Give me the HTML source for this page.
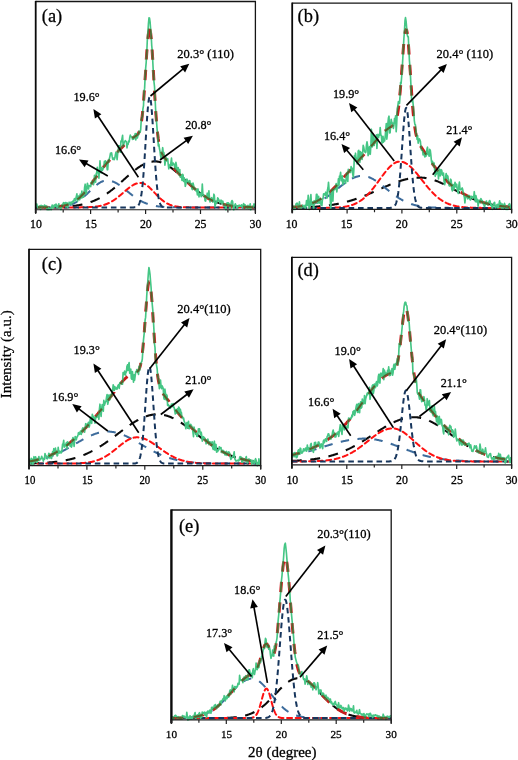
<!DOCTYPE html>
<html lang="en">
<head>
<meta charset="utf-8">
<title>XRD deconvolution</title>
<style>
html,body{margin:0;padding:0;background:#fff;}
body{width:518px;height:760px;overflow:hidden;font-family:"Liberation Serif",serif;}
svg{display:block;position:absolute;left:0;top:0;}
svg text{font-family:"Liberation Serif",serif;fill:#000;stroke:#000;stroke-width:0.28px;}
svg{will-change:transform;}
</style>
</head>
<body>
<svg width="518" height="760" viewBox="0 0 518 760">
<rect x="0" y="0" width="518" height="760" fill="#fff"/>
<g id="panel-a">
<clipPath id="clip-a"><rect x="35.7" y="1.5" width="219.70" height="209.00"/></clipPath>
<g clip-path="url(#clip-a)" fill="none" stroke-linejoin="round">
<path d="M35.7 207.4L36.2 207.4L36.7 207.4L37.2 207.4L37.7 207.4L38.2 207.4L38.7 207.4L39.2 207.4L39.7 207.4L40.2 207.4L40.7 207.3L41.2 207.3L41.7 207.3L42.2 207.3L42.7 207.3L43.2 207.3L43.7 207.3L44.2 207.3L44.7 207.3L45.2 207.3L45.7 207.3L46.2 207.3L46.7 207.3L47.2 207.3L47.7 207.3L48.2 207.3L48.7 207.3L49.2 207.3L49.7 207.3L50.2 207.2L50.7 207.2L51.2 207.2L51.7 207.2L52.2 207.2L52.7 207.2L53.2 207.2L53.7 207.2L54.2 207.2L54.7 207.2L55.2 207.1L55.7 207.1L56.2 207.1L56.7 207.1L57.2 207.1L57.7 207.1L58.2 207.0L58.7 207.0L59.2 207.0L59.7 207.0L60.2 207.0L60.7 206.9L61.2 206.9L61.7 206.9L62.2 206.9L62.7 206.9L63.2 206.8L63.7 206.8L64.2 206.8L64.7 206.7L65.2 206.7L65.7 206.7L66.2 206.6L66.7 206.6L67.2 206.6L67.7 206.5L68.2 206.5L68.7 206.4L69.2 206.4L69.7 206.4L70.2 206.3L70.7 206.3L71.2 206.2L71.7 206.2L72.2 206.1L72.7 206.0L73.2 206.0L73.7 205.9L74.2 205.9L74.7 205.8L75.2 205.7L75.7 205.7L76.2 205.6L76.7 205.5L77.2 205.4L77.7 205.3L78.2 205.3L78.7 205.2L79.2 205.1L79.7 205.0L80.2 204.9L80.7 204.8L81.2 204.7L81.7 204.6L82.2 204.5L82.7 204.4L83.2 204.3L83.7 204.1L84.2 204.0L84.7 203.9L85.2 203.8L85.7 203.6L86.2 203.5L86.7 203.3L87.2 203.2L87.7 203.0L88.2 202.9L88.7 202.7L89.2 202.6L89.7 202.4L90.2 202.2L90.7 202.0L91.2 201.9L91.7 201.7L92.2 201.5L92.7 201.3L93.2 201.1L93.7 200.9L94.2 200.7L94.7 200.5L95.2 200.2L95.7 200.0L96.2 199.8L96.7 199.6L97.2 199.3L97.7 199.1L98.2 198.8L98.7 198.6L99.2 198.3L99.7 198.0L100.2 197.8L100.7 197.5L101.2 197.2L101.7 196.9L102.2 196.6L102.7 196.3L103.2 196.0L103.7 195.7L104.2 195.4L104.7 195.1L105.2 194.7L105.7 194.4L106.2 194.1L106.7 193.7L107.2 193.4L107.7 193.0L108.2 192.7L108.7 192.3L109.2 192.0L109.7 191.6L110.2 191.2L110.7 190.8L111.2 190.4L111.7 190.1L112.2 189.7L112.7 189.3L113.2 188.9L113.7 188.5L114.2 188.1L114.7 187.6L115.2 187.2L115.7 186.8L116.2 186.4L116.7 186.0L117.2 185.5L117.7 185.1L118.2 184.7L118.7 184.2L119.2 183.8L119.7 183.3L120.2 182.9L120.7 182.5L121.2 182.0L121.7 181.6L122.2 181.1L122.7 180.7L123.2 180.2L123.7 179.8L124.2 179.3L124.7 178.9L125.2 178.4L125.7 178.0L126.2 177.5L126.7 177.1L127.2 176.6L127.7 176.2L128.2 175.7L128.7 175.3L129.2 174.9L129.7 174.4L130.2 174.0L130.7 173.6L131.2 173.1L131.7 172.7L132.2 172.3L132.7 171.9L133.2 171.5L133.7 171.1L134.2 170.7L134.7 170.3L135.2 169.9L135.7 169.5L136.2 169.1L136.7 168.8L137.2 168.4L137.7 168.0L138.2 167.7L138.7 167.3L139.2 167.0L139.7 166.7L140.2 166.4L140.7 166.0L141.2 165.7L141.7 165.4L142.2 165.2L142.7 164.9L143.2 164.6L143.7 164.4L144.2 164.1L144.7 163.9L145.2 163.6L145.7 163.4L146.2 163.2L146.7 163.0L147.2 162.8L147.7 162.7L148.2 162.5L148.7 162.3L149.2 162.2L149.7 162.1L150.2 161.9L150.7 161.8L151.2 161.7L151.7 161.7L152.2 161.6L152.7 161.5L153.2 161.5L153.7 161.4L154.2 161.4L154.7 161.4L155.2 161.4L155.7 161.4L156.2 161.4L156.7 161.5L157.2 161.5L157.7 161.6L158.2 161.7L158.7 161.8L159.2 161.9L159.7 162.0L160.2 162.1L160.7 162.3L161.2 162.4L161.7 162.6L162.2 162.7L162.7 162.9L163.2 163.1L163.7 163.4L164.2 163.6L164.7 163.8L165.2 164.1L165.7 164.3L166.2 164.6L166.7 164.9L167.2 165.2L167.7 165.5L168.2 165.8L168.7 166.1L169.2 166.4L169.7 166.8L170.2 167.1L170.7 167.5L171.2 167.8L171.7 168.2L172.2 168.6L172.7 169.0L173.2 169.4L173.7 169.8L174.2 170.2L174.7 170.6L175.2 171.0L175.7 171.4L176.2 171.9L176.7 172.3L177.2 172.7L177.7 173.2L178.2 173.6L178.7 174.1L179.2 174.5L179.7 175.0L180.2 175.5L180.7 175.9L181.2 176.4L181.7 176.9L182.2 177.3L182.7 177.8L183.2 178.3L183.7 178.7L184.2 179.2L184.7 179.7L185.2 180.2L185.7 180.6L186.2 181.1L186.7 181.6L187.2 182.0L187.7 182.5L188.2 183.0L188.7 183.4L189.2 183.9L189.7 184.4L190.2 184.8L190.7 185.3L191.2 185.7L191.7 186.2L192.2 186.6L192.7 187.1L193.2 187.5L193.7 187.9L194.2 188.4L194.7 188.8L195.2 189.2L195.7 189.6L196.2 190.1L196.7 190.5L197.2 190.9L197.7 191.3L198.2 191.7L198.7 192.0L199.2 192.4L199.7 192.8L200.2 193.2L200.7 193.5L201.2 193.9L201.7 194.3L202.2 194.6L202.7 195.0L203.2 195.3L203.7 195.6L204.2 196.0L204.7 196.3L205.2 196.6L205.7 196.9L206.2 197.2L206.7 197.5L207.2 197.8L207.7 198.1L208.2 198.4L208.7 198.6L209.2 198.9L209.7 199.2L210.2 199.4L210.7 199.7L211.2 199.9L211.7 200.1L212.2 200.4L212.7 200.6L213.2 200.8L213.7 201.0L214.2 201.3L214.7 201.5L215.2 201.7L215.7 201.9L216.2 202.1L216.7 202.2L217.2 202.4L217.7 202.6L218.2 202.8L218.7 202.9L219.2 203.1L219.7 203.2L220.2 203.4L220.7 203.5L221.2 203.7L221.7 203.8L222.2 204.0L222.7 204.1L223.2 204.2L223.7 204.3L224.2 204.5L224.7 204.6L225.2 204.7L225.7 204.8L226.2 204.9L226.7 205.0L227.2 205.1L227.7 205.2L228.2 205.3L228.7 205.4L229.2 205.5L229.7 205.5L230.2 205.6L230.7 205.7L231.2 205.8L231.7 205.8L232.2 205.9L232.7 206.0L233.2 206.0L233.7 206.1L234.2 206.1L234.7 206.2L235.2 206.3L235.7 206.3L236.2 206.4L236.7 206.4L237.2 206.5L237.7 206.5L238.2 206.5L238.7 206.6L239.2 206.6L239.7 206.7L240.2 206.7L240.7 206.7L241.2 206.8L241.7 206.8L242.2 206.8L242.7 206.8L243.2 206.9L243.7 206.9L244.2 206.9L244.7 206.9L245.2 207.0L245.7 207.0L246.2 207.0L246.7 207.0L247.2 207.1L247.7 207.1L248.2 207.1L248.7 207.1L249.2 207.1L249.7 207.1L250.2 207.1L250.7 207.2L251.2 207.2L251.7 207.2L252.2 207.2L252.7 207.2L253.2 207.2L253.7 207.2L254.2 207.2L254.7 207.2L255.2 207.3" stroke="#0a0a0a" stroke-width="2.1" stroke-dasharray="10 8.5"/>
<path d="M35.7 207.4L36.2 207.4L36.7 207.4L37.2 207.4L37.7 207.4L38.2 207.4L38.7 207.4L39.2 207.4L39.7 207.4L40.2 207.4L40.7 207.4L41.2 207.4L41.7 207.4L42.2 207.4L42.7 207.4L43.2 207.4L43.7 207.4L44.2 207.4L44.7 207.4L45.2 207.4L45.7 207.4L46.2 207.4L46.7 207.3L47.2 207.3L47.7 207.3L48.2 207.3L48.7 207.3L49.2 207.3L49.7 207.3L50.2 207.3L50.7 207.3L51.2 207.3L51.7 207.3L52.2 207.3L52.7 207.2L53.2 207.2L53.7 207.2L54.2 207.2L54.7 207.2L55.2 207.1L55.7 207.1L56.2 207.1L56.7 207.1L57.2 207.0L57.7 207.0L58.2 207.0L58.7 206.9L59.2 206.9L59.7 206.8L60.2 206.8L60.7 206.7L61.2 206.7L61.7 206.6L62.2 206.6L62.7 206.5L63.2 206.4L63.7 206.3L64.2 206.3L64.7 206.2L65.2 206.1L65.7 206.0L66.2 205.9L66.7 205.8L67.2 205.7L67.7 205.5L68.2 205.4L68.7 205.3L69.2 205.1L69.7 205.0L70.2 204.8L70.7 204.6L71.2 204.5L71.7 204.3L72.2 204.1L72.7 203.9L73.2 203.7L73.7 203.4L74.2 203.2L74.7 203.0L75.2 202.7L75.7 202.4L76.2 202.2L76.7 201.9L77.2 201.6L77.7 201.3L78.2 201.0L78.7 200.6L79.2 200.3L79.7 200.0L80.2 199.6L80.7 199.2L81.2 198.9L81.7 198.5L82.2 198.1L82.7 197.7L83.2 197.3L83.7 196.8L84.2 196.4L84.7 196.0L85.2 195.5L85.7 195.1L86.2 194.6L86.7 194.2L87.2 193.7L87.7 193.2L88.2 192.8L88.7 192.3L89.2 191.8L89.7 191.3L90.2 190.8L90.7 190.3L91.2 189.9L91.7 189.4L92.2 188.9L92.7 188.4L93.2 188.0L93.7 187.5L94.2 187.1L94.7 186.6L95.2 186.2L95.7 185.8L96.2 185.3L96.7 184.9L97.2 184.5L97.7 184.2L98.2 183.8L98.7 183.4L99.2 183.1L99.7 182.8L100.2 182.5L100.7 182.2L101.2 181.9L101.7 181.7L102.2 181.5L102.7 181.3L103.2 181.1L103.7 180.9L104.2 180.8L104.7 180.6L105.2 180.6L105.7 180.5L106.2 180.4L106.7 180.4L107.2 180.4L107.7 180.4L108.2 180.4L108.7 180.5L109.2 180.6L109.7 180.6L110.2 180.7L110.7 180.9L111.2 181.0L111.7 181.1L112.2 181.3L112.7 181.5L113.2 181.7L113.7 181.9L114.2 182.1L114.7 182.3L115.2 182.6L115.7 182.8L116.2 183.1L116.7 183.4L117.2 183.7L117.7 184.0L118.2 184.3L118.7 184.6L119.2 185.0L119.7 185.3L120.2 185.7L120.7 186.0L121.2 186.4L121.7 186.8L122.2 187.2L122.7 187.6L123.2 188.0L123.7 188.3L124.2 188.7L124.7 189.1L125.2 189.6L125.7 190.0L126.2 190.4L126.7 190.8L127.2 191.2L127.7 191.6L128.2 192.0L128.7 192.4L129.2 192.8L129.7 193.2L130.2 193.6L130.7 194.0L131.2 194.4L131.7 194.8L132.2 195.2L132.7 195.6L133.2 196.0L133.7 196.3L134.2 196.7L134.7 197.1L135.2 197.4L135.7 197.8L136.2 198.1L136.7 198.4L137.2 198.8L137.7 199.1L138.2 199.4L138.7 199.7L139.2 200.0L139.7 200.3L140.2 200.6L140.7 200.9L141.2 201.1L141.7 201.4L142.2 201.7L142.7 201.9L143.2 202.2L143.7 202.4L144.2 202.6L144.7 202.8L145.2 203.0L145.7 203.2L146.2 203.4L146.7 203.6L147.2 203.8L147.7 204.0L148.2 204.2L148.7 204.3L149.2 204.5L149.7 204.6L150.2 204.8L150.7 204.9L151.2 205.1L151.7 205.2L152.2 205.3L152.7 205.4L153.2 205.5L153.7 205.6L154.2 205.7L154.7 205.8L155.2 205.9L155.7 206.0L156.2 206.1L156.7 206.2L157.2 206.2L157.7 206.3L158.2 206.4L158.7 206.4L159.2 206.5L159.7 206.6L160.2 206.6L160.7 206.7L161.2 206.7L161.7 206.8L162.2 206.8L162.7 206.8L163.2 206.9L163.7 206.9L164.2 206.9L164.7 207.0L165.2 207.0L165.7 207.0L166.2 207.1L166.7 207.1L167.2 207.1L167.7 207.1L168.2 207.1L168.7 207.2L169.2 207.2L169.7 207.2L170.2 207.2L170.7 207.2L171.2 207.2L171.7 207.3L172.2 207.3L172.7 207.3L173.2 207.3L173.7 207.3L174.2 207.3L174.7 207.3L175.2 207.3L175.7 207.3L176.2 207.3L176.7 207.3L177.2 207.3L177.7 207.3L178.2 207.4L178.7 207.4L179.2 207.4L179.7 207.4L180.2 207.4L180.7 207.4L181.2 207.4L181.7 207.4L182.2 207.4L182.7 207.4L183.2 207.4L183.7 207.4L184.2 207.4L184.7 207.4L185.2 207.4L185.7 207.4L186.2 207.4L186.7 207.4L187.2 207.4L187.7 207.4L188.2 207.4L188.7 207.4L189.2 207.4L189.7 207.4L190.2 207.4L190.7 207.4L191.2 207.4L191.7 207.4L192.2 207.4L192.7 207.4L193.2 207.4L193.7 207.4L194.2 207.4L194.7 207.4L195.2 207.4L195.7 207.4L196.2 207.4L196.7 207.4L197.2 207.4L197.7 207.4L198.2 207.4L198.7 207.4L199.2 207.4L199.7 207.4L200.2 207.4L200.7 207.4L201.2 207.4L201.7 207.4L202.2 207.4L202.7 207.4L203.2 207.4L203.7 207.4L204.2 207.4L204.7 207.4L205.2 207.4L205.7 207.4L206.2 207.4L206.7 207.4L207.2 207.4L207.7 207.4L208.2 207.4L208.7 207.4L209.2 207.4L209.7 207.4L210.2 207.4L210.7 207.4L211.2 207.4L211.7 207.4L212.2 207.4L212.7 207.4L213.2 207.4L213.7 207.4L214.2 207.4L214.7 207.4L215.2 207.4L215.7 207.4L216.2 207.4L216.7 207.4L217.2 207.4L217.7 207.4L218.2 207.4L218.7 207.4L219.2 207.4L219.7 207.4L220.2 207.4L220.7 207.4L221.2 207.4L221.7 207.4L222.2 207.4L222.7 207.4L223.2 207.4L223.7 207.4L224.2 207.4L224.7 207.4L225.2 207.4L225.7 207.4L226.2 207.4L226.7 207.4L227.2 207.4L227.7 207.4L228.2 207.4L228.7 207.4L229.2 207.4L229.7 207.4L230.2 207.4L230.7 207.4L231.2 207.4L231.7 207.4L232.2 207.4L232.7 207.4L233.2 207.4L233.7 207.4L234.2 207.4L234.7 207.4L235.2 207.4L235.7 207.4L236.2 207.4L236.7 207.4L237.2 207.4L237.7 207.4L238.2 207.4L238.7 207.4L239.2 207.4L239.7 207.4L240.2 207.4L240.7 207.4L241.2 207.4L241.7 207.4L242.2 207.4L242.7 207.4L243.2 207.4L243.7 207.4L244.2 207.4L244.7 207.4L245.2 207.4L245.7 207.4L246.2 207.4L246.7 207.4L247.2 207.4L247.7 207.4L248.2 207.4L248.7 207.4L249.2 207.4L249.7 207.4L250.2 207.4L250.7 207.4L251.2 207.4L251.7 207.4L252.2 207.4L252.7 207.4L253.2 207.4L253.7 207.4L254.2 207.4L254.7 207.4L255.2 207.4" stroke="#3d6c9c" stroke-width="2.0" stroke-dasharray="8.5 8.5"/>
<path d="M35.7 207.4L36.2 207.4L36.7 207.4L37.2 207.4L37.7 207.4L38.2 207.4L38.7 207.4L39.2 207.4L39.7 207.4L40.2 207.4L40.7 207.4L41.2 207.4L41.7 207.4L42.2 207.4L42.7 207.4L43.2 207.4L43.7 207.4L44.2 207.4L44.7 207.4L45.2 207.4L45.7 207.4L46.2 207.4L46.7 207.4L47.2 207.4L47.7 207.4L48.2 207.4L48.7 207.4L49.2 207.4L49.7 207.4L50.2 207.4L50.7 207.4L51.2 207.4L51.7 207.4L52.2 207.4L52.7 207.4L53.2 207.4L53.7 207.4L54.2 207.4L54.7 207.4L55.2 207.4L55.7 207.4L56.2 207.4L56.7 207.4L57.2 207.4L57.7 207.4L58.2 207.4L58.7 207.4L59.2 207.4L59.7 207.4L60.2 207.4L60.7 207.4L61.2 207.4L61.7 207.4L62.2 207.4L62.7 207.4L63.2 207.4L63.7 207.4L64.2 207.4L64.7 207.4L65.2 207.4L65.7 207.4L66.2 207.4L66.7 207.4L67.2 207.4L67.7 207.4L68.2 207.4L68.7 207.4L69.2 207.4L69.7 207.4L70.2 207.4L70.7 207.4L71.2 207.4L71.7 207.4L72.2 207.4L72.7 207.4L73.2 207.4L73.7 207.4L74.2 207.4L74.7 207.4L75.2 207.4L75.7 207.4L76.2 207.4L76.7 207.4L77.2 207.4L77.7 207.4L78.2 207.4L78.7 207.4L79.2 207.4L79.7 207.4L80.2 207.4L80.7 207.3L81.2 207.3L81.7 207.3L82.2 207.3L82.7 207.3L83.2 207.3L83.7 207.3L84.2 207.3L84.7 207.3L85.2 207.3L85.7 207.3L86.2 207.2L86.7 207.2L87.2 207.2L87.7 207.2L88.2 207.2L88.7 207.2L89.2 207.1L89.7 207.1L90.2 207.1L90.7 207.1L91.2 207.0L91.7 207.0L92.2 207.0L92.7 206.9L93.2 206.9L93.7 206.8L94.2 206.8L94.7 206.7L95.2 206.7L95.7 206.6L96.2 206.6L96.7 206.5L97.2 206.4L97.7 206.4L98.2 206.3L98.7 206.2L99.2 206.1L99.7 206.0L100.2 205.9L100.7 205.8L101.2 205.7L101.7 205.6L102.2 205.4L102.7 205.3L103.2 205.2L103.7 205.0L104.2 204.9L104.7 204.7L105.2 204.5L105.7 204.3L106.2 204.2L106.7 204.0L107.2 203.8L107.7 203.5L108.2 203.3L108.7 203.1L109.2 202.9L109.7 202.6L110.2 202.3L110.7 202.1L111.2 201.8L111.7 201.5L112.2 201.2L112.7 200.9L113.2 200.6L113.7 200.3L114.2 199.9L114.7 199.6L115.2 199.2L115.7 198.9L116.2 198.5L116.7 198.1L117.2 197.7L117.7 197.4L118.2 197.0L118.7 196.6L119.2 196.1L119.7 195.7L120.2 195.3L120.7 194.9L121.2 194.5L121.7 194.0L122.2 193.6L122.7 193.2L123.2 192.7L123.7 192.3L124.2 191.8L124.7 191.4L125.2 191.0L125.7 190.5L126.2 190.1L126.7 189.7L127.2 189.3L127.7 188.9L128.2 188.5L128.7 188.1L129.2 187.7L129.7 187.3L130.2 186.9L130.7 186.6L131.2 186.2L131.7 185.9L132.2 185.6L132.7 185.3L133.2 185.0L133.7 184.7L134.2 184.5L134.7 184.2L135.2 184.0L135.7 183.8L136.2 183.6L136.7 183.5L137.2 183.3L137.7 183.2L138.2 183.1L138.7 183.0L139.2 183.0L139.7 182.9L140.2 182.9L140.7 182.9L141.2 182.9L141.7 183.0L142.2 183.1L142.7 183.2L143.2 183.4L143.7 183.6L144.2 183.8L144.7 184.0L145.2 184.3L145.7 184.6L146.2 184.9L146.7 185.3L147.2 185.6L147.7 186.0L148.2 186.4L148.7 186.8L149.2 187.3L149.7 187.8L150.2 188.2L150.7 188.7L151.2 189.2L151.7 189.7L152.2 190.2L152.7 190.7L153.2 191.3L153.7 191.8L154.2 192.3L154.7 192.9L155.2 193.4L155.7 193.9L156.2 194.4L156.7 195.0L157.2 195.5L157.7 196.0L158.2 196.5L158.7 197.0L159.2 197.5L159.7 197.9L160.2 198.4L160.7 198.8L161.2 199.3L161.7 199.7L162.2 200.1L162.7 200.5L163.2 200.9L163.7 201.3L164.2 201.6L164.7 202.0L165.2 202.3L165.7 202.6L166.2 202.9L166.7 203.2L167.2 203.5L167.7 203.7L168.2 204.0L168.7 204.2L169.2 204.4L169.7 204.7L170.2 204.9L170.7 205.0L171.2 205.2L171.7 205.4L172.2 205.5L172.7 205.7L173.2 205.8L173.7 206.0L174.2 206.1L174.7 206.2L175.2 206.3L175.7 206.4L176.2 206.5L176.7 206.6L177.2 206.6L177.7 206.7L178.2 206.8L178.7 206.8L179.2 206.9L179.7 206.9L180.2 207.0L180.7 207.0L181.2 207.0L181.7 207.1L182.2 207.1L182.7 207.1L183.2 207.2L183.7 207.2L184.2 207.2L184.7 207.2L185.2 207.3L185.7 207.3L186.2 207.3L186.7 207.3L187.2 207.3L187.7 207.3L188.2 207.3L188.7 207.3L189.2 207.3L189.7 207.4L190.2 207.4L190.7 207.4L191.2 207.4L191.7 207.4L192.2 207.4L192.7 207.4L193.2 207.4L193.7 207.4L194.2 207.4L194.7 207.4L195.2 207.4L195.7 207.4L196.2 207.4L196.7 207.4L197.2 207.4L197.7 207.4L198.2 207.4L198.7 207.4L199.2 207.4L199.7 207.4L200.2 207.4L200.7 207.4L201.2 207.4L201.7 207.4L202.2 207.4L202.7 207.4L203.2 207.4L203.7 207.4L204.2 207.4L204.7 207.4L205.2 207.4L205.7 207.4L206.2 207.4L206.7 207.4L207.2 207.4L207.7 207.4L208.2 207.4L208.7 207.4L209.2 207.4L209.7 207.4L210.2 207.4L210.7 207.4L211.2 207.4L211.7 207.4L212.2 207.4L212.7 207.4L213.2 207.4L213.7 207.4L214.2 207.4L214.7 207.4L215.2 207.4L215.7 207.4L216.2 207.4L216.7 207.4L217.2 207.4L217.7 207.4L218.2 207.4L218.7 207.4L219.2 207.4L219.7 207.4L220.2 207.4L220.7 207.4L221.2 207.4L221.7 207.4L222.2 207.4L222.7 207.4L223.2 207.4L223.7 207.4L224.2 207.4L224.7 207.4L225.2 207.4L225.7 207.4L226.2 207.4L226.7 207.4L227.2 207.4L227.7 207.4L228.2 207.4L228.7 207.4L229.2 207.4L229.7 207.4L230.2 207.4L230.7 207.4L231.2 207.4L231.7 207.4L232.2 207.4L232.7 207.4L233.2 207.4L233.7 207.4L234.2 207.4L234.7 207.4L235.2 207.4L235.7 207.4L236.2 207.4L236.7 207.4L237.2 207.4L237.7 207.4L238.2 207.4L238.7 207.4L239.2 207.4L239.7 207.4L240.2 207.4L240.7 207.4L241.2 207.4L241.7 207.4L242.2 207.4L242.7 207.4L243.2 207.4L243.7 207.4L244.2 207.4L244.7 207.4L245.2 207.4L245.7 207.4L246.2 207.4L246.7 207.4L247.2 207.4L247.7 207.4L248.2 207.4L248.7 207.4L249.2 207.4L249.7 207.4L250.2 207.4L250.7 207.4L251.2 207.4L251.7 207.4L252.2 207.4L252.7 207.4L253.2 207.4L253.7 207.4L254.2 207.4L254.7 207.4L255.2 207.4" stroke="#ff1010" stroke-width="2.0" stroke-dasharray="5 3.6" stroke-linecap="round"/>
<path d="M35.7 207.4L36.2 207.4L36.7 207.4L37.2 207.4L37.7 207.4L38.2 207.4L38.7 207.4L39.2 207.4L39.7 207.4L40.2 207.4L40.7 207.4L41.2 207.4L41.7 207.4L42.2 207.4L42.7 207.4L43.2 207.4L43.7 207.4L44.2 207.4L44.7 207.4L45.2 207.4L45.7 207.4L46.2 207.4L46.7 207.4L47.2 207.4L47.7 207.4L48.2 207.4L48.7 207.4L49.2 207.4L49.7 207.4L50.2 207.4L50.7 207.4L51.2 207.4L51.7 207.4L52.2 207.4L52.7 207.4L53.2 207.4L53.7 207.4L54.2 207.4L54.7 207.4L55.2 207.4L55.7 207.4L56.2 207.4L56.7 207.4L57.2 207.4L57.7 207.4L58.2 207.4L58.7 207.4L59.2 207.4L59.7 207.4L60.2 207.4L60.7 207.4L61.2 207.4L61.7 207.4L62.2 207.4L62.7 207.4L63.2 207.4L63.7 207.4L64.2 207.4L64.7 207.4L65.2 207.4L65.7 207.4L66.2 207.4L66.7 207.4L67.2 207.4L67.7 207.4L68.2 207.4L68.7 207.4L69.2 207.4L69.7 207.4L70.2 207.4L70.7 207.4L71.2 207.4L71.7 207.4L72.2 207.4L72.7 207.4L73.2 207.4L73.7 207.4L74.2 207.4L74.7 207.4L75.2 207.4L75.7 207.4L76.2 207.4L76.7 207.4L77.2 207.4L77.7 207.4L78.2 207.4L78.7 207.4L79.2 207.4L79.7 207.4L80.2 207.4L80.7 207.4L81.2 207.4L81.7 207.4L82.2 207.4L82.7 207.4L83.2 207.4L83.7 207.4L84.2 207.4L84.7 207.4L85.2 207.4L85.7 207.4L86.2 207.4L86.7 207.4L87.2 207.4L87.7 207.4L88.2 207.4L88.7 207.4L89.2 207.4L89.7 207.4L90.2 207.4L90.7 207.4L91.2 207.4L91.7 207.4L92.2 207.4L92.7 207.4L93.2 207.4L93.7 207.4L94.2 207.4L94.7 207.4L95.2 207.4L95.7 207.4L96.2 207.4L96.7 207.4L97.2 207.4L97.7 207.4L98.2 207.4L98.7 207.4L99.2 207.4L99.7 207.4L100.2 207.4L100.7 207.4L101.2 207.4L101.7 207.4L102.2 207.4L102.7 207.4L103.2 207.4L103.7 207.4L104.2 207.4L104.7 207.4L105.2 207.4L105.7 207.4L106.2 207.4L106.7 207.4L107.2 207.4L107.7 207.4L108.2 207.4L108.7 207.4L109.2 207.4L109.7 207.4L110.2 207.4L110.7 207.4L111.2 207.4L111.7 207.4L112.2 207.4L112.7 207.4L113.2 207.4L113.7 207.4L114.2 207.4L114.7 207.4L115.2 207.4L115.7 207.4L116.2 207.4L116.7 207.4L117.2 207.4L117.7 207.4L118.2 207.4L118.7 207.4L119.2 207.4L119.7 207.4L120.2 207.4L120.7 207.4L121.2 207.4L121.7 207.4L122.2 207.4L122.7 207.4L123.2 207.4L123.7 207.4L124.2 207.4L124.7 207.4L125.2 207.4L125.7 207.4L126.2 207.4L126.7 207.4L127.2 207.4L127.7 207.4L128.2 207.4L128.7 207.4L129.2 207.4L129.7 207.4L130.2 207.4L130.7 207.4L131.2 207.4L131.7 207.4L132.2 207.4L132.7 207.4L133.2 207.4L133.7 207.4L134.2 207.3L134.7 207.3L135.2 207.2L135.7 207.2L136.2 207.0L136.7 206.8L137.2 206.6L137.7 206.2L138.2 205.6L138.7 204.9L139.2 203.9L139.7 202.5L140.2 200.8L140.7 198.6L141.2 195.8L141.7 192.4L142.2 188.3L142.7 183.5L143.2 177.9L143.7 171.5L144.2 164.4L144.7 156.8L145.2 148.7L145.7 140.3L146.2 132.0L146.7 123.9L147.2 116.4L147.7 109.8L148.2 104.3L148.7 100.2L149.2 97.7L149.7 96.8L150.2 97.7L150.7 100.2L151.2 104.3L151.7 109.8L152.2 116.4L152.7 123.9L153.2 132.0L153.7 140.3L154.2 148.7L154.7 156.8L155.2 164.4L155.7 171.5L156.2 177.9L156.7 183.5L157.2 188.3L157.7 192.4L158.2 195.8L158.7 198.6L159.2 200.8L159.7 202.5L160.2 203.9L160.7 204.9L161.2 205.6L161.7 206.2L162.2 206.6L162.7 206.8L163.2 207.0L163.7 207.2L164.2 207.2L164.7 207.3L165.2 207.3L165.7 207.4L166.2 207.4L166.7 207.4L167.2 207.4L167.7 207.4L168.2 207.4L168.7 207.4L169.2 207.4L169.7 207.4L170.2 207.4L170.7 207.4L171.2 207.4L171.7 207.4L172.2 207.4L172.7 207.4L173.2 207.4L173.7 207.4L174.2 207.4L174.7 207.4L175.2 207.4L175.7 207.4L176.2 207.4L176.7 207.4L177.2 207.4L177.7 207.4L178.2 207.4L178.7 207.4L179.2 207.4L179.7 207.4L180.2 207.4L180.7 207.4L181.2 207.4L181.7 207.4L182.2 207.4L182.7 207.4L183.2 207.4L183.7 207.4L184.2 207.4L184.7 207.4L185.2 207.4L185.7 207.4L186.2 207.4L186.7 207.4L187.2 207.4L187.7 207.4L188.2 207.4L188.7 207.4L189.2 207.4L189.7 207.4L190.2 207.4L190.7 207.4L191.2 207.4L191.7 207.4L192.2 207.4L192.7 207.4L193.2 207.4L193.7 207.4L194.2 207.4L194.7 207.4L195.2 207.4L195.7 207.4L196.2 207.4L196.7 207.4L197.2 207.4L197.7 207.4L198.2 207.4L198.7 207.4L199.2 207.4L199.7 207.4L200.2 207.4L200.7 207.4L201.2 207.4L201.7 207.4L202.2 207.4L202.7 207.4L203.2 207.4L203.7 207.4L204.2 207.4L204.7 207.4L205.2 207.4L205.7 207.4L206.2 207.4L206.7 207.4L207.2 207.4L207.7 207.4L208.2 207.4L208.7 207.4L209.2 207.4L209.7 207.4L210.2 207.4L210.7 207.4L211.2 207.4L211.7 207.4L212.2 207.4L212.7 207.4L213.2 207.4L213.7 207.4L214.2 207.4L214.7 207.4L215.2 207.4L215.7 207.4L216.2 207.4L216.7 207.4L217.2 207.4L217.7 207.4L218.2 207.4L218.7 207.4L219.2 207.4L219.7 207.4L220.2 207.4L220.7 207.4L221.2 207.4L221.7 207.4L222.2 207.4L222.7 207.4L223.2 207.4L223.7 207.4L224.2 207.4L224.7 207.4L225.2 207.4L225.7 207.4L226.2 207.4L226.7 207.4L227.2 207.4L227.7 207.4L228.2 207.4L228.7 207.4L229.2 207.4L229.7 207.4L230.2 207.4L230.7 207.4L231.2 207.4L231.7 207.4L232.2 207.4L232.7 207.4L233.2 207.4L233.7 207.4L234.2 207.4L234.7 207.4L235.2 207.4L235.7 207.4L236.2 207.4L236.7 207.4L237.2 207.4L237.7 207.4L238.2 207.4L238.7 207.4L239.2 207.4L239.7 207.4L240.2 207.4L240.7 207.4L241.2 207.4L241.7 207.4L242.2 207.4L242.7 207.4L243.2 207.4L243.7 207.4L244.2 207.4L244.7 207.4L245.2 207.4L245.7 207.4L246.2 207.4L246.7 207.4L247.2 207.4L247.7 207.4L248.2 207.4L248.7 207.4L249.2 207.4L249.7 207.4L250.2 207.4L250.7 207.4L251.2 207.4L251.7 207.4L252.2 207.4L252.7 207.4L253.2 207.4L253.7 207.4L254.2 207.4L254.7 207.4L255.2 207.4" stroke="#17365d" stroke-width="2.0" stroke-dasharray="5.6 3.8"/>
<path d="M149.7 29.1L149.2 29.4L148.7 31.5L148.2 35.2L147.8 39.0M147.0 49.3L146.7 53.6L146.3 59.5M145.7 69.8L145.2 77.4L145.0 80.1M144.4 90.4L144.2 92.7L143.7 99.6L143.6 100.7M142.7 110.9L142.7 111.3L142.2 116.1L141.7 120.1L141.5 121.1M139.4 131.2L139.2 131.6L138.7 132.8L138.2 133.6L137.7 134.3L137.2 134.8L136.7 135.3L136.2 135.7L135.7 136.0L135.2 136.4L134.7 136.7L134.2 137.0L133.7 137.3L133.2 137.6L132.7 137.9L132.2 138.2M124.4 144.9L124.2 145.1L123.7 145.6L123.2 146.1L122.7 146.6L122.2 147.1L121.7 147.6L121.2 148.1L120.7 148.6L120.2 149.1L119.7 149.6L119.2 150.1L118.7 150.6L118.2 151.1L117.7 151.7L117.2 152.2L117.2 152.2M110.0 159.7L109.7 160.0L109.2 160.6L108.7 161.1L108.2 161.7L107.7 162.2L107.2 162.8L106.7 163.3L106.2 163.9L105.7 164.4L105.2 165.0L104.7 165.6L104.2 166.2L103.7 166.8L103.2 167.4M97.1 175.6L96.7 176.2L96.2 176.9L95.7 177.6L95.2 178.3L94.7 179.0L94.2 179.7L93.7 180.4L93.2 181.2L92.7 181.9L92.2 182.6L91.7 183.3L91.2 184.0L91.1 184.1M84.8 192.2L84.7 192.3L84.2 192.9L83.7 193.5L83.2 194.0L82.7 194.6L82.2 195.1L81.7 195.6L81.2 196.1L80.7 196.6L80.2 197.1L79.7 197.5L79.2 198.0L78.7 198.4L78.2 198.8L77.7 199.2L77.5 199.4M68.5 204.4L68.2 204.5L67.7 204.7L67.2 204.8L66.7 205.0L66.2 205.1L65.7 205.3L65.2 205.4L64.7 205.5L64.2 205.6L63.7 205.7L63.2 205.8L62.7 205.9L62.2 206.0L61.7 206.1L61.2 206.2L60.7 206.3L60.2 206.4L59.7 206.4L59.2 206.5L58.7 206.6L58.5 206.6M48.2 207.2L47.7 207.2L47.2 207.2L46.7 207.2L46.2 207.3L45.7 207.3L45.2 207.3L44.7 207.3L44.2 207.3L43.7 207.3L43.2 207.3L42.7 207.3L42.2 207.3L41.7 207.3L41.2 207.3L40.7 207.3L40.2 207.3L39.7 207.3L39.2 207.3L38.7 207.4L38.2 207.4L37.9 207.4M149.7 29.1L150.2 30.4L150.7 33.5L151.2 38.1L151.3 39.2M152.1 49.5L152.2 51.3L152.7 59.4L152.7 59.7M153.3 70.0L153.7 77.0L153.9 80.3M154.5 90.6L154.7 94.7L155.1 100.9M155.7 111.2L156.2 117.6L156.5 121.4M157.4 131.7L157.7 134.1L158.2 138.2L158.7 141.6L158.8 141.9M161.2 151.9L161.7 153.0L162.2 154.0L162.7 154.9L163.2 155.7L163.7 156.5L164.2 157.2L164.7 157.9L165.2 158.5L165.7 159.1L166.2 159.8L166.7 160.4L166.8 160.5M173.7 168.2L173.7 168.2L174.2 168.8L174.7 169.3L175.2 169.8L175.7 170.3L176.2 170.9L176.7 171.4L177.2 171.9L177.7 172.4L178.2 172.9L178.7 173.5L179.2 174.0L179.7 174.5L180.2 175.0L180.7 175.5L180.8 175.6M188.1 182.8L188.2 182.9L188.7 183.4L189.2 183.8L189.7 184.3L190.2 184.8L190.7 185.2L191.2 185.7L191.7 186.2L192.2 186.6L192.7 187.0L193.2 187.5L193.7 187.9L194.2 188.4L194.7 188.8L195.2 189.2L195.7 189.6L195.8 189.7M204.0 195.8L204.2 196.0L204.7 196.3L205.2 196.6L205.7 196.9L206.2 197.2L206.7 197.5L207.2 197.8L207.7 198.1L208.2 198.4L208.7 198.6L209.2 198.9L209.7 199.2L210.2 199.4L210.7 199.7L211.2 199.9L211.7 200.1L212.2 200.4L212.7 200.6L213.1 200.8M222.8 204.1L223.2 204.2L223.7 204.3L224.2 204.5L224.7 204.6L225.2 204.7L225.7 204.8L226.2 204.9L226.7 205.0L227.2 205.1L227.7 205.2L228.2 205.3L228.7 205.4L229.2 205.5L229.7 205.5L230.2 205.6L230.7 205.7L231.2 205.8L231.7 205.8L232.2 205.9L232.7 206.0L232.9 206.0M243.2 206.9L243.2 206.9L243.7 206.9L244.2 206.9L244.7 206.9L245.2 207.0L245.7 207.0L246.2 207.0L246.7 207.0L247.2 207.1L247.7 207.1L248.2 207.1L248.7 207.1L249.2 207.1L249.7 207.1L250.2 207.1L250.7 207.2L251.2 207.2L251.7 207.2L252.2 207.2L252.7 207.2L253.2 207.2L253.5 207.2" stroke="#c81c1c" stroke-width="3"/>
<defs><path id="gp-a" d="M35.7 206.7L36.2 204.6L36.8 204.0L37.3 207.1L37.9 207.8L38.4 208.0L39.0 206.3L39.5 206.7L40.1 205.7L40.6 209.7L41.2 205.3L41.7 206.2L42.3 205.8L42.8 206.8L43.4 207.7L43.9 206.3L44.5 205.1L45.0 206.8L45.6 207.3L46.1 205.7L46.7 208.0L47.2 210.1L47.8 207.0L48.3 207.8L48.9 210.3L49.4 209.4L50.0 208.1L50.5 209.2L51.1 210.2L51.6 207.5L52.2 205.0L52.7 206.5L53.3 208.1L53.8 206.3L54.4 204.9L54.9 206.6L55.5 205.6L56.0 204.1L56.6 206.1L57.1 208.0L57.7 206.1L58.2 205.5L58.8 203.8L59.3 207.9L59.9 208.2L60.4 208.0L61.0 209.9L61.5 206.7L62.1 204.5L62.6 206.7L63.2 203.1L63.7 202.7L64.3 203.3L64.8 203.8L65.4 202.6L65.9 206.9L66.5 204.3L67.0 202.7L67.6 207.7L68.1 204.6L68.7 204.2L69.2 202.2L69.8 203.9L70.3 203.6L70.9 202.2L71.4 204.5L72.0 201.8L72.5 202.0L73.1 200.8L73.6 202.4L74.2 199.1L74.7 198.6L75.3 200.5L75.8 198.8L76.4 196.2L76.9 193.9L77.5 201.4L78.0 197.6L78.6 196.1L79.1 197.4L79.7 199.8L80.2 194.2L80.8 198.3L81.3 195.2L81.9 191.0L82.4 197.6L83.0 196.1L83.5 197.2L84.1 193.2L84.6 187.5L85.2 184.2L85.7 193.9L86.3 193.4L86.8 187.9L87.4 183.3L87.9 185.1L88.5 189.0L89.0 186.4L89.6 185.5L90.1 185.7L90.7 186.7L91.2 183.1L91.8 181.4L92.3 181.9L92.9 182.0L93.4 184.7L94.0 182.6L94.5 175.4L95.1 177.4L95.6 182.2L96.2 173.7L96.7 172.5L97.3 167.3L97.8 171.6L98.4 174.9L98.9 178.1L99.5 169.0L100.0 160.8L100.6 170.3L101.1 172.9L101.7 167.6L102.2 170.5L102.8 169.5L103.3 168.4L103.9 165.9L104.4 161.4L105.0 163.5L105.5 160.9L106.1 164.0L106.6 162.3L107.2 169.8L107.7 169.7L108.3 160.0L108.8 161.7L109.4 158.5L109.9 156.6L110.5 153.2L111.0 153.5L111.6 152.8L112.1 156.2L112.7 159.2L113.2 159.5L113.8 158.1L114.3 159.6L114.9 157.7L115.4 154.6L116.0 152.2L116.5 153.4L117.1 159.7L117.6 154.1L118.2 150.0L118.7 145.7L119.3 145.9L119.8 150.8L120.4 152.2L120.9 141.0L121.5 141.7L122.0 138.6L122.6 135.4L123.1 146.2L123.7 144.7L124.2 142.3L124.8 141.3L125.3 140.7L125.9 141.5L126.4 141.6L127.0 147.9L127.5 144.3L128.1 144.4L128.6 141.1L129.2 141.9L129.7 137.8L130.3 135.1L130.8 136.5L131.4 136.7L131.9 137.2L132.5 139.4L133.0 138.6L133.6 139.2L134.1 135.7L134.7 135.7L135.2 133.6L135.8 140.0L136.3 133.5L136.9 136.5L137.4 137.9L138.0 135.1L138.5 134.9L139.1 131.1L139.6 131.6L140.2 132.2L140.7 129.3L141.3 119.3L141.8 117.2L142.4 117.0L142.9 109.2L143.5 105.6L144.0 91.5L144.6 88.4L145.1 77.9L145.7 67.6L146.2 62.3L146.8 51.5L147.3 40.5L147.9 32.0L148.4 24.2L149.0 17.9L149.5 18.0L150.1 22.0L150.6 29.0L151.2 35.3L151.7 45.3L152.3 51.5L152.8 62.0L153.4 73.9L153.9 81.1L154.5 86.5L155.0 96.3L155.6 109.3L156.1 115.1L156.7 124.1L157.2 130.3L157.8 134.4L158.3 146.0L158.9 144.3L159.4 148.5L160.0 151.1L160.5 155.4L161.1 158.1L161.6 157.6L162.2 151.8L162.7 147.7L163.3 153.6L163.8 152.4L164.4 156.7L164.9 165.1L165.5 160.3L166.0 157.4L166.6 160.9L167.1 159.9L167.7 158.7L168.2 164.2L168.8 168.8L169.3 165.6L169.9 164.7L170.4 165.8L171.0 161.8L171.5 158.1L172.1 165.5L172.6 164.7L173.2 163.1L173.7 164.3L174.3 164.0L174.8 169.2L175.4 167.5L175.9 162.3L176.5 165.7L177.0 172.6L177.6 170.6L178.1 167.5L178.7 170.4L179.2 175.1L179.8 169.6L180.3 177.2L180.9 175.0L181.4 175.4L182.0 180.4L182.5 174.3L183.1 175.1L183.6 181.5L184.2 177.9L184.7 179.9L185.3 186.3L185.8 184.5L186.4 180.7L186.9 179.0L187.5 180.6L188.0 182.0L188.6 181.4L189.1 183.6L189.7 180.5L190.2 182.8L190.8 183.9L191.3 183.5L191.9 188.6L192.4 189.6L193.0 183.0L193.5 184.9L194.1 188.4L194.6 187.6L195.2 189.9L195.7 188.9L196.3 191.4L196.8 190.0L197.4 194.9L197.9 188.8L198.5 191.7L199.0 196.9L199.6 194.4L200.1 194.0L200.7 193.1L201.2 196.6L201.8 193.9L202.3 184.1L202.9 194.9L203.4 195.3L204.0 196.0L204.5 195.5L205.1 200.8L205.6 201.1L206.2 196.6L206.7 196.8L207.3 193.2L207.8 198.2L208.4 198.2L208.9 190.8L209.5 198.1L210.0 201.9L210.6 200.1L211.1 199.6L211.7 197.7L212.2 199.0L212.8 202.0L213.3 200.6L213.9 194.2L214.4 195.8L215.0 206.8L215.5 203.9L216.1 203.8L216.6 201.0L217.2 201.9L217.7 197.9L218.3 198.8L218.8 199.8L219.4 201.6L219.9 202.9L220.5 202.4L221.0 200.1L221.6 201.2L222.1 203.9L222.7 201.1L223.2 202.5L223.8 204.0L224.3 205.9L224.9 206.0L225.4 206.1L226.0 210.3L226.5 204.4L227.1 202.8L227.6 204.8L228.2 202.8L228.7 203.3L229.3 204.0L229.8 210.0L230.4 207.4L230.9 204.4L231.5 201.7L232.0 200.6L232.6 201.4L233.1 207.0L233.7 210.3L234.2 206.1L234.8 205.4L235.3 203.9L235.9 205.5L236.4 205.6L237.0 208.8L237.5 206.2L238.1 206.7L238.6 205.8L239.2 205.1L239.7 206.2L240.3 205.8L240.8 206.2L241.4 204.9L241.9 205.0L242.5 207.2L243.0 207.9L243.6 203.6L244.1 205.6L244.7 204.7L245.2 205.2L245.8 207.4L246.3 208.4L246.9 206.9L247.4 206.1L248.0 205.4L248.5 208.7L249.1 208.6L249.6 207.3L250.2 203.9L250.7 210.1L251.3 207.4L251.8 207.5L252.4 206.3L252.9 207.4L253.5 206.5L254.0 203.8L254.6 205.3L255.1 205.9"/></defs>
<use href="#gp-a" fill="none" stroke="#45c685" stroke-width="1.65"/>
<mask id="gm-a" maskUnits="userSpaceOnUse" x="35.7" y="1.5" width="219.7" height="209.2"><use href="#gp-a" fill="none" stroke="#fff" stroke-width="1.65" stroke-linejoin="round"/></mask>
<path d="M149.7 29.1L149.2 29.4L148.7 31.5L148.2 35.2L147.8 39.0M147.0 49.3L146.7 53.6L146.3 59.5M145.7 69.8L145.2 77.4L145.0 80.1M144.4 90.4L144.2 92.7L143.7 99.6L143.6 100.7M142.7 110.9L142.7 111.3L142.2 116.1L141.7 120.1L141.5 121.1M139.4 131.2L139.2 131.6L138.7 132.8L138.2 133.6L137.7 134.3L137.2 134.8L136.7 135.3L136.2 135.7L135.7 136.0L135.2 136.4L134.7 136.7L134.2 137.0L133.7 137.3L133.2 137.6L132.7 137.9L132.2 138.2M124.4 144.9L124.2 145.1L123.7 145.6L123.2 146.1L122.7 146.6L122.2 147.1L121.7 147.6L121.2 148.1L120.7 148.6L120.2 149.1L119.7 149.6L119.2 150.1L118.7 150.6L118.2 151.1L117.7 151.7L117.2 152.2L117.2 152.2M110.0 159.7L109.7 160.0L109.2 160.6L108.7 161.1L108.2 161.7L107.7 162.2L107.2 162.8L106.7 163.3L106.2 163.9L105.7 164.4L105.2 165.0L104.7 165.6L104.2 166.2L103.7 166.8L103.2 167.4M97.1 175.6L96.7 176.2L96.2 176.9L95.7 177.6L95.2 178.3L94.7 179.0L94.2 179.7L93.7 180.4L93.2 181.2L92.7 181.9L92.2 182.6L91.7 183.3L91.2 184.0L91.1 184.1M84.8 192.2L84.7 192.3L84.2 192.9L83.7 193.5L83.2 194.0L82.7 194.6L82.2 195.1L81.7 195.6L81.2 196.1L80.7 196.6L80.2 197.1L79.7 197.5L79.2 198.0L78.7 198.4L78.2 198.8L77.7 199.2L77.5 199.4M68.5 204.4L68.2 204.5L67.7 204.7L67.2 204.8L66.7 205.0L66.2 205.1L65.7 205.3L65.2 205.4L64.7 205.5L64.2 205.6L63.7 205.7L63.2 205.8L62.7 205.9L62.2 206.0L61.7 206.1L61.2 206.2L60.7 206.3L60.2 206.4L59.7 206.4L59.2 206.5L58.7 206.6L58.5 206.6M48.2 207.2L47.7 207.2L47.2 207.2L46.7 207.2L46.2 207.3L45.7 207.3L45.2 207.3L44.7 207.3L44.2 207.3L43.7 207.3L43.2 207.3L42.7 207.3L42.2 207.3L41.7 207.3L41.2 207.3L40.7 207.3L40.2 207.3L39.7 207.3L39.2 207.3L38.7 207.4L38.2 207.4L37.9 207.4M149.7 29.1L150.2 30.4L150.7 33.5L151.2 38.1L151.3 39.2M152.1 49.5L152.2 51.3L152.7 59.4L152.7 59.7M153.3 70.0L153.7 77.0L153.9 80.3M154.5 90.6L154.7 94.7L155.1 100.9M155.7 111.2L156.2 117.6L156.5 121.4M157.4 131.7L157.7 134.1L158.2 138.2L158.7 141.6L158.8 141.9M161.2 151.9L161.7 153.0L162.2 154.0L162.7 154.9L163.2 155.7L163.7 156.5L164.2 157.2L164.7 157.9L165.2 158.5L165.7 159.1L166.2 159.8L166.7 160.4L166.8 160.5M173.7 168.2L173.7 168.2L174.2 168.8L174.7 169.3L175.2 169.8L175.7 170.3L176.2 170.9L176.7 171.4L177.2 171.9L177.7 172.4L178.2 172.9L178.7 173.5L179.2 174.0L179.7 174.5L180.2 175.0L180.7 175.5L180.8 175.6M188.1 182.8L188.2 182.9L188.7 183.4L189.2 183.8L189.7 184.3L190.2 184.8L190.7 185.2L191.2 185.7L191.7 186.2L192.2 186.6L192.7 187.0L193.2 187.5L193.7 187.9L194.2 188.4L194.7 188.8L195.2 189.2L195.7 189.6L195.8 189.7M204.0 195.8L204.2 196.0L204.7 196.3L205.2 196.6L205.7 196.9L206.2 197.2L206.7 197.5L207.2 197.8L207.7 198.1L208.2 198.4L208.7 198.6L209.2 198.9L209.7 199.2L210.2 199.4L210.7 199.7L211.2 199.9L211.7 200.1L212.2 200.4L212.7 200.6L213.1 200.8M222.8 204.1L223.2 204.2L223.7 204.3L224.2 204.5L224.7 204.6L225.2 204.7L225.7 204.8L226.2 204.9L226.7 205.0L227.2 205.1L227.7 205.2L228.2 205.3L228.7 205.4L229.2 205.5L229.7 205.5L230.2 205.6L230.7 205.7L231.2 205.8L231.7 205.8L232.2 205.9L232.7 206.0L232.9 206.0M243.2 206.9L243.2 206.9L243.7 206.9L244.2 206.9L244.7 206.9L245.2 207.0L245.7 207.0L246.2 207.0L246.7 207.0L247.2 207.1L247.7 207.1L248.2 207.1L248.7 207.1L249.2 207.1L249.7 207.1L250.2 207.1L250.7 207.2L251.2 207.2L251.7 207.2L252.2 207.2L252.7 207.2L253.2 207.2L253.5 207.2" stroke="#55612b" stroke-width="2.1" mask="url(#gm-a)"/>
</g>
<path d="M35.7 1.5L255.4 1.5L255.4 213.1" fill="none" stroke="#151515" stroke-width="1.3"/>
<path d="M35.7 0.85L35.7 213.1" fill="none" stroke="#0a0a0a" stroke-width="1.8"/>
<path d="M34.900000000000006 209.7L256.0 209.7" fill="none" stroke="#1c1c1c" stroke-width="1.15"/>
<path d="M35.7 209.7L35.7 213.9M63.2 209.7L63.2 212.5M90.6 209.7L90.6 213.9M118.1 209.7L118.1 212.5M145.6 209.7L145.6 213.9M173.0 209.7L173.0 212.5M200.5 209.7L200.5 213.9M227.9 209.7L227.9 212.5M255.4 209.7L255.4 213.9" fill="none" stroke="#222" stroke-width="1.2"/>
<text transform="translate(36.0 228.1) scale(1 1.09)" font-size="11.85" text-anchor="middle" stroke-width="0.06">10</text>
<text transform="translate(90.9 228.1) scale(1 1.09)" font-size="11.85" text-anchor="middle" stroke-width="0.06">15</text>
<text transform="translate(145.8 228.1) scale(1 1.09)" font-size="11.85" text-anchor="middle" stroke-width="0.06">20</text>
<text transform="translate(200.6 228.1) scale(1 1.09)" font-size="11.85" text-anchor="middle" stroke-width="0.06">25</text>
<text transform="translate(255.5 228.1) scale(1 1.09)" font-size="11.85" text-anchor="middle" stroke-width="0.06">30</text>
<text x="41.8" y="22.1" font-size="18.4">(a)</text>
<path d="M150.5 96.0L183.4 68.7" stroke="#000" stroke-width="1.65" fill="none"/><path d="M189.3 63.8L185.1 72.4L180.2 66.3Z" fill="#000"/>
<path d="M138.4 177.3L97.6 115.5" stroke="#000" stroke-width="1.65" fill="none"/><path d="M93.4 109.1L101.4 114.2L94.9 118.5Z" fill="#000"/>
<path d="M107.8 176.0L85.7 163.3" stroke="#000" stroke-width="1.65" fill="none"/><path d="M79.0 159.5L88.5 160.4L84.6 167.2Z" fill="#000"/>
<path d="M160.0 160.0L186.7 140.3" stroke="#000" stroke-width="1.65" fill="none"/><path d="M192.9 135.7L188.2 144.0L183.6 137.8Z" fill="#000"/>
<text transform="translate(177.3 57.7) scale(1 1.06)" font-size="12.5" stroke-width="0.2">20.3° (110)</text>
<text transform="translate(73.5 101) scale(1 1.06)" font-size="12.2" stroke-width="0.2">19.6°</text>
<text transform="translate(55 153.5) scale(1 1.06)" font-size="12.2" stroke-width="0.2">16.6°</text>
<text transform="translate(185.2 129.4) scale(1 1.06)" font-size="12.2" stroke-width="0.2">20.8°</text>
</g>
<g id="panel-b">
<clipPath id="clip-b"><rect x="292.2" y="3.2" width="219.40" height="207.00"/></clipPath>
<g clip-path="url(#clip-b)" fill="none" stroke-linejoin="round">
<path d="M292.2 207.7L292.7 207.7L293.2 207.6L293.7 207.6L294.2 207.6L294.7 207.6L295.2 207.6L295.7 207.6L296.2 207.6L296.7 207.6L297.2 207.6L297.7 207.5L298.2 207.5L298.7 207.5L299.2 207.5L299.7 207.5L300.2 207.5L300.7 207.5L301.2 207.4L301.7 207.4L302.2 207.4L302.7 207.4L303.2 207.4L303.7 207.4L304.2 207.3L304.7 207.3L305.2 207.3L305.7 207.3L306.2 207.3L306.7 207.2L307.2 207.2L307.7 207.2L308.2 207.2L308.7 207.1L309.2 207.1L309.7 207.1L310.2 207.1L310.7 207.0L311.2 207.0L311.7 207.0L312.2 206.9L312.7 206.9L313.2 206.9L313.7 206.8L314.2 206.8L314.7 206.8L315.2 206.7L315.7 206.7L316.2 206.7L316.7 206.6L317.2 206.6L317.7 206.6L318.2 206.5L318.7 206.5L319.2 206.4L319.7 206.4L320.2 206.3L320.7 206.3L321.2 206.2L321.7 206.2L322.2 206.1L322.7 206.1L323.2 206.0L323.7 206.0L324.2 205.9L324.7 205.9L325.2 205.8L325.7 205.7L326.2 205.7L326.7 205.6L327.2 205.6L327.7 205.5L328.2 205.4L328.7 205.4L329.2 205.3L329.7 205.2L330.2 205.1L330.7 205.1L331.2 205.0L331.7 204.9L332.2 204.8L332.7 204.8L333.2 204.7L333.7 204.6L334.2 204.5L334.7 204.4L335.2 204.3L335.7 204.2L336.2 204.1L336.7 204.1L337.2 204.0L337.7 203.9L338.2 203.8L338.7 203.7L339.2 203.6L339.7 203.4L340.2 203.3L340.7 203.2L341.2 203.1L341.7 203.0L342.2 202.9L342.7 202.8L343.2 202.7L343.7 202.5L344.2 202.4L344.7 202.3L345.2 202.2L345.7 202.0L346.2 201.9L346.7 201.8L347.2 201.6L347.7 201.5L348.2 201.4L348.7 201.2L349.2 201.1L349.7 200.9L350.2 200.8L350.7 200.6L351.2 200.5L351.7 200.3L352.2 200.2L352.7 200.0L353.2 199.9L353.7 199.7L354.2 199.5L354.7 199.4L355.2 199.2L355.7 199.0L356.2 198.9L356.7 198.7L357.2 198.5L357.7 198.3L358.2 198.2L358.7 198.0L359.2 197.8L359.7 197.6L360.2 197.4L360.7 197.3L361.2 197.1L361.7 196.9L362.2 196.7L362.7 196.5L363.2 196.3L363.7 196.1L364.2 195.9L364.7 195.7L365.2 195.5L365.7 195.3L366.2 195.1L366.7 194.9L367.2 194.7L367.7 194.5L368.2 194.3L368.7 194.0L369.2 193.8L369.7 193.6L370.2 193.4L370.7 193.2L371.2 193.0L371.7 192.8L372.2 192.5L372.7 192.3L373.2 192.1L373.7 191.9L374.2 191.7L374.7 191.4L375.2 191.2L375.7 191.0L376.2 190.8L376.7 190.6L377.2 190.3L377.7 190.1L378.2 189.9L378.7 189.7L379.2 189.4L379.7 189.2L380.2 189.0L380.7 188.8L381.2 188.5L381.7 188.3L382.2 188.1L382.7 187.9L383.2 187.6L383.7 187.4L384.2 187.2L384.7 187.0L385.2 186.8L385.7 186.5L386.2 186.3L386.7 186.1L387.2 185.9L387.7 185.7L388.2 185.5L388.7 185.3L389.2 185.0L389.7 184.8L390.2 184.6L390.7 184.4L391.2 184.2L391.7 184.0L392.2 183.8L392.7 183.6L393.2 183.4L393.7 183.2L394.2 183.0L394.7 182.9L395.2 182.7L395.7 182.5L396.2 182.3L396.7 182.1L397.2 181.9L397.7 181.8L398.2 181.6L398.7 181.4L399.2 181.3L399.7 181.1L400.2 180.9L400.7 180.8L401.2 180.6L401.7 180.5L402.2 180.3L402.7 180.2L403.2 180.0L403.7 179.9L404.2 179.8L404.7 179.6L405.2 179.5L405.7 179.4L406.2 179.3L406.7 179.2L407.2 179.0L407.7 178.9L408.2 178.8L408.7 178.7L409.2 178.6L409.7 178.5L410.2 178.5L410.7 178.4L411.2 178.3L411.7 178.2L412.2 178.1L412.7 178.1L413.2 178.0L413.7 178.0L414.2 177.9L414.7 177.9L415.2 177.8L415.7 177.8L416.2 177.7L416.7 177.7L417.2 177.7L417.7 177.6L418.2 177.6L418.7 177.6L419.2 177.6L419.7 177.6L420.2 177.6L420.7 177.6L421.2 177.6L421.7 177.6L422.2 177.7L422.7 177.7L423.2 177.7L423.7 177.8L424.2 177.8L424.7 177.9L425.2 178.0L425.7 178.0L426.2 178.1L426.7 178.2L427.2 178.3L427.7 178.4L428.2 178.5L428.7 178.6L429.2 178.7L429.7 178.8L430.2 178.9L430.7 179.1L431.2 179.2L431.7 179.3L432.2 179.5L432.7 179.6L433.2 179.8L433.7 180.0L434.2 180.1L434.7 180.3L435.2 180.5L435.7 180.7L436.2 180.9L436.7 181.0L437.2 181.2L437.7 181.4L438.2 181.6L438.7 181.9L439.2 182.1L439.7 182.3L440.2 182.5L440.7 182.7L441.2 183.0L441.7 183.2L442.2 183.4L442.7 183.7L443.2 183.9L443.7 184.1L444.2 184.4L444.7 184.6L445.2 184.9L445.7 185.1L446.2 185.4L446.7 185.6L447.2 185.9L447.7 186.2L448.2 186.4L448.7 186.7L449.2 186.9L449.7 187.2L450.2 187.5L450.7 187.7L451.2 188.0L451.7 188.3L452.2 188.6L452.7 188.8L453.2 189.1L453.7 189.4L454.2 189.6L454.7 189.9L455.2 190.2L455.7 190.4L456.2 190.7L456.7 191.0L457.2 191.2L457.7 191.5L458.2 191.8L458.7 192.0L459.2 192.3L459.7 192.6L460.2 192.8L460.7 193.1L461.2 193.4L461.7 193.6L462.2 193.9L462.7 194.1L463.2 194.4L463.7 194.6L464.2 194.9L464.7 195.1L465.2 195.4L465.7 195.6L466.2 195.9L466.7 196.1L467.2 196.3L467.7 196.6L468.2 196.8L468.7 197.0L469.2 197.3L469.7 197.5L470.2 197.7L470.7 197.9L471.2 198.1L471.7 198.4L472.2 198.6L472.7 198.8L473.2 199.0L473.7 199.2L474.2 199.4L474.7 199.6L475.2 199.8L475.7 200.0L476.2 200.2L476.7 200.4L477.2 200.5L477.7 200.7L478.2 200.9L478.7 201.1L479.2 201.2L479.7 201.4L480.2 201.6L480.7 201.7L481.2 201.9L481.7 202.1L482.2 202.2L482.7 202.4L483.2 202.5L483.7 202.7L484.2 202.8L484.7 202.9L485.2 203.1L485.7 203.2L486.2 203.3L486.7 203.5L487.2 203.6L487.7 203.7L488.2 203.8L488.7 204.0L489.2 204.1L489.7 204.2L490.2 204.3L490.7 204.4L491.2 204.5L491.7 204.6L492.2 204.7L492.7 204.8L493.2 204.9L493.7 205.0L494.2 205.1L494.7 205.2L495.2 205.3L495.7 205.4L496.2 205.4L496.7 205.5L497.2 205.6L497.7 205.7L498.2 205.7L498.7 205.8L499.2 205.9L499.7 206.0L500.2 206.0L500.7 206.1L501.2 206.2L501.7 206.2L502.2 206.3L502.7 206.3L503.2 206.4L503.7 206.4L504.2 206.5L504.7 206.5L505.2 206.6L505.7 206.6L506.2 206.7L506.7 206.7L507.2 206.8L507.7 206.8L508.2 206.9L508.7 206.9L509.2 206.9L509.7 207.0L510.2 207.0L510.7 207.0L511.2 207.1" stroke="#0a0a0a" stroke-width="2.1" stroke-dasharray="10 8.5"/>
<path d="M292.2 207.4L292.7 207.4L293.2 207.4L293.7 207.3L294.2 207.3L294.7 207.3L295.2 207.2L295.7 207.2L296.2 207.2L296.7 207.1L297.2 207.1L297.7 207.0L298.2 207.0L298.7 206.9L299.2 206.9L299.7 206.8L300.2 206.7L300.7 206.7L301.2 206.6L301.7 206.5L302.2 206.5L302.7 206.4L303.2 206.3L303.7 206.2L304.2 206.1L304.7 206.0L305.2 206.0L305.7 205.9L306.2 205.8L306.7 205.6L307.2 205.5L307.7 205.4L308.2 205.3L308.7 205.2L309.2 205.1L309.7 204.9L310.2 204.8L310.7 204.6L311.2 204.5L311.7 204.3L312.2 204.2L312.7 204.0L313.2 203.9L313.7 203.7L314.2 203.5L314.7 203.3L315.2 203.1L315.7 202.9L316.2 202.7L316.7 202.5L317.2 202.3L317.7 202.1L318.2 201.8L318.7 201.6L319.2 201.4L319.7 201.1L320.2 200.9L320.7 200.6L321.2 200.4L321.7 200.1L322.2 199.8L322.7 199.5L323.2 199.2L323.7 198.9L324.2 198.6L324.7 198.3L325.2 198.0L325.7 197.7L326.2 197.4L326.7 197.1L327.2 196.7L327.7 196.4L328.2 196.0L328.7 195.7L329.2 195.3L329.7 195.0L330.2 194.6L330.7 194.2L331.2 193.9L331.7 193.5L332.2 193.1L332.7 192.7L333.2 192.3L333.7 191.9L334.2 191.5L334.7 191.1L335.2 190.7L335.7 190.3L336.2 189.9L336.7 189.5L337.2 189.1L337.7 188.7L338.2 188.3L338.7 187.9L339.2 187.5L339.7 187.1L340.2 186.7L340.7 186.3L341.2 185.9L341.7 185.5L342.2 185.1L342.7 184.7L343.2 184.4L343.7 184.0L344.2 183.6L344.7 183.2L345.2 182.9L345.7 182.5L346.2 182.1L346.7 181.8L347.2 181.4L347.7 181.1L348.2 180.8L348.7 180.5L349.2 180.1L349.7 179.8L350.2 179.5L350.7 179.3L351.2 179.0L351.7 178.7L352.2 178.5L352.7 178.2L353.2 178.0L353.7 177.8L354.2 177.5L354.7 177.3L355.2 177.2L355.7 177.0L356.2 176.8L356.7 176.7L357.2 176.5L357.7 176.4L358.2 176.3L358.7 176.2L359.2 176.1L359.7 176.0L360.2 176.0L360.7 175.9L361.2 175.9L361.7 175.9L362.2 175.9L362.7 175.9L363.2 175.9L363.7 176.0L364.2 176.0L364.7 176.1L365.2 176.2L365.7 176.3L366.2 176.4L366.7 176.5L367.2 176.6L367.7 176.8L368.2 177.0L368.7 177.1L369.2 177.3L369.7 177.5L370.2 177.7L370.7 177.9L371.2 178.2L371.7 178.4L372.2 178.7L372.7 178.9L373.2 179.2L373.7 179.5L374.2 179.8L374.7 180.1L375.2 180.4L375.7 180.7L376.2 181.0L376.7 181.4L377.2 181.7L377.7 182.1L378.2 182.4L378.7 182.8L379.2 183.1L379.7 183.5L380.2 183.9L380.7 184.3L381.2 184.7L381.7 185.1L382.2 185.4L382.7 185.8L383.2 186.2L383.7 186.6L384.2 187.0L384.7 187.4L385.2 187.8L385.7 188.2L386.2 188.7L386.7 189.1L387.2 189.5L387.7 189.9L388.2 190.3L388.7 190.7L389.2 191.1L389.7 191.5L390.2 191.9L390.7 192.2L391.2 192.6L391.7 193.0L392.2 193.4L392.7 193.8L393.2 194.2L393.7 194.5L394.2 194.9L394.7 195.3L395.2 195.6L395.7 196.0L396.2 196.3L396.7 196.6L397.2 197.0L397.7 197.3L398.2 197.6L398.7 198.0L399.2 198.3L399.7 198.6L400.2 198.9L400.7 199.2L401.2 199.5L401.7 199.8L402.2 200.0L402.7 200.3L403.2 200.6L403.7 200.8L404.2 201.1L404.7 201.3L405.2 201.6L405.7 201.8L406.2 202.0L406.7 202.3L407.2 202.5L407.7 202.7L408.2 202.9L408.7 203.1L409.2 203.3L409.7 203.5L410.2 203.6L410.7 203.8L411.2 204.0L411.7 204.2L412.2 204.3L412.7 204.5L413.2 204.6L413.7 204.8L414.2 204.9L414.7 205.0L415.2 205.2L415.7 205.3L416.2 205.4L416.7 205.5L417.2 205.6L417.7 205.7L418.2 205.8L418.7 205.9L419.2 206.0L419.7 206.1L420.2 206.2L420.7 206.3L421.2 206.4L421.7 206.4L422.2 206.5L422.7 206.6L423.2 206.7L423.7 206.7L424.2 206.8L424.7 206.8L425.2 206.9L425.7 207.0L426.2 207.0L426.7 207.1L427.2 207.1L427.7 207.1L428.2 207.2L428.7 207.2L429.2 207.3L429.7 207.3L430.2 207.3L430.7 207.4L431.2 207.4L431.7 207.4L432.2 207.5L432.7 207.5L433.2 207.5L433.7 207.5L434.2 207.6L434.7 207.6L435.2 207.6L435.7 207.6L436.2 207.6L436.7 207.6L437.2 207.7L437.7 207.7L438.2 207.7L438.7 207.7L439.2 207.7L439.7 207.7L440.2 207.7L440.7 207.8L441.2 207.8L441.7 207.8L442.2 207.8L442.7 207.8L443.2 207.8L443.7 207.8L444.2 207.8L444.7 207.8L445.2 207.8L445.7 207.8L446.2 207.8L446.7 207.8L447.2 207.8L447.7 207.8L448.2 207.8L448.7 207.9L449.2 207.9L449.7 207.9L450.2 207.9L450.7 207.9L451.2 207.9L451.7 207.9L452.2 207.9L452.7 207.9L453.2 207.9L453.7 207.9L454.2 207.9L454.7 207.9L455.2 207.9L455.7 207.9L456.2 207.9L456.7 207.9L457.2 207.9L457.7 207.9L458.2 207.9L458.7 207.9L459.2 207.9L459.7 207.9L460.2 207.9L460.7 207.9L461.2 207.9L461.7 207.9L462.2 207.9L462.7 207.9L463.2 207.9L463.7 207.9L464.2 207.9L464.7 207.9L465.2 207.9L465.7 207.9L466.2 207.9L466.7 207.9L467.2 207.9L467.7 207.9L468.2 207.9L468.7 207.9L469.2 207.9L469.7 207.9L470.2 207.9L470.7 207.9L471.2 207.9L471.7 207.9L472.2 207.9L472.7 207.9L473.2 207.9L473.7 207.9L474.2 207.9L474.7 207.9L475.2 207.9L475.7 207.9L476.2 207.9L476.7 207.9L477.2 207.9L477.7 207.9L478.2 207.9L478.7 207.9L479.2 207.9L479.7 207.9L480.2 207.9L480.7 207.9L481.2 207.9L481.7 207.9L482.2 207.9L482.7 207.9L483.2 207.9L483.7 207.9L484.2 207.9L484.7 207.9L485.2 207.9L485.7 207.9L486.2 207.9L486.7 207.9L487.2 207.9L487.7 207.9L488.2 207.9L488.7 207.9L489.2 207.9L489.7 207.9L490.2 207.9L490.7 207.9L491.2 207.9L491.7 207.9L492.2 207.9L492.7 207.9L493.2 207.9L493.7 207.9L494.2 207.9L494.7 207.9L495.2 207.9L495.7 207.9L496.2 207.9L496.7 207.9L497.2 207.9L497.7 207.9L498.2 207.9L498.7 207.9L499.2 207.9L499.7 207.9L500.2 207.9L500.7 207.9L501.2 207.9L501.7 207.9L502.2 207.9L502.7 207.9L503.2 207.9L503.7 207.9L504.2 207.9L504.7 207.9L505.2 207.9L505.7 207.9L506.2 207.9L506.7 207.9L507.2 207.9L507.7 207.9L508.2 207.9L508.7 207.9L509.2 207.9L509.7 207.9L510.2 207.9L510.7 207.9L511.2 207.9" stroke="#3d6c9c" stroke-width="2.0" stroke-dasharray="8.5 8.5"/>
<path d="M292.2 207.9L292.7 207.9L293.2 207.9L293.7 207.9L294.2 207.9L294.7 207.9L295.2 207.9L295.7 207.9L296.2 207.9L296.7 207.9L297.2 207.9L297.7 207.9L298.2 207.9L298.7 207.9L299.2 207.9L299.7 207.9L300.2 207.9L300.7 207.9L301.2 207.9L301.7 207.9L302.2 207.9L302.7 207.9L303.2 207.9L303.7 207.9L304.2 207.9L304.7 207.9L305.2 207.9L305.7 207.9L306.2 207.9L306.7 207.9L307.2 207.9L307.7 207.9L308.2 207.9L308.7 207.9L309.2 207.9L309.7 207.9L310.2 207.9L310.7 207.9L311.2 207.9L311.7 207.9L312.2 207.9L312.7 207.9L313.2 207.9L313.7 207.9L314.2 207.9L314.7 207.9L315.2 207.9L315.7 207.9L316.2 207.9L316.7 207.9L317.2 207.9L317.7 207.9L318.2 207.9L318.7 207.9L319.2 207.9L319.7 207.9L320.2 207.9L320.7 207.9L321.2 207.9L321.7 207.9L322.2 207.9L322.7 207.9L323.2 207.9L323.7 207.9L324.2 207.9L324.7 207.9L325.2 207.8L325.7 207.8L326.2 207.8L326.7 207.8L327.2 207.8L327.7 207.8L328.2 207.8L328.7 207.8L329.2 207.8L329.7 207.8L330.2 207.8L330.7 207.8L331.2 207.7L331.7 207.7L332.2 207.7L332.7 207.7L333.2 207.7L333.7 207.7L334.2 207.6L334.7 207.6L335.2 207.6L335.7 207.6L336.2 207.6L336.7 207.5L337.2 207.5L337.7 207.5L338.2 207.4L338.7 207.4L339.2 207.4L339.7 207.3L340.2 207.3L340.7 207.2L341.2 207.2L341.7 207.1L342.2 207.1L342.7 207.0L343.2 207.0L343.7 206.9L344.2 206.8L344.7 206.7L345.2 206.7L345.7 206.6L346.2 206.5L346.7 206.4L347.2 206.3L347.7 206.2L348.2 206.1L348.7 206.0L349.2 205.8L349.7 205.7L350.2 205.6L350.7 205.4L351.2 205.3L351.7 205.1L352.2 204.9L352.7 204.8L353.2 204.6L353.7 204.4L354.2 204.2L354.7 204.0L355.2 203.8L355.7 203.5L356.2 203.3L356.7 203.0L357.2 202.8L357.7 202.5L358.2 202.2L358.7 201.9L359.2 201.6L359.7 201.3L360.2 201.0L360.7 200.7L361.2 200.3L361.7 199.9L362.2 199.6L362.7 199.2L363.2 198.8L363.7 198.4L364.2 198.0L364.7 197.5L365.2 197.1L365.7 196.6L366.2 196.1L366.7 195.6L367.2 195.1L367.7 194.6L368.2 194.1L368.7 193.6L369.2 193.0L369.7 192.5L370.2 191.9L370.7 191.3L371.2 190.7L371.7 190.1L372.2 189.5L372.7 188.9L373.2 188.3L373.7 187.6L374.2 187.0L374.7 186.3L375.2 185.7L375.7 185.0L376.2 184.3L376.7 183.7L377.2 183.0L377.7 182.3L378.2 181.6L378.7 180.9L379.2 180.2L379.7 179.5L380.2 178.8L380.7 178.2L381.2 177.5L381.7 176.8L382.2 176.1L382.7 175.4L383.2 174.8L383.7 174.1L384.2 173.4L384.7 172.8L385.2 172.2L385.7 171.5L386.2 170.9L386.7 170.3L387.2 169.7L387.7 169.1L388.2 168.6L388.7 168.0L389.2 167.5L389.7 167.0L390.2 166.5L390.7 166.0L391.2 165.6L391.7 165.1L392.2 164.7L392.7 164.3L393.2 164.0L393.7 163.6L394.2 163.3L394.7 163.0L395.2 162.8L395.7 162.5L396.2 162.3L396.7 162.1L397.2 162.0L397.7 161.8L398.2 161.7L398.7 161.7L399.2 161.6L399.7 161.6L400.2 161.6L400.7 161.6L401.2 161.7L401.7 161.8L402.2 161.9L402.7 162.0L403.2 162.1L403.7 162.3L404.2 162.5L404.7 162.7L405.2 163.0L405.7 163.2L406.2 163.5L406.7 163.8L407.2 164.1L407.7 164.5L408.2 164.9L408.7 165.2L409.2 165.6L409.7 166.1L410.2 166.5L410.7 166.9L411.2 167.4L411.7 167.9L412.2 168.4L412.7 168.9L413.2 169.4L413.7 170.0L414.2 170.5L414.7 171.1L415.2 171.7L415.7 172.2L416.2 172.8L416.7 173.4L417.2 174.0L417.7 174.6L418.2 175.3L418.7 175.9L419.2 176.5L419.7 177.1L420.2 177.8L420.7 178.4L421.2 179.1L421.7 179.7L422.2 180.3L422.7 181.0L423.2 181.6L423.7 182.2L424.2 182.9L424.7 183.5L425.2 184.1L425.7 184.7L426.2 185.4L426.7 186.0L427.2 186.6L427.7 187.2L428.2 187.8L428.7 188.4L429.2 188.9L429.7 189.5L430.2 190.1L430.7 190.6L431.2 191.2L431.7 191.7L432.2 192.2L432.7 192.8L433.2 193.3L433.7 193.8L434.2 194.3L434.7 194.7L435.2 195.2L435.7 195.7L436.2 196.1L436.7 196.6L437.2 197.0L437.7 197.4L438.2 197.8L438.7 198.2L439.2 198.6L439.7 199.0L440.2 199.3L440.7 199.7L441.2 200.0L441.7 200.4L442.2 200.7L442.7 201.0L443.2 201.3L443.7 201.6L444.2 201.9L444.7 202.1L445.2 202.4L445.7 202.6L446.2 202.9L446.7 203.1L447.2 203.4L447.7 203.6L448.2 203.8L448.7 204.0L449.2 204.2L449.7 204.4L450.2 204.5L450.7 204.7L451.2 204.9L451.7 205.0L452.2 205.2L452.7 205.3L453.2 205.5L453.7 205.6L454.2 205.7L454.7 205.8L455.2 206.0L455.7 206.1L456.2 206.2L456.7 206.3L457.2 206.4L457.7 206.4L458.2 206.5L458.7 206.6L459.2 206.7L459.7 206.8L460.2 206.8L460.7 206.9L461.2 207.0L461.7 207.0L462.2 207.1L462.7 207.1L463.2 207.2L463.7 207.2L464.2 207.3L464.7 207.3L465.2 207.3L465.7 207.4L466.2 207.4L466.7 207.4L467.2 207.5L467.7 207.5L468.2 207.5L468.7 207.6L469.2 207.6L469.7 207.6L470.2 207.6L470.7 207.6L471.2 207.7L471.7 207.7L472.2 207.7L472.7 207.7L473.2 207.7L473.7 207.7L474.2 207.7L474.7 207.8L475.2 207.8L475.7 207.8L476.2 207.8L476.7 207.8L477.2 207.8L477.7 207.8L478.2 207.8L478.7 207.8L479.2 207.8L479.7 207.8L480.2 207.8L480.7 207.8L481.2 207.9L481.7 207.9L482.2 207.9L482.7 207.9L483.2 207.9L483.7 207.9L484.2 207.9L484.7 207.9L485.2 207.9L485.7 207.9L486.2 207.9L486.7 207.9L487.2 207.9L487.7 207.9L488.2 207.9L488.7 207.9L489.2 207.9L489.7 207.9L490.2 207.9L490.7 207.9L491.2 207.9L491.7 207.9L492.2 207.9L492.7 207.9L493.2 207.9L493.7 207.9L494.2 207.9L494.7 207.9L495.2 207.9L495.7 207.9L496.2 207.9L496.7 207.9L497.2 207.9L497.7 207.9L498.2 207.9L498.7 207.9L499.2 207.9L499.7 207.9L500.2 207.9L500.7 207.9L501.2 207.9L501.7 207.9L502.2 207.9L502.7 207.9L503.2 207.9L503.7 207.9L504.2 207.9L504.7 207.9L505.2 207.9L505.7 207.9L506.2 207.9L506.7 207.9L507.2 207.9L507.7 207.9L508.2 207.9L508.7 207.9L509.2 207.9L509.7 207.9L510.2 207.9L510.7 207.9L511.2 207.9" stroke="#ff1010" stroke-width="2.0" stroke-dasharray="5 3.6" stroke-linecap="round"/>
<path d="M292.2 207.9L292.7 207.9L293.2 207.9L293.7 207.9L294.2 207.9L294.7 207.9L295.2 207.9L295.7 207.9L296.2 207.9L296.7 207.9L297.2 207.9L297.7 207.9L298.2 207.9L298.7 207.9L299.2 207.9L299.7 207.9L300.2 207.9L300.7 207.9L301.2 207.9L301.7 207.9L302.2 207.9L302.7 207.9L303.2 207.9L303.7 207.9L304.2 207.9L304.7 207.9L305.2 207.9L305.7 207.9L306.2 207.9L306.7 207.9L307.2 207.9L307.7 207.9L308.2 207.9L308.7 207.9L309.2 207.9L309.7 207.9L310.2 207.9L310.7 207.9L311.2 207.9L311.7 207.9L312.2 207.9L312.7 207.9L313.2 207.9L313.7 207.9L314.2 207.9L314.7 207.9L315.2 207.9L315.7 207.9L316.2 207.9L316.7 207.9L317.2 207.9L317.7 207.9L318.2 207.9L318.7 207.9L319.2 207.9L319.7 207.9L320.2 207.9L320.7 207.9L321.2 207.9L321.7 207.9L322.2 207.9L322.7 207.9L323.2 207.9L323.7 207.9L324.2 207.9L324.7 207.9L325.2 207.9L325.7 207.9L326.2 207.9L326.7 207.9L327.2 207.9L327.7 207.9L328.2 207.9L328.7 207.9L329.2 207.9L329.7 207.9L330.2 207.9L330.7 207.9L331.2 207.9L331.7 207.9L332.2 207.9L332.7 207.9L333.2 207.9L333.7 207.9L334.2 207.9L334.7 207.9L335.2 207.9L335.7 207.9L336.2 207.9L336.7 207.9L337.2 207.9L337.7 207.9L338.2 207.9L338.7 207.9L339.2 207.9L339.7 207.9L340.2 207.9L340.7 207.9L341.2 207.9L341.7 207.9L342.2 207.9L342.7 207.9L343.2 207.9L343.7 207.9L344.2 207.9L344.7 207.9L345.2 207.9L345.7 207.9L346.2 207.9L346.7 207.9L347.2 207.9L347.7 207.9L348.2 207.9L348.7 207.9L349.2 207.9L349.7 207.9L350.2 207.9L350.7 207.9L351.2 207.9L351.7 207.9L352.2 207.9L352.7 207.9L353.2 207.9L353.7 207.9L354.2 207.9L354.7 207.9L355.2 207.9L355.7 207.9L356.2 207.9L356.7 207.9L357.2 207.9L357.7 207.9L358.2 207.9L358.7 207.9L359.2 207.9L359.7 207.9L360.2 207.9L360.7 207.9L361.2 207.9L361.7 207.9L362.2 207.9L362.7 207.9L363.2 207.9L363.7 207.9L364.2 207.9L364.7 207.9L365.2 207.9L365.7 207.9L366.2 207.9L366.7 207.9L367.2 207.9L367.7 207.9L368.2 207.9L368.7 207.9L369.2 207.9L369.7 207.9L370.2 207.9L370.7 207.9L371.2 207.9L371.7 207.9L372.2 207.9L372.7 207.9L373.2 207.9L373.7 207.9L374.2 207.9L374.7 207.9L375.2 207.9L375.7 207.9L376.2 207.9L376.7 207.9L377.2 207.9L377.7 207.9L378.2 207.9L378.7 207.9L379.2 207.9L379.7 207.9L380.2 207.9L380.7 207.9L381.2 207.9L381.7 207.9L382.2 207.9L382.7 207.9L383.2 207.9L383.7 207.9L384.2 207.9L384.7 207.9L385.2 207.9L385.7 207.9L386.2 207.9L386.7 207.9L387.2 207.9L387.7 207.9L388.2 207.9L388.7 207.9L389.2 207.9L389.7 207.9L390.2 207.9L390.7 207.8L391.2 207.8L391.7 207.7L392.2 207.6L392.7 207.5L393.2 207.2L393.7 206.9L394.2 206.5L394.7 205.9L395.2 205.2L395.7 204.1L396.2 202.8L396.7 201.1L397.2 198.9L397.7 196.2L398.2 193.0L398.7 189.1L399.2 184.6L399.7 179.4L400.2 173.6L400.7 167.2L401.2 160.4L401.7 153.1L402.2 145.8L402.7 138.4L403.2 131.4L403.7 124.9L404.2 119.1L404.7 114.4L405.2 110.8L405.7 108.6L406.2 107.9L406.7 108.6L407.2 110.8L407.7 114.4L408.2 119.1L408.7 124.9L409.2 131.4L409.7 138.4L410.2 145.8L410.7 153.1L411.2 160.4L411.7 167.2L412.2 173.6L412.7 179.4L413.2 184.6L413.7 189.1L414.2 193.0L414.7 196.2L415.2 198.9L415.7 201.1L416.2 202.8L416.7 204.1L417.2 205.2L417.7 205.9L418.2 206.5L418.7 206.9L419.2 207.2L419.7 207.5L420.2 207.6L420.7 207.7L421.2 207.8L421.7 207.8L422.2 207.9L422.7 207.9L423.2 207.9L423.7 207.9L424.2 207.9L424.7 207.9L425.2 207.9L425.7 207.9L426.2 207.9L426.7 207.9L427.2 207.9L427.7 207.9L428.2 207.9L428.7 207.9L429.2 207.9L429.7 207.9L430.2 207.9L430.7 207.9L431.2 207.9L431.7 207.9L432.2 207.9L432.7 207.9L433.2 207.9L433.7 207.9L434.2 207.9L434.7 207.9L435.2 207.9L435.7 207.9L436.2 207.9L436.7 207.9L437.2 207.9L437.7 207.9L438.2 207.9L438.7 207.9L439.2 207.9L439.7 207.9L440.2 207.9L440.7 207.9L441.2 207.9L441.7 207.9L442.2 207.9L442.7 207.9L443.2 207.9L443.7 207.9L444.2 207.9L444.7 207.9L445.2 207.9L445.7 207.9L446.2 207.9L446.7 207.9L447.2 207.9L447.7 207.9L448.2 207.9L448.7 207.9L449.2 207.9L449.7 207.9L450.2 207.9L450.7 207.9L451.2 207.9L451.7 207.9L452.2 207.9L452.7 207.9L453.2 207.9L453.7 207.9L454.2 207.9L454.7 207.9L455.2 207.9L455.7 207.9L456.2 207.9L456.7 207.9L457.2 207.9L457.7 207.9L458.2 207.9L458.7 207.9L459.2 207.9L459.7 207.9L460.2 207.9L460.7 207.9L461.2 207.9L461.7 207.9L462.2 207.9L462.7 207.9L463.2 207.9L463.7 207.9L464.2 207.9L464.7 207.9L465.2 207.9L465.7 207.9L466.2 207.9L466.7 207.9L467.2 207.9L467.7 207.9L468.2 207.9L468.7 207.9L469.2 207.9L469.7 207.9L470.2 207.9L470.7 207.9L471.2 207.9L471.7 207.9L472.2 207.9L472.7 207.9L473.2 207.9L473.7 207.9L474.2 207.9L474.7 207.9L475.2 207.9L475.7 207.9L476.2 207.9L476.7 207.9L477.2 207.9L477.7 207.9L478.2 207.9L478.7 207.9L479.2 207.9L479.7 207.9L480.2 207.9L480.7 207.9L481.2 207.9L481.7 207.9L482.2 207.9L482.7 207.9L483.2 207.9L483.7 207.9L484.2 207.9L484.7 207.9L485.2 207.9L485.7 207.9L486.2 207.9L486.7 207.9L487.2 207.9L487.7 207.9L488.2 207.9L488.7 207.9L489.2 207.9L489.7 207.9L490.2 207.9L490.7 207.9L491.2 207.9L491.7 207.9L492.2 207.9L492.7 207.9L493.2 207.9L493.7 207.9L494.2 207.9L494.7 207.9L495.2 207.9L495.7 207.9L496.2 207.9L496.7 207.9L497.2 207.9L497.7 207.9L498.2 207.9L498.7 207.9L499.2 207.9L499.7 207.9L500.2 207.9L500.7 207.9L501.2 207.9L501.7 207.9L502.2 207.9L502.7 207.9L503.2 207.9L503.7 207.9L504.2 207.9L504.7 207.9L505.2 207.9L505.7 207.9L506.2 207.9L506.7 207.9L507.2 207.9L507.7 207.9L508.2 207.9L508.7 207.9L509.2 207.9L509.7 207.9L510.2 207.9L510.7 207.9L511.2 207.9" stroke="#17365d" stroke-width="2.0" stroke-dasharray="5.6 3.8"/>
<path d="M406.2 29.0L405.7 29.4L405.2 31.2L404.8 33.8M403.7 44.0L403.7 44.2L403.2 50.4L402.9 54.3M402.2 64.6L401.7 71.4L401.5 74.9M400.7 85.1L400.2 91.4L399.8 95.4M398.8 105.6L398.7 106.5L398.2 110.3L397.7 113.5L397.3 115.8M393.2 125.1L393.2 125.1L392.7 125.5L392.2 125.9L391.7 126.2L391.2 126.5L390.7 126.8L390.2 127.1L389.7 127.5L389.2 127.8L388.7 128.1L388.2 128.5L387.7 128.9L387.2 129.3L386.7 129.7L386.2 130.1L385.7 130.5L385.2 131.0L384.9 131.2M377.8 138.6L377.7 138.7L377.2 139.2L376.7 139.8L376.2 140.4L375.7 140.9L375.2 141.5L374.7 142.1L374.2 142.6L373.7 143.2L373.2 143.8L372.7 144.4L372.2 144.9L371.7 145.5L371.2 146.1L371.0 146.3M364.2 154.1L363.7 154.7L363.2 155.2L362.7 155.8L362.2 156.4L361.7 156.9L361.2 157.5L360.7 158.1L360.2 158.6L359.7 159.2L359.2 159.8L358.7 160.3L358.2 160.9L357.7 161.5L357.4 161.8M350.6 169.6L350.2 170.1L349.7 170.7L349.2 171.2L348.7 171.8L348.2 172.4L347.7 173.0L347.2 173.6L346.7 174.1L346.2 174.7L345.7 175.3L345.2 175.9L344.7 176.4L344.2 177.0L343.9 177.4M337.0 185.0L336.7 185.3L336.2 185.8L335.7 186.4L335.2 186.9L334.7 187.4L334.2 187.9L333.7 188.4L333.2 188.9L332.7 189.4L332.2 189.9L331.7 190.3L331.2 190.8L330.7 191.3L330.2 191.7L329.7 192.2L329.6 192.2M321.5 198.5L321.2 198.7L320.7 199.0L320.2 199.3L319.7 199.6L319.2 199.9L318.7 200.2L318.2 200.4L317.7 200.7L317.2 201.0L316.7 201.2L316.2 201.5L315.7 201.7L315.2 202.0L314.7 202.2L314.2 202.4L313.7 202.6L313.2 202.8L312.7 203.0L312.3 203.2M302.4 205.9L302.2 206.0L301.7 206.1L301.2 206.2L300.7 206.2L300.2 206.3L299.7 206.4L299.2 206.5L298.7 206.5L298.2 206.6L297.7 206.7L297.2 206.7L296.7 206.8L296.2 206.8L295.7 206.9L295.2 206.9L294.7 207.0L294.2 207.0L293.7 207.1L293.2 207.1L292.7 207.2L292.2 207.2M406.2 29.0L406.7 30.2L407.2 32.8L407.4 34.0M408.4 44.3L408.7 48.2L409.1 54.5M409.8 64.8L410.2 70.7L410.5 75.1M411.1 85.4L411.2 86.4L411.7 93.8L411.8 95.6M412.6 105.9L412.7 107.2L413.2 113.0L413.5 116.2M414.7 126.4L414.7 126.5L415.2 129.8L415.7 132.7L416.2 135.1L416.6 136.5M420.5 146.0L420.7 146.3L421.2 147.1L421.7 147.9L422.2 148.7L422.7 149.4L423.2 150.2L423.7 150.9L424.2 151.7L424.7 152.4L425.2 153.2L425.7 153.9L426.2 154.6M432.0 163.1L432.2 163.4L432.7 164.1L433.2 164.8L433.7 165.5L434.2 166.1L434.7 166.8L435.2 167.5L435.7 168.1L436.2 168.8L436.7 169.4L437.2 170.1L437.7 170.7L438.2 171.3M445.0 179.1L445.2 179.3L445.7 179.8L446.2 180.3L446.7 180.8L447.2 181.3L447.7 181.8L448.2 182.3L448.7 182.7L449.2 183.2L449.7 183.6L450.2 184.1L450.7 184.5L451.2 185.0L451.7 185.4L452.2 185.8L452.5 186.1M460.8 192.2L461.2 192.4L461.7 192.7L462.2 193.0L462.7 193.3L463.2 193.7L463.7 193.9L464.2 194.2L464.7 194.5L465.2 194.8L465.7 195.1L466.2 195.4L466.7 195.6L467.2 195.9L467.7 196.2L468.2 196.4L468.7 196.7L469.2 196.9L469.7 197.2L469.8 197.2M479.3 201.2L479.7 201.4L480.2 201.5L480.7 201.7L481.2 201.9L481.7 202.0L482.2 202.2L482.7 202.3L483.2 202.5L483.7 202.6L484.2 202.8L484.7 202.9L485.2 203.1L485.7 203.2L486.2 203.3L486.7 203.5L487.2 203.6L487.7 203.7L488.2 203.8L488.7 204.0L489.2 204.1M499.3 205.9L499.7 206.0L500.2 206.0L500.7 206.1L501.2 206.1L501.7 206.2L502.2 206.3L502.7 206.3L503.2 206.4L503.7 206.4L504.2 206.5L504.7 206.5L505.2 206.6L505.7 206.6L506.2 206.7L506.7 206.7L507.2 206.8L507.7 206.8L508.2 206.9L508.7 206.9L509.2 206.9L509.5 207.0" stroke="#c81c1c" stroke-width="3"/>
<defs><path id="gp-b" d="M292.2 204.9L292.8 205.6L293.3 206.7L293.9 210.0L294.4 207.6L295.0 210.0L295.5 205.9L296.1 203.9L296.6 203.4L297.2 203.2L297.7 204.6L298.3 207.5L298.8 207.5L299.4 201.9L299.9 206.2L300.5 207.1L301.0 208.2L301.6 208.0L302.1 207.0L302.7 205.0L303.2 206.0L303.8 206.7L304.3 207.4L304.9 205.4L305.4 209.0L306.0 206.0L306.5 200.5L307.1 205.5L307.6 205.3L308.2 195.3L308.7 204.2L309.3 210.0L309.8 206.8L310.4 198.1L310.9 194.6L311.5 204.9L312.0 202.4L312.6 202.0L313.1 204.4L313.7 209.5L314.2 200.7L314.8 203.5L315.3 201.5L315.9 200.6L316.4 194.4L317.0 194.4L317.5 203.1L318.1 202.4L318.6 196.4L319.2 203.1L319.7 202.2L320.3 198.5L320.8 204.2L321.4 204.7L321.9 205.7L322.5 198.5L323.0 198.8L323.6 193.9L324.1 194.7L324.7 193.5L325.2 195.1L325.8 192.2L326.3 194.0L326.9 198.2L327.4 190.3L328.0 187.8L328.5 182.3L329.1 189.8L329.6 194.4L330.2 198.1L330.7 208.8L331.3 201.2L331.8 189.6L332.4 192.4L332.9 201.1L333.5 189.3L334.0 189.4L334.6 189.6L335.1 189.0L335.7 187.2L336.2 183.6L336.8 191.9L337.3 187.9L337.9 186.3L338.4 178.8L339.0 185.5L339.5 176.0L340.1 176.0L340.6 172.3L341.2 180.8L341.7 176.8L342.3 175.9L342.8 184.7L343.4 181.2L343.9 179.5L344.5 181.7L345.0 180.9L345.6 183.3L346.1 179.0L346.7 172.9L347.2 176.4L347.8 181.5L348.3 169.3L348.9 171.4L349.4 171.1L350.0 171.1L350.5 172.5L351.1 166.6L351.6 169.7L352.2 168.2L352.7 174.1L353.3 177.1L353.8 170.4L354.4 155.7L354.9 160.0L355.5 153.2L356.0 157.3L356.6 159.2L357.1 164.0L357.7 162.3L358.2 151.0L358.8 150.4L359.3 160.5L359.9 162.3L360.4 151.6L361.0 157.7L361.5 152.7L362.1 159.4L362.6 153.7L363.2 145.4L363.7 146.9L364.3 150.7L364.8 151.8L365.4 152.6L365.9 152.0L366.5 144.6L367.0 141.8L367.6 145.4L368.1 155.6L368.7 153.9L369.2 147.3L369.8 146.5L370.3 154.3L370.9 144.9L371.4 129.2L372.0 146.9L372.5 146.2L373.1 134.0L373.6 142.2L374.2 145.5L374.7 141.5L375.3 137.4L375.8 141.7L376.4 134.8L376.9 148.5L377.5 138.4L378.0 134.4L378.6 137.5L379.1 134.7L379.7 135.1L380.2 127.5L380.8 135.1L381.3 135.5L381.9 142.3L382.4 142.9L383.0 136.4L383.5 142.1L384.1 139.9L384.6 140.9L385.2 136.3L385.7 130.4L386.3 123.6L386.8 139.1L387.4 133.9L387.9 123.4L388.5 117.7L389.0 116.2L389.6 133.0L390.1 132.8L390.7 124.1L391.2 119.4L391.8 122.3L392.3 123.3L392.9 123.1L393.4 128.4L394.0 124.5L394.5 118.6L395.1 122.8L395.6 115.9L396.2 131.8L396.7 123.9L397.3 108.2L397.8 106.2L398.4 101.6L398.9 101.9L399.5 103.4L400.0 96.4L400.6 82.3L401.1 83.4L401.7 76.2L402.2 69.2L402.8 58.5L403.3 49.1L403.9 38.3L404.4 32.0L405.0 20.7L405.5 17.6L406.1 21.4L406.6 27.3L407.2 34.1L407.7 36.6L408.3 36.7L408.8 47.7L409.4 60.3L409.9 66.8L410.5 76.1L411.0 86.8L411.6 99.7L412.1 101.8L412.7 99.9L413.2 104.9L413.8 111.8L414.3 120.5L414.9 124.5L415.4 124.8L416.0 132.0L416.5 134.5L417.1 139.5L417.6 135.5L418.2 143.2L418.7 140.7L419.3 138.9L419.8 139.7L420.4 141.2L420.9 147.1L421.5 150.1L422.0 150.4L422.6 150.9L423.1 154.8L423.7 153.8L424.2 154.5L424.8 156.9L425.3 152.7L425.9 156.3L426.4 154.5L427.0 148.9L427.5 147.2L428.1 154.6L428.6 153.6L429.2 156.2L429.7 149.4L430.3 150.4L430.8 154.3L431.4 160.8L431.9 163.7L432.5 161.4L433.0 163.4L433.6 165.8L434.1 163.1L434.7 170.2L435.2 176.3L435.8 174.2L436.3 174.1L436.9 170.9L437.4 173.3L438.0 172.4L438.5 179.0L439.1 169.0L439.6 169.3L440.2 175.9L440.7 173.8L441.3 169.7L441.8 170.6L442.4 175.1L442.9 174.3L443.5 173.1L444.0 180.8L444.6 184.7L445.1 182.5L445.7 176.5L446.2 173.5L446.8 178.2L447.3 175.6L447.9 176.3L448.4 181.1L449.0 185.1L449.5 186.0L450.1 183.9L450.6 179.2L451.2 180.1L451.7 188.4L452.3 190.9L452.8 184.5L453.4 184.8L453.9 189.6L454.5 186.0L455.0 182.4L455.6 184.0L456.1 187.2L456.7 184.4L457.2 189.0L457.8 191.9L458.3 193.5L458.9 185.4L459.4 182.1L460.0 189.1L460.5 189.7L461.1 189.8L461.6 188.9L462.2 187.9L462.7 189.6L463.3 192.8L463.8 195.2L464.4 197.4L464.9 203.0L465.5 197.4L466.0 197.3L466.6 195.8L467.1 195.7L467.7 198.8L468.2 198.4L468.8 195.5L469.3 195.6L469.9 199.2L470.4 200.0L471.0 196.4L471.5 196.4L472.1 196.7L472.6 198.2L473.2 196.4L473.7 197.6L474.3 191.7L474.8 198.0L475.4 201.6L475.9 195.6L476.5 198.4L477.0 202.1L477.6 199.6L478.1 206.1L478.7 201.4L479.2 200.3L479.8 200.2L480.3 203.0L480.9 198.6L481.4 199.5L482.0 201.4L482.5 200.9L483.1 203.8L483.6 203.2L484.2 206.2L484.7 206.5L485.3 202.8L485.8 202.2L486.4 201.0L486.9 204.1L487.5 204.0L488.0 205.1L488.6 203.4L489.1 201.5L489.7 200.5L490.2 201.6L490.8 205.5L491.3 204.3L491.9 206.5L492.4 209.7L493.0 205.6L493.5 204.2L494.1 202.9L494.6 202.3L495.2 207.1L495.7 208.0L496.3 205.8L496.8 205.0L497.4 204.3L497.9 208.0L498.5 207.0L499.0 204.2L499.6 200.8L500.1 207.1L500.7 203.0L501.2 205.2L501.8 209.3L502.3 204.0L502.9 207.4L503.4 209.4L504.0 205.4L504.5 203.4L505.1 205.3L505.6 207.8L506.2 210.0L506.7 207.2L507.3 210.0L507.8 210.0L508.4 205.3L508.9 204.5L509.5 203.6L510.0 205.0L510.6 208.8L511.1 206.6"/></defs>
<use href="#gp-b" fill="none" stroke="#45c685" stroke-width="1.65"/>
<mask id="gm-b" maskUnits="userSpaceOnUse" x="292.2" y="3.2" width="219.4" height="207.2"><use href="#gp-b" fill="none" stroke="#fff" stroke-width="1.65" stroke-linejoin="round"/></mask>
<path d="M406.2 29.0L405.7 29.4L405.2 31.2L404.8 33.8M403.7 44.0L403.7 44.2L403.2 50.4L402.9 54.3M402.2 64.6L401.7 71.4L401.5 74.9M400.7 85.1L400.2 91.4L399.8 95.4M398.8 105.6L398.7 106.5L398.2 110.3L397.7 113.5L397.3 115.8M393.2 125.1L393.2 125.1L392.7 125.5L392.2 125.9L391.7 126.2L391.2 126.5L390.7 126.8L390.2 127.1L389.7 127.5L389.2 127.8L388.7 128.1L388.2 128.5L387.7 128.9L387.2 129.3L386.7 129.7L386.2 130.1L385.7 130.5L385.2 131.0L384.9 131.2M377.8 138.6L377.7 138.7L377.2 139.2L376.7 139.8L376.2 140.4L375.7 140.9L375.2 141.5L374.7 142.1L374.2 142.6L373.7 143.2L373.2 143.8L372.7 144.4L372.2 144.9L371.7 145.5L371.2 146.1L371.0 146.3M364.2 154.1L363.7 154.7L363.2 155.2L362.7 155.8L362.2 156.4L361.7 156.9L361.2 157.5L360.7 158.1L360.2 158.6L359.7 159.2L359.2 159.8L358.7 160.3L358.2 160.9L357.7 161.5L357.4 161.8M350.6 169.6L350.2 170.1L349.7 170.7L349.2 171.2L348.7 171.8L348.2 172.4L347.7 173.0L347.2 173.6L346.7 174.1L346.2 174.7L345.7 175.3L345.2 175.9L344.7 176.4L344.2 177.0L343.9 177.4M337.0 185.0L336.7 185.3L336.2 185.8L335.7 186.4L335.2 186.9L334.7 187.4L334.2 187.9L333.7 188.4L333.2 188.9L332.7 189.4L332.2 189.9L331.7 190.3L331.2 190.8L330.7 191.3L330.2 191.7L329.7 192.2L329.6 192.2M321.5 198.5L321.2 198.7L320.7 199.0L320.2 199.3L319.7 199.6L319.2 199.9L318.7 200.2L318.2 200.4L317.7 200.7L317.2 201.0L316.7 201.2L316.2 201.5L315.7 201.7L315.2 202.0L314.7 202.2L314.2 202.4L313.7 202.6L313.2 202.8L312.7 203.0L312.3 203.2M302.4 205.9L302.2 206.0L301.7 206.1L301.2 206.2L300.7 206.2L300.2 206.3L299.7 206.4L299.2 206.5L298.7 206.5L298.2 206.6L297.7 206.7L297.2 206.7L296.7 206.8L296.2 206.8L295.7 206.9L295.2 206.9L294.7 207.0L294.2 207.0L293.7 207.1L293.2 207.1L292.7 207.2L292.2 207.2M406.2 29.0L406.7 30.2L407.2 32.8L407.4 34.0M408.4 44.3L408.7 48.2L409.1 54.5M409.8 64.8L410.2 70.7L410.5 75.1M411.1 85.4L411.2 86.4L411.7 93.8L411.8 95.6M412.6 105.9L412.7 107.2L413.2 113.0L413.5 116.2M414.7 126.4L414.7 126.5L415.2 129.8L415.7 132.7L416.2 135.1L416.6 136.5M420.5 146.0L420.7 146.3L421.2 147.1L421.7 147.9L422.2 148.7L422.7 149.4L423.2 150.2L423.7 150.9L424.2 151.7L424.7 152.4L425.2 153.2L425.7 153.9L426.2 154.6M432.0 163.1L432.2 163.4L432.7 164.1L433.2 164.8L433.7 165.5L434.2 166.1L434.7 166.8L435.2 167.5L435.7 168.1L436.2 168.8L436.7 169.4L437.2 170.1L437.7 170.7L438.2 171.3M445.0 179.1L445.2 179.3L445.7 179.8L446.2 180.3L446.7 180.8L447.2 181.3L447.7 181.8L448.2 182.3L448.7 182.7L449.2 183.2L449.7 183.6L450.2 184.1L450.7 184.5L451.2 185.0L451.7 185.4L452.2 185.8L452.5 186.1M460.8 192.2L461.2 192.4L461.7 192.7L462.2 193.0L462.7 193.3L463.2 193.7L463.7 193.9L464.2 194.2L464.7 194.5L465.2 194.8L465.7 195.1L466.2 195.4L466.7 195.6L467.2 195.9L467.7 196.2L468.2 196.4L468.7 196.7L469.2 196.9L469.7 197.2L469.8 197.2M479.3 201.2L479.7 201.4L480.2 201.5L480.7 201.7L481.2 201.9L481.7 202.0L482.2 202.2L482.7 202.3L483.2 202.5L483.7 202.6L484.2 202.8L484.7 202.9L485.2 203.1L485.7 203.2L486.2 203.3L486.7 203.5L487.2 203.6L487.7 203.7L488.2 203.8L488.7 204.0L489.2 204.1M499.3 205.9L499.7 206.0L500.2 206.0L500.7 206.1L501.2 206.1L501.7 206.2L502.2 206.3L502.7 206.3L503.2 206.4L503.7 206.4L504.2 206.5L504.7 206.5L505.2 206.6L505.7 206.6L506.2 206.7L506.7 206.7L507.2 206.8L507.7 206.8L508.2 206.9L508.7 206.9L509.2 206.9L509.5 207.0" stroke="#55612b" stroke-width="2.1" mask="url(#gm-b)"/>
</g>
<path d="M292.2 3.2L511.6 3.2L511.6 212.8" fill="none" stroke="#151515" stroke-width="1.3"/>
<path d="M292.2 2.5500000000000003L292.2 212.8" fill="none" stroke="#0a0a0a" stroke-width="1.8"/>
<path d="M291.4 209.4L512.2 209.4" fill="none" stroke="#1c1c1c" stroke-width="1.15"/>
<path d="M292.2 209.4L292.2 213.6M319.6 209.4L319.6 212.2M347.1 209.4L347.1 213.6M374.5 209.4L374.5 212.2M401.9 209.4L401.9 213.6M429.3 209.4L429.3 212.2M456.8 209.4L456.8 213.6M484.2 209.4L484.2 212.2M511.6 209.4L511.6 213.6" fill="none" stroke="#222" stroke-width="1.2"/>
<text transform="translate(291.6 228.1) scale(1 1.09)" font-size="11.85" text-anchor="middle" stroke-width="0.06">10</text>
<text transform="translate(346.6 228.1) scale(1 1.09)" font-size="11.85" text-anchor="middle" stroke-width="0.06">15</text>
<text transform="translate(401.7 228.1) scale(1 1.09)" font-size="11.85" text-anchor="middle" stroke-width="0.06">20</text>
<text transform="translate(456.7 228.1) scale(1 1.09)" font-size="11.85" text-anchor="middle" stroke-width="0.06">25</text>
<text transform="translate(511.8 228.1) scale(1 1.09)" font-size="11.85" text-anchor="middle" stroke-width="0.06">30</text>
<text x="297.6" y="22.2" font-size="18.4">(b)</text>
<path d="M406.5 105.4L441.5 69.4" stroke="#000" stroke-width="1.65" fill="none"/><path d="M446.9 63.9L443.6 72.9L438.0 67.4Z" fill="#000"/>
<path d="M394.2 161.0L353.8 109.0" stroke="#000" stroke-width="1.65" fill="none"/><path d="M349.0 102.9L357.4 107.4L351.3 112.2Z" fill="#000"/>
<path d="M363.3 169.8L346.4 149.8" stroke="#000" stroke-width="1.65" fill="none"/><path d="M341.5 143.9L350.1 148.0L344.1 153.0Z" fill="#000"/>
<path d="M432.7 174.8L457.2 143.3" stroke="#000" stroke-width="1.65" fill="none"/><path d="M462.0 137.2L459.7 146.5L453.6 141.7Z" fill="#000"/>
<text transform="translate(436.6 57.7) scale(1 1.06)" font-size="12.5" stroke-width="0.2">20.4° (110)</text>
<text transform="translate(333 98.3) scale(1 1.06)" font-size="12.2" stroke-width="0.2">19.9°</text>
<text transform="translate(323.9 139.9) scale(1 1.06)" font-size="12.2" stroke-width="0.2">16.4°</text>
<text transform="translate(446.2 133.9) scale(1 1.06)" font-size="12.2" stroke-width="0.2">21.4°</text>
</g>
<g id="panel-c">
<clipPath id="clip-c"><rect x="29.0" y="249.3" width="231.70" height="217.10"/></clipPath>
<g clip-path="url(#clip-c)" fill="none" stroke-linejoin="round">
<path d="M29.0 463.4L29.5 463.3L30.0 463.3L30.5 463.3L31.0 463.3L31.5 463.3L32.0 463.3L32.5 463.3L33.0 463.3L33.5 463.2L34.0 463.2L34.5 463.2L35.0 463.2L35.5 463.2L36.0 463.2L36.5 463.1L37.0 463.1L37.5 463.1L38.0 463.1L38.5 463.1L39.0 463.1L39.5 463.0L40.0 463.0L40.5 463.0L41.0 463.0L41.5 462.9L42.0 462.9L42.5 462.9L43.0 462.9L43.5 462.8L44.0 462.8L44.5 462.8L45.0 462.7L45.5 462.7L46.0 462.7L46.5 462.6L47.0 462.6L47.5 462.6L48.0 462.5L48.5 462.5L49.0 462.5L49.5 462.4L50.0 462.4L50.5 462.3L51.0 462.3L51.5 462.3L52.0 462.2L52.5 462.2L53.0 462.1L53.5 462.1L54.0 462.0L54.5 462.0L55.0 461.9L55.5 461.8L56.0 461.8L56.5 461.7L57.0 461.7L57.5 461.6L58.0 461.5L58.5 461.5L59.0 461.4L59.5 461.3L60.0 461.3L60.5 461.2L61.0 461.1L61.5 461.0L62.0 460.9L62.5 460.9L63.0 460.8L63.5 460.7L64.0 460.6L64.5 460.5L65.0 460.4L65.5 460.3L66.0 460.2L66.5 460.1L67.0 460.0L67.5 459.9L68.0 459.8L68.5 459.7L69.0 459.6L69.5 459.5L70.0 459.4L70.5 459.2L71.0 459.1L71.5 459.0L72.0 458.9L72.5 458.7L73.0 458.6L73.5 458.5L74.0 458.3L74.5 458.2L75.0 458.0L75.5 457.9L76.0 457.7L76.5 457.6L77.0 457.4L77.5 457.3L78.0 457.1L78.5 456.9L79.0 456.8L79.5 456.6L80.0 456.4L80.5 456.2L81.0 456.0L81.5 455.9L82.0 455.7L82.5 455.5L83.0 455.3L83.5 455.1L84.0 454.9L84.5 454.7L85.0 454.5L85.5 454.2L86.0 454.0L86.5 453.8L87.0 453.6L87.5 453.3L88.0 453.1L88.5 452.9L89.0 452.6L89.5 452.4L90.0 452.2L90.5 451.9L91.0 451.6L91.5 451.4L92.0 451.1L92.5 450.9L93.0 450.6L93.5 450.3L94.0 450.1L94.5 449.8L95.0 449.5L95.5 449.2L96.0 448.9L96.5 448.6L97.0 448.3L97.5 448.0L98.0 447.7L98.5 447.4L99.0 447.1L99.5 446.8L100.0 446.5L100.5 446.2L101.0 445.9L101.5 445.6L102.0 445.2L102.5 444.9L103.0 444.6L103.5 444.2L104.0 443.9L104.5 443.6L105.0 443.2L105.5 442.9L106.0 442.5L106.5 442.2L107.0 441.8L107.5 441.5L108.0 441.1L108.5 440.8L109.0 440.4L109.5 440.0L110.0 439.7L110.5 439.3L111.0 438.9L111.5 438.6L112.0 438.2L112.5 437.8L113.0 437.5L113.5 437.1L114.0 436.7L114.5 436.3L115.0 436.0L115.5 435.6L116.0 435.2L116.5 434.8L117.0 434.5L117.5 434.1L118.0 433.7L118.5 433.3L119.0 432.9L119.5 432.6L120.0 432.2L120.5 431.8L121.0 431.4L121.5 431.1L122.0 430.7L122.5 430.3L123.0 429.9L123.5 429.6L124.0 429.2L124.5 428.8L125.0 428.5L125.5 428.1L126.0 427.7L126.5 427.4L127.0 427.0L127.5 426.7L128.0 426.3L128.5 425.9L129.0 425.6L129.5 425.3L130.0 424.9L130.5 424.6L131.0 424.2L131.5 423.9L132.0 423.6L132.5 423.2L133.0 422.9L133.5 422.6L134.0 422.3L134.5 422.0L135.0 421.7L135.5 421.4L136.0 421.1L136.5 420.8L137.0 420.5L137.5 420.2L138.0 420.0L138.5 419.7L139.0 419.4L139.5 419.2L140.0 418.9L140.5 418.7L141.0 418.4L141.5 418.2L142.0 418.0L142.5 417.7L143.0 417.5L143.5 417.3L144.0 417.1L144.5 416.9L145.0 416.7L145.5 416.5L146.0 416.3L146.5 416.2L147.0 416.0L147.5 415.9L148.0 415.7L148.5 415.6L149.0 415.4L149.5 415.3L150.0 415.2L150.5 415.1L151.0 415.0L151.5 414.9L152.0 414.8L152.5 414.7L153.0 414.6L153.5 414.6L154.0 414.5L154.5 414.4L155.0 414.4L155.5 414.4L156.0 414.3L156.5 414.3L157.0 414.3L157.5 414.3L158.0 414.3L158.5 414.3L159.0 414.3L159.5 414.4L160.0 414.4L160.5 414.4L161.0 414.5L161.5 414.6L162.0 414.6L162.5 414.7L163.0 414.8L163.5 414.9L164.0 415.0L164.5 415.1L165.0 415.2L165.5 415.4L166.0 415.5L166.5 415.6L167.0 415.8L167.5 415.9L168.0 416.1L168.5 416.3L169.0 416.5L169.5 416.6L170.0 416.8L170.5 417.0L171.0 417.2L171.5 417.5L172.0 417.7L172.5 417.9L173.0 418.1L173.5 418.4L174.0 418.6L174.5 418.9L175.0 419.1L175.5 419.4L176.0 419.7L176.5 420.0L177.0 420.2L177.5 420.5L178.0 420.8L178.5 421.1L179.0 421.4L179.5 421.7L180.0 422.0L180.5 422.4L181.0 422.7L181.5 423.0L182.0 423.3L182.5 423.7L183.0 424.0L183.5 424.4L184.0 424.7L184.5 425.0L185.0 425.4L185.5 425.8L186.0 426.1L186.5 426.5L187.0 426.8L187.5 427.2L188.0 427.6L188.5 427.9L189.0 428.3L189.5 428.7L190.0 429.1L190.5 429.5L191.0 429.8L191.5 430.2L192.0 430.6L192.5 431.0L193.0 431.4L193.5 431.8L194.0 432.1L194.5 432.5L195.0 432.9L195.5 433.3L196.0 433.7L196.5 434.1L197.0 434.5L197.5 434.9L198.0 435.3L198.5 435.6L199.0 436.0L199.5 436.4L200.0 436.8L200.5 437.2L201.0 437.6L201.5 437.9L202.0 438.3L202.5 438.7L203.0 439.1L203.5 439.5L204.0 439.8L204.5 440.2L205.0 440.6L205.5 440.9L206.0 441.3L206.5 441.7L207.0 442.0L207.5 442.4L208.0 442.7L208.5 443.1L209.0 443.4L209.5 443.8L210.0 444.1L210.5 444.5L211.0 444.8L211.5 445.2L212.0 445.5L212.5 445.8L213.0 446.2L213.5 446.5L214.0 446.8L214.5 447.1L215.0 447.4L215.5 447.8L216.0 448.1L216.5 448.4L217.0 448.7L217.5 449.0L218.0 449.3L218.5 449.5L219.0 449.8L219.5 450.1L220.0 450.4L220.5 450.7L221.0 450.9L221.5 451.2L222.0 451.5L222.5 451.7L223.0 452.0L223.5 452.3L224.0 452.5L224.5 452.8L225.0 453.0L225.5 453.2L226.0 453.5L226.5 453.7L227.0 453.9L227.5 454.2L228.0 454.4L228.5 454.6L229.0 454.8L229.5 455.0L230.0 455.2L230.5 455.4L231.0 455.6L231.5 455.8L232.0 456.0L232.5 456.2L233.0 456.4L233.5 456.6L234.0 456.8L234.5 456.9L235.0 457.1L235.5 457.3L236.0 457.4L236.5 457.6L237.0 457.8L237.5 457.9L238.0 458.1L238.5 458.2L239.0 458.4L239.5 458.5L240.0 458.6L240.5 458.8L241.0 458.9L241.5 459.0L242.0 459.2L242.5 459.3L243.0 459.4L243.5 459.5L244.0 459.6L244.5 459.8L245.0 459.9L245.5 460.0L246.0 460.1L246.5 460.2L247.0 460.3L247.5 460.4L248.0 460.5L248.5 460.6L249.0 460.7L249.5 460.8L250.0 460.8L250.5 460.9L251.0 461.0L251.5 461.1L252.0 461.2L252.5 461.3L253.0 461.3L253.5 461.4L254.0 461.5L254.5 461.5L255.0 461.6L255.5 461.7L256.0 461.7L256.5 461.8L257.0 461.9L257.5 461.9L258.0 462.0L258.5 462.0L259.0 462.1L259.5 462.1L260.0 462.2L260.5 462.2" stroke="#0a0a0a" stroke-width="2.1" stroke-dasharray="10 8.5"/>
<path d="M29.0 461.8L29.5 461.7L30.0 461.6L30.5 461.5L31.0 461.5L31.5 461.4L32.0 461.3L32.5 461.2L33.0 461.1L33.5 461.1L34.0 461.0L34.5 460.9L35.0 460.8L35.5 460.7L36.0 460.6L36.5 460.5L37.0 460.4L37.5 460.3L38.0 460.2L38.5 460.1L39.0 460.0L39.5 459.8L40.0 459.7L40.5 459.6L41.0 459.5L41.5 459.3L42.0 459.2L42.5 459.1L43.0 458.9L43.5 458.8L44.0 458.7L44.5 458.5L45.0 458.4L45.5 458.2L46.0 458.1L46.5 457.9L47.0 457.7L47.5 457.6L48.0 457.4L48.5 457.2L49.0 457.1L49.5 456.9L50.0 456.7L50.5 456.5L51.0 456.3L51.5 456.1L52.0 455.9L52.5 455.7L53.0 455.5L53.5 455.3L54.0 455.1L54.5 454.9L55.0 454.7L55.5 454.5L56.0 454.3L56.5 454.0L57.0 453.8L57.5 453.6L58.0 453.4L58.5 453.1L59.0 452.9L59.5 452.6L60.0 452.4L60.5 452.1L61.0 451.9L61.5 451.6L62.0 451.4L62.5 451.1L63.0 450.9L63.5 450.6L64.0 450.3L64.5 450.1L65.0 449.8L65.5 449.5L66.0 449.3L66.5 449.0L67.0 448.7L67.5 448.4L68.0 448.1L68.5 447.9L69.0 447.6L69.5 447.3L70.0 447.0L70.5 446.7L71.0 446.4L71.5 446.1L72.0 445.8L72.5 445.5L73.0 445.2L73.5 445.0L74.0 444.7L74.5 444.4L75.0 444.1L75.5 443.8L76.0 443.5L76.5 443.2L77.0 442.9L77.5 442.6L78.0 442.3L78.5 442.0L79.0 441.7L79.5 441.4L80.0 441.2L80.5 440.9L81.0 440.6L81.5 440.3L82.0 440.0L82.5 439.7L83.0 439.5L83.5 439.2L84.0 438.9L84.5 438.7L85.0 438.4L85.5 438.1L86.0 437.9L86.5 437.6L87.0 437.4L87.5 437.1L88.0 436.9L88.5 436.6L89.0 436.4L89.5 436.2L90.0 435.9L90.5 435.7L91.0 435.5L91.5 435.3L92.0 435.1L92.5 434.9L93.0 434.7L93.5 434.5L94.0 434.3L94.5 434.1L95.0 433.9L95.5 433.7L96.0 433.6L96.5 433.4L97.0 433.3L97.5 433.1L98.0 433.0L98.5 432.8L99.0 432.7L99.5 432.6L100.0 432.5L100.5 432.4L101.0 432.3L101.5 432.2L102.0 432.1L102.5 432.0L103.0 431.9L103.5 431.9L104.0 431.8L104.5 431.8L105.0 431.7L105.5 431.7L106.0 431.6L106.5 431.6L107.0 431.6L107.5 431.6L108.0 431.6L108.5 431.6L109.0 431.6L109.5 431.6L110.0 431.7L110.5 431.7L111.0 431.8L111.5 431.8L112.0 431.9L112.5 431.9L113.0 432.0L113.5 432.1L114.0 432.2L114.5 432.3L115.0 432.4L115.5 432.5L116.0 432.6L116.5 432.7L117.0 432.8L117.5 433.0L118.0 433.1L118.5 433.2L119.0 433.4L119.5 433.5L120.0 433.7L120.5 433.9L121.0 434.1L121.5 434.2L122.0 434.4L122.5 434.6L123.0 434.8L123.5 435.0L124.0 435.2L124.5 435.4L125.0 435.7L125.5 435.9L126.0 436.1L126.5 436.3L127.0 436.6L127.5 436.8L128.0 437.1L128.5 437.3L129.0 437.6L129.5 437.8L130.0 438.1L130.5 438.3L131.0 438.6L131.5 438.9L132.0 439.1L132.5 439.4L133.0 439.7L133.5 440.0L134.0 440.3L134.5 440.5L135.0 440.8L135.5 441.1L136.0 441.4L136.5 441.7L137.0 442.0L137.5 442.3L138.0 442.5L138.5 442.8L139.0 443.1L139.5 443.4L140.0 443.7L140.5 444.0L141.0 444.3L141.5 444.6L142.0 444.9L142.5 445.2L143.0 445.5L143.5 445.8L144.0 446.1L144.5 446.4L145.0 446.6L145.5 446.9L146.0 447.2L146.5 447.5L147.0 447.8L147.5 448.1L148.0 448.4L148.5 448.6L149.0 448.9L149.5 449.2L150.0 449.5L150.5 449.7L151.0 450.0L151.5 450.3L152.0 450.6L152.5 450.8L153.0 451.1L153.5 451.3L154.0 451.6L154.5 451.8L155.0 452.1L155.5 452.3L156.0 452.6L156.5 452.8L157.0 453.1L157.5 453.3L158.0 453.5L158.5 453.8L159.0 454.0L159.5 454.2L160.0 454.4L160.5 454.7L161.0 454.9L161.5 455.1L162.0 455.3L162.5 455.5L163.0 455.7L163.5 455.9L164.0 456.1L164.5 456.3L165.0 456.5L165.5 456.7L166.0 456.8L166.5 457.0L167.0 457.2L167.5 457.4L168.0 457.5L168.5 457.7L169.0 457.9L169.5 458.0L170.0 458.2L170.5 458.3L171.0 458.5L171.5 458.6L172.0 458.8L172.5 458.9L173.0 459.1L173.5 459.2L174.0 459.3L174.5 459.5L175.0 459.6L175.5 459.7L176.0 459.8L176.5 459.9L177.0 460.0L177.5 460.2L178.0 460.3L178.5 460.4L179.0 460.5L179.5 460.6L180.0 460.7L180.5 460.8L181.0 460.9L181.5 461.0L182.0 461.0L182.5 461.1L183.0 461.2L183.5 461.3L184.0 461.4L184.5 461.5L185.0 461.5L185.5 461.6L186.0 461.7L186.5 461.7L187.0 461.8L187.5 461.9L188.0 461.9L188.5 462.0L189.0 462.0L189.5 462.1L190.0 462.2L190.5 462.2L191.0 462.3L191.5 462.3L192.0 462.4L192.5 462.4L193.0 462.5L193.5 462.5L194.0 462.5L194.5 462.6L195.0 462.6L195.5 462.7L196.0 462.7L196.5 462.7L197.0 462.8L197.5 462.8L198.0 462.8L198.5 462.9L199.0 462.9L199.5 462.9L200.0 463.0L200.5 463.0L201.0 463.0L201.5 463.0L202.0 463.1L202.5 463.1L203.0 463.1L203.5 463.1L204.0 463.1L204.5 463.2L205.0 463.2L205.5 463.2L206.0 463.2L206.5 463.2L207.0 463.3L207.5 463.3L208.0 463.3L208.5 463.3L209.0 463.3L209.5 463.3L210.0 463.3L210.5 463.3L211.0 463.4L211.5 463.4L212.0 463.4L212.5 463.4L213.0 463.4L213.5 463.4L214.0 463.4L214.5 463.4L215.0 463.4L215.5 463.4L216.0 463.5L216.5 463.5L217.0 463.5L217.5 463.5L218.0 463.5L218.5 463.5L219.0 463.5L219.5 463.5L220.0 463.5L220.5 463.5L221.0 463.5L221.5 463.5L222.0 463.5L222.5 463.5L223.0 463.5L223.5 463.5L224.0 463.5L224.5 463.5L225.0 463.5L225.5 463.5L226.0 463.5L226.5 463.6L227.0 463.6L227.5 463.6L228.0 463.6L228.5 463.6L229.0 463.6L229.5 463.6L230.0 463.6L230.5 463.6L231.0 463.6L231.5 463.6L232.0 463.6L232.5 463.6L233.0 463.6L233.5 463.6L234.0 463.6L234.5 463.6L235.0 463.6L235.5 463.6L236.0 463.6L236.5 463.6L237.0 463.6L237.5 463.6L238.0 463.6L238.5 463.6L239.0 463.6L239.5 463.6L240.0 463.6L240.5 463.6L241.0 463.6L241.5 463.6L242.0 463.6L242.5 463.6L243.0 463.6L243.5 463.6L244.0 463.6L244.5 463.6L245.0 463.6L245.5 463.6L246.0 463.6L246.5 463.6L247.0 463.6L247.5 463.6L248.0 463.6L248.5 463.6L249.0 463.6L249.5 463.6L250.0 463.6L250.5 463.6L251.0 463.6L251.5 463.6L252.0 463.6L252.5 463.6L253.0 463.6L253.5 463.6L254.0 463.6L254.5 463.6L255.0 463.6L255.5 463.6L256.0 463.6L256.5 463.6L257.0 463.6L257.5 463.6L258.0 463.6L258.5 463.6L259.0 463.6L259.5 463.6L260.0 463.6L260.5 463.6" stroke="#3d6c9c" stroke-width="2.0" stroke-dasharray="8.5 8.5"/>
<path d="M29.0 463.6L29.5 463.6L30.0 463.6L30.5 463.6L31.0 463.6L31.5 463.6L32.0 463.6L32.5 463.6L33.0 463.6L33.5 463.6L34.0 463.6L34.5 463.6L35.0 463.6L35.5 463.6L36.0 463.6L36.5 463.6L37.0 463.6L37.5 463.6L38.0 463.6L38.5 463.6L39.0 463.6L39.5 463.6L40.0 463.6L40.5 463.6L41.0 463.6L41.5 463.6L42.0 463.6L42.5 463.6L43.0 463.6L43.5 463.6L44.0 463.6L44.5 463.6L45.0 463.6L45.5 463.6L46.0 463.6L46.5 463.6L47.0 463.6L47.5 463.6L48.0 463.6L48.5 463.6L49.0 463.6L49.5 463.6L50.0 463.6L50.5 463.6L51.0 463.6L51.5 463.6L52.0 463.6L52.5 463.6L53.0 463.6L53.5 463.6L54.0 463.6L54.5 463.6L55.0 463.6L55.5 463.6L56.0 463.6L56.5 463.6L57.0 463.6L57.5 463.6L58.0 463.6L58.5 463.6L59.0 463.6L59.5 463.6L60.0 463.6L60.5 463.6L61.0 463.6L61.5 463.6L62.0 463.6L62.5 463.6L63.0 463.6L63.5 463.6L64.0 463.6L64.5 463.6L65.0 463.6L65.5 463.6L66.0 463.6L66.5 463.6L67.0 463.6L67.5 463.6L68.0 463.5L68.5 463.5L69.0 463.5L69.5 463.5L70.0 463.5L70.5 463.5L71.0 463.5L71.5 463.5L72.0 463.5L72.5 463.5L73.0 463.5L73.5 463.5L74.0 463.5L74.5 463.4L75.0 463.4L75.5 463.4L76.0 463.4L76.5 463.4L77.0 463.4L77.5 463.3L78.0 463.3L78.5 463.3L79.0 463.3L79.5 463.3L80.0 463.2L80.5 463.2L81.0 463.2L81.5 463.1L82.0 463.1L82.5 463.1L83.0 463.0L83.5 463.0L84.0 462.9L84.5 462.9L85.0 462.8L85.5 462.8L86.0 462.7L86.5 462.7L87.0 462.6L87.5 462.6L88.0 462.5L88.5 462.4L89.0 462.3L89.5 462.2L90.0 462.2L90.5 462.1L91.0 462.0L91.5 461.9L92.0 461.8L92.5 461.7L93.0 461.5L93.5 461.4L94.0 461.3L94.5 461.2L95.0 461.0L95.5 460.9L96.0 460.7L96.5 460.6L97.0 460.4L97.5 460.2L98.0 460.0L98.5 459.9L99.0 459.7L99.5 459.5L100.0 459.3L100.5 459.0L101.0 458.8L101.5 458.6L102.0 458.3L102.5 458.1L103.0 457.8L103.5 457.6L104.0 457.3L104.5 457.0L105.0 456.8L105.5 456.5L106.0 456.2L106.5 455.9L107.0 455.5L107.5 455.2L108.0 454.9L108.5 454.6L109.0 454.2L109.5 453.9L110.0 453.5L110.5 453.2L111.0 452.8L111.5 452.4L112.0 452.0L112.5 451.7L113.0 451.3L113.5 450.9L114.0 450.5L114.5 450.1L115.0 449.7L115.5 449.3L116.0 448.9L116.5 448.5L117.0 448.1L117.5 447.6L118.0 447.2L118.5 446.8L119.0 446.4L119.5 446.0L120.0 445.6L120.5 445.2L121.0 444.8L121.5 444.4L122.0 444.0L122.5 443.7L123.0 443.3L123.5 442.9L124.0 442.5L124.5 442.2L125.0 441.8L125.5 441.5L126.0 441.2L126.5 440.8L127.0 440.5L127.5 440.2L128.0 440.0L128.5 439.7L129.0 439.4L129.5 439.2L130.0 438.9L130.5 438.7L131.0 438.5L131.5 438.3L132.0 438.2L132.5 438.0L133.0 437.8L133.5 437.7L134.0 437.6L134.5 437.5L135.0 437.4L135.5 437.4L136.0 437.3L136.5 437.3L137.0 437.3L137.5 437.3L138.0 437.3L138.5 437.4L139.0 437.4L139.5 437.5L140.0 437.5L140.5 437.6L141.0 437.7L141.5 437.8L142.0 438.0L142.5 438.1L143.0 438.3L143.5 438.4L144.0 438.6L144.5 438.8L145.0 439.0L145.5 439.2L146.0 439.4L146.5 439.6L147.0 439.9L147.5 440.1L148.0 440.4L148.5 440.7L149.0 440.9L149.5 441.2L150.0 441.5L150.5 441.8L151.0 442.1L151.5 442.4L152.0 442.8L152.5 443.1L153.0 443.4L153.5 443.7L154.0 444.1L154.5 444.4L155.0 444.8L155.5 445.1L156.0 445.5L156.5 445.8L157.0 446.2L157.5 446.6L158.0 446.9L158.5 447.3L159.0 447.6L159.5 448.0L160.0 448.4L160.5 448.7L161.0 449.1L161.5 449.5L162.0 449.8L162.5 450.2L163.0 450.5L163.5 450.9L164.0 451.2L164.5 451.6L165.0 451.9L165.5 452.2L166.0 452.6L166.5 452.9L167.0 453.2L167.5 453.5L168.0 453.9L168.5 454.2L169.0 454.5L169.5 454.8L170.0 455.1L170.5 455.3L171.0 455.6L171.5 455.9L172.0 456.2L172.5 456.4L173.0 456.7L173.5 457.0L174.0 457.2L174.5 457.4L175.0 457.7L175.5 457.9L176.0 458.1L176.5 458.4L177.0 458.6L177.5 458.8L178.0 459.0L178.5 459.2L179.0 459.3L179.5 459.5L180.0 459.7L180.5 459.9L181.0 460.0L181.5 460.2L182.0 460.4L182.5 460.5L183.0 460.6L183.5 460.8L184.0 460.9L184.5 461.0L185.0 461.2L185.5 461.3L186.0 461.4L186.5 461.5L187.0 461.6L187.5 461.7L188.0 461.8L188.5 461.9L189.0 462.0L189.5 462.1L190.0 462.2L190.5 462.2L191.0 462.3L191.5 462.4L192.0 462.4L192.5 462.5L193.0 462.6L193.5 462.6L194.0 462.7L194.5 462.7L195.0 462.8L195.5 462.8L196.0 462.9L196.5 462.9L197.0 463.0L197.5 463.0L198.0 463.0L198.5 463.1L199.0 463.1L199.5 463.1L200.0 463.2L200.5 463.2L201.0 463.2L201.5 463.2L202.0 463.3L202.5 463.3L203.0 463.3L203.5 463.3L204.0 463.3L204.5 463.4L205.0 463.4L205.5 463.4L206.0 463.4L206.5 463.4L207.0 463.4L207.5 463.4L208.0 463.5L208.5 463.5L209.0 463.5L209.5 463.5L210.0 463.5L210.5 463.5L211.0 463.5L211.5 463.5L212.0 463.5L212.5 463.5L213.0 463.5L213.5 463.5L214.0 463.5L214.5 463.5L215.0 463.6L215.5 463.6L216.0 463.6L216.5 463.6L217.0 463.6L217.5 463.6L218.0 463.6L218.5 463.6L219.0 463.6L219.5 463.6L220.0 463.6L220.5 463.6L221.0 463.6L221.5 463.6L222.0 463.6L222.5 463.6L223.0 463.6L223.5 463.6L224.0 463.6L224.5 463.6L225.0 463.6L225.5 463.6L226.0 463.6L226.5 463.6L227.0 463.6L227.5 463.6L228.0 463.6L228.5 463.6L229.0 463.6L229.5 463.6L230.0 463.6L230.5 463.6L231.0 463.6L231.5 463.6L232.0 463.6L232.5 463.6L233.0 463.6L233.5 463.6L234.0 463.6L234.5 463.6L235.0 463.6L235.5 463.6L236.0 463.6L236.5 463.6L237.0 463.6L237.5 463.6L238.0 463.6L238.5 463.6L239.0 463.6L239.5 463.6L240.0 463.6L240.5 463.6L241.0 463.6L241.5 463.6L242.0 463.6L242.5 463.6L243.0 463.6L243.5 463.6L244.0 463.6L244.5 463.6L245.0 463.6L245.5 463.6L246.0 463.6L246.5 463.6L247.0 463.6L247.5 463.6L248.0 463.6L248.5 463.6L249.0 463.6L249.5 463.6L250.0 463.6L250.5 463.6L251.0 463.6L251.5 463.6L252.0 463.6L252.5 463.6L253.0 463.6L253.5 463.6L254.0 463.6L254.5 463.6L255.0 463.6L255.5 463.6L256.0 463.6L256.5 463.6L257.0 463.6L257.5 463.6L258.0 463.6L258.5 463.6L259.0 463.6L259.5 463.6L260.0 463.6L260.5 463.6" stroke="#ff1010" stroke-width="2.0" stroke-dasharray="5 3.6" stroke-linecap="round"/>
<path d="M29.0 463.6L29.5 463.6L30.0 463.6L30.5 463.6L31.0 463.6L31.5 463.6L32.0 463.6L32.5 463.6L33.0 463.6L33.5 463.6L34.0 463.6L34.5 463.6L35.0 463.6L35.5 463.6L36.0 463.6L36.5 463.6L37.0 463.6L37.5 463.6L38.0 463.6L38.5 463.6L39.0 463.6L39.5 463.6L40.0 463.6L40.5 463.6L41.0 463.6L41.5 463.6L42.0 463.6L42.5 463.6L43.0 463.6L43.5 463.6L44.0 463.6L44.5 463.6L45.0 463.6L45.5 463.6L46.0 463.6L46.5 463.6L47.0 463.6L47.5 463.6L48.0 463.6L48.5 463.6L49.0 463.6L49.5 463.6L50.0 463.6L50.5 463.6L51.0 463.6L51.5 463.6L52.0 463.6L52.5 463.6L53.0 463.6L53.5 463.6L54.0 463.6L54.5 463.6L55.0 463.6L55.5 463.6L56.0 463.6L56.5 463.6L57.0 463.6L57.5 463.6L58.0 463.6L58.5 463.6L59.0 463.6L59.5 463.6L60.0 463.6L60.5 463.6L61.0 463.6L61.5 463.6L62.0 463.6L62.5 463.6L63.0 463.6L63.5 463.6L64.0 463.6L64.5 463.6L65.0 463.6L65.5 463.6L66.0 463.6L66.5 463.6L67.0 463.6L67.5 463.6L68.0 463.6L68.5 463.6L69.0 463.6L69.5 463.6L70.0 463.6L70.5 463.6L71.0 463.6L71.5 463.6L72.0 463.6L72.5 463.6L73.0 463.6L73.5 463.6L74.0 463.6L74.5 463.6L75.0 463.6L75.5 463.6L76.0 463.6L76.5 463.6L77.0 463.6L77.5 463.6L78.0 463.6L78.5 463.6L79.0 463.6L79.5 463.6L80.0 463.6L80.5 463.6L81.0 463.6L81.5 463.6L82.0 463.6L82.5 463.6L83.0 463.6L83.5 463.6L84.0 463.6L84.5 463.6L85.0 463.6L85.5 463.6L86.0 463.6L86.5 463.6L87.0 463.6L87.5 463.6L88.0 463.6L88.5 463.6L89.0 463.6L89.5 463.6L90.0 463.6L90.5 463.6L91.0 463.6L91.5 463.6L92.0 463.6L92.5 463.6L93.0 463.6L93.5 463.6L94.0 463.6L94.5 463.6L95.0 463.6L95.5 463.6L96.0 463.6L96.5 463.6L97.0 463.6L97.5 463.6L98.0 463.6L98.5 463.6L99.0 463.6L99.5 463.6L100.0 463.6L100.5 463.6L101.0 463.6L101.5 463.6L102.0 463.6L102.5 463.6L103.0 463.6L103.5 463.6L104.0 463.6L104.5 463.6L105.0 463.6L105.5 463.6L106.0 463.6L106.5 463.6L107.0 463.6L107.5 463.6L108.0 463.6L108.5 463.6L109.0 463.6L109.5 463.6L110.0 463.6L110.5 463.6L111.0 463.6L111.5 463.6L112.0 463.6L112.5 463.6L113.0 463.6L113.5 463.6L114.0 463.6L114.5 463.6L115.0 463.6L115.5 463.6L116.0 463.6L116.5 463.6L117.0 463.6L117.5 463.6L118.0 463.6L118.5 463.6L119.0 463.6L119.5 463.6L120.0 463.6L120.5 463.6L121.0 463.6L121.5 463.6L122.0 463.6L122.5 463.6L123.0 463.6L123.5 463.6L124.0 463.6L124.5 463.6L125.0 463.6L125.5 463.6L126.0 463.6L126.5 463.6L127.0 463.6L127.5 463.6L128.0 463.6L128.5 463.6L129.0 463.6L129.5 463.6L130.0 463.6L130.5 463.6L131.0 463.6L131.5 463.6L132.0 463.6L132.5 463.6L133.0 463.6L133.5 463.6L134.0 463.5L134.5 463.5L135.0 463.5L135.5 463.4L136.0 463.2L136.5 463.1L137.0 462.8L137.5 462.4L138.0 461.9L138.5 461.2L139.0 460.3L139.5 459.1L140.0 457.5L140.5 455.4L141.0 452.9L141.5 449.8L142.0 446.1L142.5 441.7L143.0 436.6L143.5 430.9L144.0 424.6L144.5 417.8L145.0 410.6L145.5 403.3L146.0 396.0L146.5 389.0L147.0 382.6L147.5 376.9L148.0 372.4L148.5 369.0L149.0 367.1L149.5 366.6L150.0 367.7L150.5 370.2L151.0 374.1L151.5 379.1L152.0 385.1L152.5 391.8L153.0 398.9L153.5 406.2L154.0 413.5L154.5 420.6L155.0 427.2L155.5 433.3L156.0 438.7L156.5 443.5L157.0 447.6L157.5 451.1L158.0 454.0L158.5 456.3L159.0 458.2L159.5 459.6L160.0 460.7L160.5 461.5L161.0 462.2L161.5 462.6L162.0 462.9L162.5 463.1L163.0 463.3L163.5 463.4L164.0 463.5L164.5 463.5L165.0 463.6L165.5 463.6L166.0 463.6L166.5 463.6L167.0 463.6L167.5 463.6L168.0 463.6L168.5 463.6L169.0 463.6L169.5 463.6L170.0 463.6L170.5 463.6L171.0 463.6L171.5 463.6L172.0 463.6L172.5 463.6L173.0 463.6L173.5 463.6L174.0 463.6L174.5 463.6L175.0 463.6L175.5 463.6L176.0 463.6L176.5 463.6L177.0 463.6L177.5 463.6L178.0 463.6L178.5 463.6L179.0 463.6L179.5 463.6L180.0 463.6L180.5 463.6L181.0 463.6L181.5 463.6L182.0 463.6L182.5 463.6L183.0 463.6L183.5 463.6L184.0 463.6L184.5 463.6L185.0 463.6L185.5 463.6L186.0 463.6L186.5 463.6L187.0 463.6L187.5 463.6L188.0 463.6L188.5 463.6L189.0 463.6L189.5 463.6L190.0 463.6L190.5 463.6L191.0 463.6L191.5 463.6L192.0 463.6L192.5 463.6L193.0 463.6L193.5 463.6L194.0 463.6L194.5 463.6L195.0 463.6L195.5 463.6L196.0 463.6L196.5 463.6L197.0 463.6L197.5 463.6L198.0 463.6L198.5 463.6L199.0 463.6L199.5 463.6L200.0 463.6L200.5 463.6L201.0 463.6L201.5 463.6L202.0 463.6L202.5 463.6L203.0 463.6L203.5 463.6L204.0 463.6L204.5 463.6L205.0 463.6L205.5 463.6L206.0 463.6L206.5 463.6L207.0 463.6L207.5 463.6L208.0 463.6L208.5 463.6L209.0 463.6L209.5 463.6L210.0 463.6L210.5 463.6L211.0 463.6L211.5 463.6L212.0 463.6L212.5 463.6L213.0 463.6L213.5 463.6L214.0 463.6L214.5 463.6L215.0 463.6L215.5 463.6L216.0 463.6L216.5 463.6L217.0 463.6L217.5 463.6L218.0 463.6L218.5 463.6L219.0 463.6L219.5 463.6L220.0 463.6L220.5 463.6L221.0 463.6L221.5 463.6L222.0 463.6L222.5 463.6L223.0 463.6L223.5 463.6L224.0 463.6L224.5 463.6L225.0 463.6L225.5 463.6L226.0 463.6L226.5 463.6L227.0 463.6L227.5 463.6L228.0 463.6L228.5 463.6L229.0 463.6L229.5 463.6L230.0 463.6L230.5 463.6L231.0 463.6L231.5 463.6L232.0 463.6L232.5 463.6L233.0 463.6L233.5 463.6L234.0 463.6L234.5 463.6L235.0 463.6L235.5 463.6L236.0 463.6L236.5 463.6L237.0 463.6L237.5 463.6L238.0 463.6L238.5 463.6L239.0 463.6L239.5 463.6L240.0 463.6L240.5 463.6L241.0 463.6L241.5 463.6L242.0 463.6L242.5 463.6L243.0 463.6L243.5 463.6L244.0 463.6L244.5 463.6L245.0 463.6L245.5 463.6L246.0 463.6L246.5 463.6L247.0 463.6L247.5 463.6L248.0 463.6L248.5 463.6L249.0 463.6L249.5 463.6L250.0 463.6L250.5 463.6L251.0 463.6L251.5 463.6L252.0 463.6L252.5 463.6L253.0 463.6L253.5 463.6L254.0 463.6L254.5 463.6L255.0 463.6L255.5 463.6L256.0 463.6L256.5 463.6L257.0 463.6L257.5 463.6L258.0 463.6L258.5 463.6L259.0 463.6L259.5 463.6L260.0 463.6L260.5 463.6" stroke="#17365d" stroke-width="2.0" stroke-dasharray="5.6 3.8"/>
<path d="M149.5 281.5L149.0 281.6L148.5 283.1L148.0 286.0L147.5 290.2L147.4 291.2M146.5 301.5L146.5 301.5L146.0 308.2L145.7 311.7M145.0 322.0L145.0 322.2L144.5 329.0L144.3 332.3M143.4 342.6L143.0 347.1L142.5 351.9L142.4 352.8M140.9 363.0L140.5 364.9L140.0 366.8L139.5 368.3L139.0 369.5L138.5 370.3L138.0 371.0L137.5 371.4L137.0 371.8L136.6 372.0M127.5 376.5L127.0 376.9L126.5 377.4L126.0 377.8L125.5 378.3L125.0 378.8L124.5 379.3L124.0 379.8L123.5 380.3L123.0 380.8L122.5 381.4L122.0 381.9L121.5 382.5L121.0 383.1L120.5 383.7L120.3 383.9M114.0 392.1L114.0 392.2L113.5 392.8L113.0 393.5L112.5 394.2L112.0 394.9L111.5 395.6L111.0 396.3L110.5 397.0L110.0 397.7L109.5 398.4L109.0 399.0L108.5 399.7L108.0 400.4L108.0 400.4M101.8 408.7L101.5 409.1L101.0 409.8L100.5 410.4L100.0 411.0L99.5 411.7L99.0 412.3L98.5 412.9L98.0 413.6L97.5 414.2L97.0 414.8L96.5 415.4L96.0 416.0L95.5 416.6L95.4 416.7M88.7 424.5L88.5 424.7L88.0 425.3L87.5 425.8L87.0 426.4L86.5 426.9L86.0 427.4L85.5 428.0L85.0 428.5L84.5 429.0L84.0 429.5L83.5 430.1L83.0 430.6L82.5 431.1L82.0 431.6L81.6 432.0M74.1 439.1L74.0 439.2L73.5 439.7L73.0 440.1L72.5 440.6L72.0 441.0L71.5 441.4L71.0 441.8L70.5 442.3L70.0 442.7L69.5 443.1L69.0 443.5L68.5 443.9L68.0 444.3L67.5 444.7L67.0 445.1L66.5 445.5L66.2 445.7M57.7 451.5L57.5 451.6L57.0 451.9L56.5 452.2L56.0 452.4L55.5 452.7L55.0 453.0L54.5 453.3L54.0 453.5L53.5 453.8L53.0 454.0L52.5 454.3L52.0 454.5L51.5 454.8L51.0 455.0L50.5 455.3L50.0 455.5L49.5 455.7L49.0 455.9L48.5 456.1M38.8 459.5L38.5 459.5L38.0 459.7L37.5 459.8L37.0 459.9L36.5 460.0L36.0 460.2L35.5 460.3L35.0 460.4L34.5 460.5L34.0 460.6L33.5 460.7L33.0 460.8L32.5 460.9L32.0 461.0L31.5 461.1L31.0 461.2L30.5 461.3L30.0 461.3L29.5 461.4L29.0 461.5M151.1 291.7L151.5 295.9L152.0 302.0M152.7 312.2L153.0 317.2L153.3 322.5M154.0 332.8L154.0 332.9L154.5 340.5L154.7 343.1M155.4 353.3L155.5 354.3L156.0 360.3L156.3 363.6M157.4 373.8L157.5 374.5L158.0 378.0L158.5 380.9L159.0 383.3L159.2 384.0M163.0 393.5L163.0 393.5L163.5 394.3L164.0 395.0L164.5 395.7L165.0 396.4L165.5 397.0L166.0 397.7L166.5 398.3L167.0 399.0L167.5 399.6L168.0 400.3L168.5 400.9L169.0 401.6L169.1 401.8M175.5 409.8L176.0 410.4L176.5 411.0L177.0 411.6L177.5 412.3L178.0 412.9L178.5 413.5L179.0 414.0L179.5 414.6L180.0 415.2L180.5 415.8L181.0 416.4L181.5 417.0L182.0 417.5L182.2 417.7M189.1 425.3L189.5 425.7L190.0 426.2L190.5 426.7L191.0 427.2L191.5 427.7L192.0 428.2L192.5 428.7L193.0 429.2L193.5 429.7L194.0 430.2L194.5 430.7L195.0 431.1L195.5 431.6L196.0 432.1L196.5 432.5M204.2 439.3L204.5 439.5L205.0 439.9L205.5 440.3L206.0 440.7L206.5 441.1L207.0 441.5L207.5 441.9L208.0 442.3L208.5 442.7L209.0 443.0L209.5 443.4L210.0 443.8L210.5 444.1L211.0 444.5L211.5 444.8L212.0 445.2L212.4 445.5M221.2 450.9L221.5 451.1L222.0 451.4L222.5 451.7L223.0 451.9L223.5 452.2L224.0 452.4L224.5 452.7L225.0 452.9L225.5 453.2L226.0 453.4L226.5 453.6L227.0 453.9L227.5 454.1L228.0 454.3L228.5 454.6L229.0 454.8L229.5 455.0L230.0 455.2L230.5 455.4M240.2 458.7L240.5 458.8L241.0 458.9L241.5 459.0L242.0 459.2L242.5 459.3L243.0 459.4L243.5 459.5L244.0 459.6L244.5 459.8L245.0 459.9L245.5 460.0L246.0 460.1L246.5 460.2L247.0 460.3L247.5 460.4L248.0 460.5L248.5 460.6L249.0 460.7L249.5 460.8L250.0 460.8L250.3 460.9M260.5 462.2L260.5 462.2" stroke="#c81c1c" stroke-width="3"/>
<defs><path id="gp-c" d="M29.0 458.7L29.6 461.3L30.1 463.8L30.7 460.4L31.2 458.4L31.8 458.9L32.3 465.4L32.9 465.3L33.4 460.1L34.0 456.7L34.5 462.2L35.1 459.0L35.6 456.9L36.2 458.9L36.7 462.4L37.3 461.8L37.8 460.5L38.4 458.0L38.9 456.6L39.5 460.4L40.0 459.7L40.6 458.7L41.1 458.8L41.7 456.3L42.2 458.0L42.8 458.2L43.3 461.1L43.9 458.3L44.4 459.3L45.0 453.6L45.5 455.2L46.1 456.2L46.6 456.1L47.2 458.9L47.7 458.0L48.3 455.9L48.8 453.4L49.4 454.1L49.9 458.1L50.5 456.4L51.0 455.1L51.6 458.5L52.1 454.1L52.7 451.5L53.2 455.1L53.8 448.7L54.3 450.4L54.9 453.9L55.4 448.0L56.0 451.9L56.5 451.9L57.1 455.9L57.6 455.4L58.2 447.3L58.7 451.5L59.3 453.1L59.8 451.2L60.4 451.8L60.9 453.0L61.5 452.5L62.0 449.7L62.6 444.1L63.1 444.2L63.7 440.4L64.2 447.1L64.8 446.7L65.3 445.1L65.9 443.9L66.4 442.7L67.0 448.8L67.5 441.8L68.1 442.5L68.6 444.8L69.2 442.7L69.7 444.0L70.3 446.2L70.8 443.9L71.4 447.1L71.9 445.8L72.5 439.2L73.0 437.6L73.6 442.1L74.1 446.5L74.7 440.0L75.2 436.5L75.8 437.1L76.3 439.8L76.9 437.1L77.4 436.8L78.0 435.0L78.5 432.7L79.1 433.7L79.6 434.3L80.2 431.6L80.7 431.1L81.3 434.4L81.8 432.6L82.4 428.9L82.9 427.8L83.5 430.1L84.0 430.0L84.6 432.1L85.1 428.4L85.7 423.7L86.2 424.3L86.8 427.3L87.3 424.1L87.9 424.4L88.4 422.4L89.0 427.2L89.5 426.0L90.1 420.5L90.6 417.4L91.2 422.7L91.7 423.3L92.3 414.4L92.8 416.1L93.4 418.9L93.9 416.6L94.5 418.8L95.0 423.2L95.6 418.0L96.1 416.7L96.7 417.4L97.2 414.8L97.8 416.6L98.3 415.6L98.9 419.3L99.4 409.4L100.0 404.2L100.5 412.4L101.1 416.4L101.6 409.1L102.2 404.5L102.7 407.9L103.3 411.1L103.8 400.3L104.4 405.2L104.9 403.7L105.5 402.0L106.0 401.2L106.6 396.9L107.1 394.5L107.7 404.3L108.2 402.1L108.8 395.0L109.3 396.2L109.9 399.7L110.4 394.6L111.0 397.0L111.5 396.6L112.1 391.5L112.6 390.4L113.2 384.9L113.7 387.0L114.3 390.5L114.8 386.6L115.4 388.7L115.9 389.0L116.5 387.8L117.0 389.2L117.6 386.5L118.1 385.3L118.7 384.7L119.2 388.5L119.8 383.2L120.3 382.3L120.9 383.3L121.4 382.9L122.0 384.2L122.5 384.1L123.1 372.6L123.6 374.8L124.2 373.3L124.7 371.0L125.3 375.2L125.8 372.8L126.4 371.9L126.9 366.6L127.5 364.9L128.0 370.5L128.6 364.5L129.1 362.6L129.7 373.3L130.2 370.2L130.8 369.1L131.3 378.3L131.9 379.2L132.4 371.6L133.0 376.7L133.5 382.1L134.1 374.8L134.6 380.1L135.2 375.6L135.7 371.9L136.3 372.0L136.8 369.5L137.4 370.7L137.9 371.8L138.5 374.4L139.0 366.5L139.6 370.4L140.1 366.2L140.7 363.8L141.2 362.4L141.8 361.6L142.3 359.0L142.9 349.9L143.4 340.9L144.0 335.2L144.5 331.0L145.1 320.0L145.6 317.4L146.2 307.1L146.7 296.3L147.3 287.6L147.8 281.2L148.4 272.8L148.9 267.5L149.5 270.6L150.0 274.3L150.6 281.7L151.1 287.8L151.7 298.2L152.2 304.0L152.8 310.1L153.3 318.3L153.9 329.1L154.4 343.1L155.0 347.5L155.5 359.7L156.1 362.2L156.6 365.6L157.2 369.2L157.7 376.7L158.3 377.5L158.8 382.4L159.4 388.6L159.9 387.1L160.5 380.0L161.0 385.9L161.6 388.7L162.1 385.7L162.7 387.1L163.2 388.5L163.8 397.8L164.3 399.3L164.9 389.1L165.4 393.2L166.0 399.8L166.5 394.6L167.1 395.9L167.6 405.5L168.2 404.5L168.7 405.4L169.3 406.8L169.8 406.0L170.4 408.3L170.9 406.6L171.5 404.0L172.0 405.5L172.6 406.7L173.1 403.5L173.7 407.1L174.2 407.7L174.8 411.2L175.3 414.0L175.9 409.5L176.4 413.1L177.0 411.8L177.5 408.8L178.1 413.1L178.6 407.0L179.2 407.9L179.7 415.7L180.3 409.2L180.8 411.9L181.4 412.5L181.9 417.4L182.5 417.0L183.0 418.6L183.6 418.1L184.1 421.2L184.7 422.3L185.2 423.5L185.8 428.7L186.3 426.7L186.9 422.6L187.4 426.6L188.0 428.0L188.5 421.3L189.1 428.8L189.6 427.9L190.2 424.8L190.7 424.3L191.3 425.4L191.8 426.4L192.4 428.1L192.9 431.9L193.5 436.6L194.0 427.1L194.6 429.9L195.1 430.9L195.7 434.1L196.2 432.8L196.8 436.3L197.3 436.5L197.9 433.6L198.4 428.8L199.0 431.4L199.5 428.9L200.1 432.8L200.6 435.0L201.2 432.2L201.7 435.4L202.3 441.2L202.8 437.7L203.4 436.7L203.9 437.8L204.5 437.7L205.0 440.0L205.6 440.5L206.1 443.8L206.7 440.0L207.2 442.4L207.8 439.1L208.3 440.8L208.9 444.6L209.4 441.9L210.0 441.8L210.5 442.3L211.1 443.6L211.6 445.9L212.2 441.7L212.7 447.9L213.3 449.5L213.8 443.8L214.4 441.2L214.9 450.1L215.5 444.4L216.0 444.6L216.6 452.1L217.1 451.3L217.7 451.6L218.2 449.5L218.8 449.8L219.3 446.8L219.9 448.4L220.4 448.0L221.0 447.5L221.5 452.5L222.1 452.2L222.6 450.3L223.2 450.6L223.7 453.1L224.3 451.6L224.8 454.7L225.4 455.0L225.9 452.3L226.5 451.4L227.0 455.3L227.6 454.0L228.1 452.6L228.7 451.8L229.2 452.4L229.8 453.9L230.3 457.0L230.9 459.5L231.4 458.4L232.0 457.6L232.5 457.2L233.1 455.8L233.6 454.9L234.2 451.9L234.7 458.7L235.3 459.8L235.8 461.0L236.4 460.6L236.9 461.0L237.5 460.3L238.0 460.2L238.6 461.0L239.1 460.3L239.7 457.3L240.2 456.6L240.8 458.3L241.3 457.2L241.9 462.5L242.4 462.3L243.0 458.2L243.5 459.5L244.1 460.8L244.6 460.7L245.2 460.7L245.7 458.6L246.3 456.6L246.8 461.6L247.4 463.0L247.9 461.9L248.5 460.1L249.0 458.9L249.6 460.1L250.1 459.8L250.7 460.9L251.2 460.2L251.8 464.3L252.3 460.8L252.9 460.4L253.4 463.0L254.0 461.9L254.5 463.4L255.1 460.0L255.6 458.7L256.2 460.6L256.7 464.4L257.3 466.1L257.8 462.6L258.4 463.5L258.9 458.8L259.5 463.1L260.0 465.3L260.6 461.2"/></defs>
<use href="#gp-c" fill="none" stroke="#45c685" stroke-width="1.65"/>
<mask id="gm-c" maskUnits="userSpaceOnUse" x="29.0" y="249.3" width="231.7" height="217.3"><use href="#gp-c" fill="none" stroke="#fff" stroke-width="1.65" stroke-linejoin="round"/></mask>
<path d="M149.5 281.5L149.0 281.6L148.5 283.1L148.0 286.0L147.5 290.2L147.4 291.2M146.5 301.5L146.5 301.5L146.0 308.2L145.7 311.7M145.0 322.0L145.0 322.2L144.5 329.0L144.3 332.3M143.4 342.6L143.0 347.1L142.5 351.9L142.4 352.8M140.9 363.0L140.5 364.9L140.0 366.8L139.5 368.3L139.0 369.5L138.5 370.3L138.0 371.0L137.5 371.4L137.0 371.8L136.6 372.0M127.5 376.5L127.0 376.9L126.5 377.4L126.0 377.8L125.5 378.3L125.0 378.8L124.5 379.3L124.0 379.8L123.5 380.3L123.0 380.8L122.5 381.4L122.0 381.9L121.5 382.5L121.0 383.1L120.5 383.7L120.3 383.9M114.0 392.1L114.0 392.2L113.5 392.8L113.0 393.5L112.5 394.2L112.0 394.9L111.5 395.6L111.0 396.3L110.5 397.0L110.0 397.7L109.5 398.4L109.0 399.0L108.5 399.7L108.0 400.4L108.0 400.4M101.8 408.7L101.5 409.1L101.0 409.8L100.5 410.4L100.0 411.0L99.5 411.7L99.0 412.3L98.5 412.9L98.0 413.6L97.5 414.2L97.0 414.8L96.5 415.4L96.0 416.0L95.5 416.6L95.4 416.7M88.7 424.5L88.5 424.7L88.0 425.3L87.5 425.8L87.0 426.4L86.5 426.9L86.0 427.4L85.5 428.0L85.0 428.5L84.5 429.0L84.0 429.5L83.5 430.1L83.0 430.6L82.5 431.1L82.0 431.6L81.6 432.0M74.1 439.1L74.0 439.2L73.5 439.7L73.0 440.1L72.5 440.6L72.0 441.0L71.5 441.4L71.0 441.8L70.5 442.3L70.0 442.7L69.5 443.1L69.0 443.5L68.5 443.9L68.0 444.3L67.5 444.7L67.0 445.1L66.5 445.5L66.2 445.7M57.7 451.5L57.5 451.6L57.0 451.9L56.5 452.2L56.0 452.4L55.5 452.7L55.0 453.0L54.5 453.3L54.0 453.5L53.5 453.8L53.0 454.0L52.5 454.3L52.0 454.5L51.5 454.8L51.0 455.0L50.5 455.3L50.0 455.5L49.5 455.7L49.0 455.9L48.5 456.1M38.8 459.5L38.5 459.5L38.0 459.7L37.5 459.8L37.0 459.9L36.5 460.0L36.0 460.2L35.5 460.3L35.0 460.4L34.5 460.5L34.0 460.6L33.5 460.7L33.0 460.8L32.5 460.9L32.0 461.0L31.5 461.1L31.0 461.2L30.5 461.3L30.0 461.3L29.5 461.4L29.0 461.5M151.1 291.7L151.5 295.9L152.0 302.0M152.7 312.2L153.0 317.2L153.3 322.5M154.0 332.8L154.0 332.9L154.5 340.5L154.7 343.1M155.4 353.3L155.5 354.3L156.0 360.3L156.3 363.6M157.4 373.8L157.5 374.5L158.0 378.0L158.5 380.9L159.0 383.3L159.2 384.0M163.0 393.5L163.0 393.5L163.5 394.3L164.0 395.0L164.5 395.7L165.0 396.4L165.5 397.0L166.0 397.7L166.5 398.3L167.0 399.0L167.5 399.6L168.0 400.3L168.5 400.9L169.0 401.6L169.1 401.8M175.5 409.8L176.0 410.4L176.5 411.0L177.0 411.6L177.5 412.3L178.0 412.9L178.5 413.5L179.0 414.0L179.5 414.6L180.0 415.2L180.5 415.8L181.0 416.4L181.5 417.0L182.0 417.5L182.2 417.7M189.1 425.3L189.5 425.7L190.0 426.2L190.5 426.7L191.0 427.2L191.5 427.7L192.0 428.2L192.5 428.7L193.0 429.2L193.5 429.7L194.0 430.2L194.5 430.7L195.0 431.1L195.5 431.6L196.0 432.1L196.5 432.5M204.2 439.3L204.5 439.5L205.0 439.9L205.5 440.3L206.0 440.7L206.5 441.1L207.0 441.5L207.5 441.9L208.0 442.3L208.5 442.7L209.0 443.0L209.5 443.4L210.0 443.8L210.5 444.1L211.0 444.5L211.5 444.8L212.0 445.2L212.4 445.5M221.2 450.9L221.5 451.1L222.0 451.4L222.5 451.7L223.0 451.9L223.5 452.2L224.0 452.4L224.5 452.7L225.0 452.9L225.5 453.2L226.0 453.4L226.5 453.6L227.0 453.9L227.5 454.1L228.0 454.3L228.5 454.6L229.0 454.8L229.5 455.0L230.0 455.2L230.5 455.4M240.2 458.7L240.5 458.8L241.0 458.9L241.5 459.0L242.0 459.2L242.5 459.3L243.0 459.4L243.5 459.5L244.0 459.6L244.5 459.8L245.0 459.9L245.5 460.0L246.0 460.1L246.5 460.2L247.0 460.3L247.5 460.4L248.0 460.5L248.5 460.6L249.0 460.7L249.5 460.8L250.0 460.8L250.3 460.9M260.5 462.2L260.5 462.2" stroke="#55612b" stroke-width="2.1" mask="url(#gm-c)"/>
</g>
<path d="M29.0 249.3L260.7 249.3L260.7 469.0" fill="none" stroke="#151515" stroke-width="1.3"/>
<path d="M29.0 248.65L29.0 469.0" fill="none" stroke="#0a0a0a" stroke-width="1.8"/>
<path d="M28.2 465.6L261.3 465.6" fill="none" stroke="#1c1c1c" stroke-width="1.15"/>
<path d="M29.0 465.6L29.0 469.8M58.0 465.6L58.0 468.4M86.9 465.6L86.9 469.8M115.9 465.6L115.9 468.4M144.8 465.6L144.8 469.8M173.8 465.6L173.8 468.4M202.8 465.6L202.8 469.8M231.7 465.6L231.7 468.4M260.7 465.6L260.7 469.8" fill="none" stroke="#222" stroke-width="1.2"/>
<text transform="translate(29.9 484.3) scale(1 1.09)" font-size="10.8" text-anchor="middle" stroke-width="0.06">10</text>
<text transform="translate(87.3 484.3) scale(1 1.09)" font-size="10.8" text-anchor="middle" stroke-width="0.06">15</text>
<text transform="translate(144.8 484.3) scale(1 1.09)" font-size="10.8" text-anchor="middle" stroke-width="0.06">20</text>
<text transform="translate(202.7 484.3) scale(1 1.09)" font-size="10.8" text-anchor="middle" stroke-width="0.06">25</text>
<text transform="translate(260.7 484.3) scale(1 1.09)" font-size="10.8" text-anchor="middle" stroke-width="0.06">30</text>
<text x="41.8" y="270.1" font-size="18.4">(c)</text>
<path d="M149.8 368.5L184.7 324.2" stroke="#000" stroke-width="1.65" fill="none"/><path d="M189.5 318.1L187.2 327.4L181.0 322.6Z" fill="#000"/>
<path d="M138.7 432.8L97.6 370.0" stroke="#000" stroke-width="1.65" fill="none"/><path d="M93.4 363.6L101.4 368.7L94.9 373.0Z" fill="#000"/>
<path d="M107.8 431.0L78.5 408.7" stroke="#000" stroke-width="1.65" fill="none"/><path d="M72.3 404.0L81.6 406.2L76.9 412.4Z" fill="#000"/>
<path d="M160.8 414.5L187.5 394.0" stroke="#000" stroke-width="1.65" fill="none"/><path d="M193.6 389.3L189.0 397.7L184.3 391.5Z" fill="#000"/>
<text transform="translate(177.3 312.7) scale(1 1.06)" font-size="12.5" stroke-width="0.2">20.4°(110)</text>
<text transform="translate(73.6 354.4) scale(1 1.06)" font-size="12.2" stroke-width="0.2">19.3°</text>
<text transform="translate(52.1 401.4) scale(1 1.06)" font-size="12.2" stroke-width="0.2">16.9°</text>
<text transform="translate(185.2 383.9) scale(1 1.06)" font-size="12.2" stroke-width="0.2">21.0°</text>
</g>
<g id="panel-d">
<clipPath id="clip-d"><rect x="291.9" y="257.3" width="219.70" height="208.30"/></clipPath>
<g clip-path="url(#clip-d)" fill="none" stroke-linejoin="round">
<path d="M291.9 460.9L292.4 460.9L292.9 460.8L293.4 460.8L293.9 460.8L294.4 460.8L294.9 460.7L295.4 460.7L295.9 460.7L296.4 460.7L296.9 460.7L297.4 460.6L297.9 460.6L298.4 460.6L298.9 460.5L299.4 460.5L299.9 460.5L300.4 460.4L300.9 460.4L301.4 460.4L301.9 460.3L302.4 460.3L302.9 460.3L303.4 460.2L303.9 460.2L304.4 460.2L304.9 460.1L305.4 460.1L305.9 460.0L306.4 460.0L306.9 459.9L307.4 459.9L307.9 459.8L308.4 459.8L308.9 459.7L309.4 459.7L309.9 459.6L310.4 459.6L310.9 459.5L311.4 459.5L311.9 459.4L312.4 459.3L312.9 459.3L313.4 459.2L313.9 459.2L314.4 459.1L314.9 459.0L315.4 458.9L315.9 458.9L316.4 458.8L316.9 458.7L317.4 458.6L317.9 458.6L318.4 458.5L318.9 458.4L319.4 458.3L319.9 458.2L320.4 458.1L320.9 458.0L321.4 458.0L321.9 457.9L322.4 457.8L322.9 457.7L323.4 457.6L323.9 457.4L324.4 457.3L324.9 457.2L325.4 457.1L325.9 457.0L326.4 456.9L326.9 456.8L327.4 456.7L327.9 456.5L328.4 456.4L328.9 456.3L329.4 456.1L329.9 456.0L330.4 455.9L330.9 455.7L331.4 455.6L331.9 455.4L332.4 455.3L332.9 455.2L333.4 455.0L333.9 454.8L334.4 454.7L334.9 454.5L335.4 454.4L335.9 454.2L336.4 454.0L336.9 453.9L337.4 453.7L337.9 453.5L338.4 453.3L338.9 453.1L339.4 453.0L339.9 452.8L340.4 452.6L340.9 452.4L341.4 452.2L341.9 452.0L342.4 451.8L342.9 451.6L343.4 451.4L343.9 451.2L344.4 450.9L344.9 450.7L345.4 450.5L345.9 450.3L346.4 450.0L346.9 449.8L347.4 449.6L347.9 449.3L348.4 449.1L348.9 448.9L349.4 448.6L349.9 448.4L350.4 448.1L350.9 447.9L351.4 447.6L351.9 447.4L352.4 447.1L352.9 446.8L353.4 446.6L353.9 446.3L354.4 446.0L354.9 445.8L355.4 445.5L355.9 445.2L356.4 444.9L356.9 444.6L357.4 444.4L357.9 444.1L358.4 443.8L358.9 443.5L359.4 443.2L359.9 442.9L360.4 442.6L360.9 442.3L361.4 442.0L361.9 441.7L362.4 441.4L362.9 441.1L363.4 440.8L363.9 440.4L364.4 440.1L364.9 439.8L365.4 439.5L365.9 439.2L366.4 438.9L366.9 438.6L367.4 438.2L367.9 437.9L368.4 437.6L368.9 437.3L369.4 436.9L369.9 436.6L370.4 436.3L370.9 436.0L371.4 435.6L371.9 435.3L372.4 435.0L372.9 434.7L373.4 434.3L373.9 434.0L374.4 433.7L374.9 433.3L375.4 433.0L375.9 432.7L376.4 432.4L376.9 432.0L377.4 431.7L377.9 431.4L378.4 431.1L378.9 430.8L379.4 430.4L379.9 430.1L380.4 429.8L380.9 429.5L381.4 429.2L381.9 428.9L382.4 428.6L382.9 428.3L383.4 427.9L383.9 427.6L384.4 427.3L384.9 427.0L385.4 426.7L385.9 426.5L386.4 426.2L386.9 425.9L387.4 425.6L387.9 425.3L388.4 425.0L388.9 424.8L389.4 424.5L389.9 424.2L390.4 423.9L390.9 423.7L391.4 423.4L391.9 423.2L392.4 422.9L392.9 422.7L393.4 422.4L393.9 422.2L394.4 422.0L394.9 421.7L395.4 421.5L395.9 421.3L396.4 421.1L396.9 420.9L397.4 420.7L397.9 420.5L398.4 420.3L398.9 420.1L399.4 419.9L399.9 419.7L400.4 419.6L400.9 419.4L401.4 419.2L401.9 419.1L402.4 418.9L402.9 418.8L403.4 418.7L403.9 418.5L404.4 418.4L404.9 418.3L405.4 418.2L405.9 418.1L406.4 418.0L406.9 417.9L407.4 417.8L407.9 417.7L408.4 417.6L408.9 417.5L409.4 417.5L409.9 417.4L410.4 417.4L410.9 417.3L411.4 417.3L411.9 417.3L412.4 417.2L412.9 417.2L413.4 417.2L413.9 417.2L414.4 417.2L414.9 417.2L415.4 417.2L415.9 417.3L416.4 417.3L416.9 417.3L417.4 417.4L417.9 417.4L418.4 417.5L418.9 417.6L419.4 417.7L419.9 417.8L420.4 417.9L420.9 418.0L421.4 418.1L421.9 418.2L422.4 418.3L422.9 418.5L423.4 418.6L423.9 418.8L424.4 418.9L424.9 419.1L425.4 419.2L425.9 419.4L426.4 419.6L426.9 419.8L427.4 420.0L427.9 420.2L428.4 420.4L428.9 420.6L429.4 420.9L429.9 421.1L430.4 421.3L430.9 421.6L431.4 421.8L431.9 422.1L432.4 422.3L432.9 422.6L433.4 422.9L433.9 423.2L434.4 423.4L434.9 423.7L435.4 424.0L435.9 424.3L436.4 424.6L436.9 424.9L437.4 425.2L437.9 425.5L438.4 425.8L438.9 426.2L439.4 426.5L439.9 426.8L440.4 427.1L440.9 427.5L441.4 427.8L441.9 428.1L442.4 428.5L442.9 428.8L443.4 429.2L443.9 429.5L444.4 429.9L444.9 430.2L445.4 430.6L445.9 430.9L446.4 431.3L446.9 431.6L447.4 432.0L447.9 432.4L448.4 432.7L448.9 433.1L449.4 433.4L449.9 433.8L450.4 434.2L450.9 434.5L451.4 434.9L451.9 435.2L452.4 435.6L452.9 436.0L453.4 436.3L453.9 436.7L454.4 437.0L454.9 437.4L455.4 437.8L455.9 438.1L456.4 438.5L456.9 438.8L457.4 439.2L457.9 439.5L458.4 439.9L458.9 440.2L459.4 440.6L459.9 440.9L460.4 441.3L460.9 441.6L461.4 441.9L461.9 442.3L462.4 442.6L462.9 442.9L463.4 443.3L463.9 443.6L464.4 443.9L464.9 444.2L465.4 444.6L465.9 444.9L466.4 445.2L466.9 445.5L467.4 445.8L467.9 446.1L468.4 446.4L468.9 446.7L469.4 447.0L469.9 447.3L470.4 447.6L470.9 447.9L471.4 448.1L471.9 448.4L472.4 448.7L472.9 449.0L473.4 449.2L473.9 449.5L474.4 449.7L474.9 450.0L475.4 450.2L475.9 450.5L476.4 450.7L476.9 451.0L477.4 451.2L477.9 451.5L478.4 451.7L478.9 451.9L479.4 452.1L479.9 452.4L480.4 452.6L480.9 452.8L481.4 453.0L481.9 453.2L482.4 453.4L482.9 453.6L483.4 453.8L483.9 454.0L484.4 454.2L484.9 454.4L485.4 454.5L485.9 454.7L486.4 454.9L486.9 455.1L487.4 455.2L487.9 455.4L488.4 455.5L488.9 455.7L489.4 455.9L489.9 456.0L490.4 456.2L490.9 456.3L491.4 456.4L491.9 456.6L492.4 456.7L492.9 456.9L493.4 457.0L493.9 457.1L494.4 457.2L494.9 457.4L495.4 457.5L495.9 457.6L496.4 457.7L496.9 457.8L497.4 457.9L497.9 458.0L498.4 458.1L498.9 458.2L499.4 458.3L499.9 458.4L500.4 458.5L500.9 458.6L501.4 458.7L501.9 458.8L502.4 458.9L502.9 458.9L503.4 459.0L503.9 459.1L504.4 459.2L504.9 459.2L505.4 459.3L505.9 459.4L506.4 459.4L506.9 459.5L507.4 459.6L507.9 459.6L508.4 459.7L508.9 459.8L509.4 459.8L509.9 459.9L510.4 459.9L510.9 460.0L511.4 460.0" stroke="#0a0a0a" stroke-width="2.1" stroke-dasharray="10 8.5"/>
<path d="M291.9 455.7L292.4 455.6L292.9 455.4L293.4 455.3L293.9 455.2L294.4 455.1L294.9 455.0L295.4 454.9L295.9 454.8L296.4 454.6L296.9 454.5L297.4 454.4L297.9 454.3L298.4 454.1L298.9 454.0L299.4 453.9L299.9 453.8L300.4 453.6L300.9 453.5L301.4 453.4L301.9 453.2L302.4 453.1L302.9 453.0L303.4 452.8L303.9 452.7L304.4 452.6L304.9 452.4L305.4 452.3L305.9 452.1L306.4 452.0L306.9 451.9L307.4 451.7L307.9 451.6L308.4 451.4L308.9 451.3L309.4 451.1L309.9 451.0L310.4 450.8L310.9 450.7L311.4 450.5L311.9 450.4L312.4 450.2L312.9 450.1L313.4 449.9L313.9 449.8L314.4 449.6L314.9 449.5L315.4 449.3L315.9 449.2L316.4 449.0L316.9 448.9L317.4 448.7L317.9 448.5L318.4 448.4L318.9 448.2L319.4 448.1L319.9 447.9L320.4 447.8L320.9 447.6L321.4 447.4L321.9 447.3L322.4 447.1L322.9 447.0L323.4 446.8L323.9 446.7L324.4 446.5L324.9 446.3L325.4 446.2L325.9 446.0L326.4 445.9L326.9 445.7L327.4 445.6L327.9 445.4L328.4 445.3L328.9 445.1L329.4 445.0L329.9 444.8L330.4 444.7L330.9 444.5L331.4 444.4L331.9 444.2L332.4 444.1L332.9 443.9L333.4 443.8L333.9 443.6L334.4 443.5L334.9 443.4L335.4 443.2L335.9 443.1L336.4 442.9L336.9 442.8L337.4 442.7L337.9 442.5L338.4 442.4L338.9 442.3L339.4 442.2L339.9 442.0L340.4 441.9L340.9 441.8L341.4 441.7L341.9 441.5L342.4 441.4L342.9 441.3L343.4 441.2L343.9 441.1L344.4 441.0L344.9 440.9L345.4 440.8L345.9 440.7L346.4 440.5L346.9 440.4L347.4 440.4L347.9 440.3L348.4 440.2L348.9 440.1L349.4 440.0L349.9 439.9L350.4 439.8L350.9 439.7L351.4 439.7L351.9 439.6L352.4 439.5L352.9 439.4L353.4 439.4L353.9 439.3L354.4 439.3L354.9 439.2L355.4 439.1L355.9 439.1L356.4 439.0L356.9 439.0L357.4 438.9L357.9 438.9L358.4 438.9L358.9 438.8L359.4 438.8L359.9 438.8L360.4 438.7L360.9 438.7L361.4 438.7L361.9 438.7L362.4 438.6L362.9 438.6L363.4 438.6L363.9 438.6L364.4 438.6L364.9 438.6L365.4 438.6L365.9 438.6L366.4 438.6L366.9 438.6L367.4 438.7L367.9 438.7L368.4 438.7L368.9 438.7L369.4 438.8L369.9 438.8L370.4 438.9L370.9 438.9L371.4 439.0L371.9 439.0L372.4 439.1L372.9 439.1L373.4 439.2L373.9 439.3L374.4 439.4L374.9 439.4L375.4 439.5L375.9 439.6L376.4 439.7L376.9 439.8L377.4 439.9L377.9 440.0L378.4 440.1L378.9 440.2L379.4 440.4L379.9 440.5L380.4 440.6L380.9 440.7L381.4 440.8L381.9 441.0L382.4 441.1L382.9 441.3L383.4 441.4L383.9 441.5L384.4 441.7L384.9 441.8L385.4 442.0L385.9 442.1L386.4 442.3L386.9 442.5L387.4 442.6L387.9 442.8L388.4 442.9L388.9 443.1L389.4 443.3L389.9 443.5L390.4 443.6L390.9 443.8L391.4 444.0L391.9 444.2L392.4 444.3L392.9 444.5L393.4 444.7L393.9 444.9L394.4 445.1L394.9 445.3L395.4 445.4L395.9 445.6L396.4 445.8L396.9 446.0L397.4 446.2L397.9 446.4L398.4 446.6L398.9 446.8L399.4 447.0L399.9 447.1L400.4 447.3L400.9 447.5L401.4 447.7L401.9 447.9L402.4 448.1L402.9 448.3L403.4 448.5L403.9 448.7L404.4 448.9L404.9 449.1L405.4 449.3L405.9 449.4L406.4 449.6L406.9 449.8L407.4 450.0L407.9 450.2L408.4 450.4L408.9 450.6L409.4 450.7L409.9 450.9L410.4 451.1L410.9 451.3L411.4 451.5L411.9 451.6L412.4 451.8L412.9 452.0L413.4 452.2L413.9 452.3L414.4 452.5L414.9 452.7L415.4 452.8L415.9 453.0L416.4 453.2L416.9 453.3L417.4 453.5L417.9 453.7L418.4 453.8L418.9 454.0L419.4 454.1L419.9 454.3L420.4 454.4L420.9 454.6L421.4 454.7L421.9 454.9L422.4 455.0L422.9 455.1L423.4 455.3L423.9 455.4L424.4 455.6L424.9 455.7L425.4 455.8L425.9 455.9L426.4 456.1L426.9 456.2L427.4 456.3L427.9 456.4L428.4 456.6L428.9 456.7L429.4 456.8L429.9 456.9L430.4 457.0L430.9 457.1L431.4 457.2L431.9 457.3L432.4 457.4L432.9 457.6L433.4 457.6L433.9 457.7L434.4 457.8L434.9 457.9L435.4 458.0L435.9 458.1L436.4 458.2L436.9 458.3L437.4 458.4L437.9 458.5L438.4 458.5L438.9 458.6L439.4 458.7L439.9 458.8L440.4 458.9L440.9 458.9L441.4 459.0L441.9 459.1L442.4 459.1L442.9 459.2L443.4 459.3L443.9 459.3L444.4 459.4L444.9 459.5L445.4 459.5L445.9 459.6L446.4 459.6L446.9 459.7L447.4 459.7L447.9 459.8L448.4 459.8L448.9 459.9L449.4 459.9L449.9 460.0L450.4 460.0L450.9 460.1L451.4 460.1L451.9 460.2L452.4 460.2L452.9 460.2L453.4 460.3L453.9 460.3L454.4 460.4L454.9 460.4L455.4 460.4L455.9 460.5L456.4 460.5L456.9 460.5L457.4 460.6L457.9 460.6L458.4 460.6L458.9 460.6L459.4 460.7L459.9 460.7L460.4 460.7L460.9 460.7L461.4 460.8L461.9 460.8L462.4 460.8L462.9 460.8L463.4 460.9L463.9 460.9L464.4 460.9L464.9 460.9L465.4 460.9L465.9 461.0L466.4 461.0L466.9 461.0L467.4 461.0L467.9 461.0L468.4 461.0L468.9 461.0L469.4 461.1L469.9 461.1L470.4 461.1L470.9 461.1L471.4 461.1L471.9 461.1L472.4 461.1L472.9 461.1L473.4 461.2L473.9 461.2L474.4 461.2L474.9 461.2L475.4 461.2L475.9 461.2L476.4 461.2L476.9 461.2L477.4 461.2L477.9 461.2L478.4 461.2L478.9 461.2L479.4 461.3L479.9 461.3L480.4 461.3L480.9 461.3L481.4 461.3L481.9 461.3L482.4 461.3L482.9 461.3L483.4 461.3L483.9 461.3L484.4 461.3L484.9 461.3L485.4 461.3L485.9 461.3L486.4 461.3L486.9 461.3L487.4 461.3L487.9 461.3L488.4 461.3L488.9 461.3L489.4 461.3L489.9 461.3L490.4 461.3L490.9 461.3L491.4 461.4L491.9 461.4L492.4 461.4L492.9 461.4L493.4 461.4L493.9 461.4L494.4 461.4L494.9 461.4L495.4 461.4L495.9 461.4L496.4 461.4L496.9 461.4L497.4 461.4L497.9 461.4L498.4 461.4L498.9 461.4L499.4 461.4L499.9 461.4L500.4 461.4L500.9 461.4L501.4 461.4L501.9 461.4L502.4 461.4L502.9 461.4L503.4 461.4L503.9 461.4L504.4 461.4L504.9 461.4L505.4 461.4L505.9 461.4L506.4 461.4L506.9 461.4L507.4 461.4L507.9 461.4L508.4 461.4L508.9 461.4L509.4 461.4L509.9 461.4L510.4 461.4L510.9 461.4L511.4 461.4" stroke="#3d6c9c" stroke-width="2.0" stroke-dasharray="8.5 8.5"/>
<path d="M291.9 461.4L292.4 461.4L292.9 461.4L293.4 461.4L293.9 461.4L294.4 461.4L294.9 461.4L295.4 461.4L295.9 461.4L296.4 461.4L296.9 461.4L297.4 461.4L297.9 461.4L298.4 461.4L298.9 461.4L299.4 461.4L299.9 461.4L300.4 461.4L300.9 461.4L301.4 461.4L301.9 461.4L302.4 461.4L302.9 461.3L303.4 461.3L303.9 461.3L304.4 461.3L304.9 461.3L305.4 461.3L305.9 461.3L306.4 461.3L306.9 461.3L307.4 461.3L307.9 461.3L308.4 461.3L308.9 461.3L309.4 461.3L309.9 461.3L310.4 461.2L310.9 461.2L311.4 461.2L311.9 461.2L312.4 461.2L312.9 461.2L313.4 461.2L313.9 461.2L314.4 461.1L314.9 461.1L315.4 461.1L315.9 461.1L316.4 461.1L316.9 461.1L317.4 461.0L317.9 461.0L318.4 461.0L318.9 461.0L319.4 460.9L319.9 460.9L320.4 460.9L320.9 460.9L321.4 460.8L321.9 460.8L322.4 460.8L322.9 460.7L323.4 460.7L323.9 460.6L324.4 460.6L324.9 460.5L325.4 460.5L325.9 460.5L326.4 460.4L326.9 460.3L327.4 460.3L327.9 460.2L328.4 460.2L328.9 460.1L329.4 460.0L329.9 460.0L330.4 459.9L330.9 459.8L331.4 459.7L331.9 459.7L332.4 459.6L332.9 459.5L333.4 459.4L333.9 459.3L334.4 459.2L334.9 459.1L335.4 459.0L335.9 458.9L336.4 458.7L336.9 458.6L337.4 458.5L337.9 458.4L338.4 458.2L338.9 458.1L339.4 457.9L339.9 457.8L340.4 457.6L340.9 457.5L341.4 457.3L341.9 457.1L342.4 457.0L342.9 456.8L343.4 456.6L343.9 456.4L344.4 456.2L344.9 456.0L345.4 455.8L345.9 455.6L346.4 455.4L346.9 455.1L347.4 454.9L347.9 454.7L348.4 454.4L348.9 454.2L349.4 453.9L349.9 453.7L350.4 453.4L350.9 453.1L351.4 452.9L351.9 452.6L352.4 452.3L352.9 452.0L353.4 451.7L353.9 451.4L354.4 451.1L354.9 450.8L355.4 450.4L355.9 450.1L356.4 449.8L356.9 449.4L357.4 449.1L357.9 448.7L358.4 448.4L358.9 448.0L359.4 447.7L359.9 447.3L360.4 446.9L360.9 446.6L361.4 446.2L361.9 445.8L362.4 445.4L362.9 445.0L363.4 444.6L363.9 444.2L364.4 443.9L364.9 443.5L365.4 443.1L365.9 442.7L366.4 442.3L366.9 441.9L367.4 441.5L367.9 441.1L368.4 440.7L368.9 440.3L369.4 439.9L369.9 439.5L370.4 439.1L370.9 438.7L371.4 438.3L371.9 437.9L372.4 437.5L372.9 437.1L373.4 436.8L373.9 436.4L374.4 436.0L374.9 435.6L375.4 435.3L375.9 434.9L376.4 434.6L376.9 434.2L377.4 433.9L377.9 433.6L378.4 433.3L378.9 432.9L379.4 432.6L379.9 432.3L380.4 432.0L380.9 431.8L381.4 431.5L381.9 431.2L382.4 431.0L382.9 430.7L383.4 430.5L383.9 430.3L384.4 430.1L384.9 429.9L385.4 429.7L385.9 429.5L386.4 429.4L386.9 429.2L387.4 429.1L387.9 429.0L388.4 428.8L388.9 428.7L389.4 428.7L389.9 428.6L390.4 428.5L390.9 428.5L391.4 428.4L391.9 428.4L392.4 428.4L392.9 428.4L393.4 428.4L393.9 428.5L394.4 428.5L394.9 428.6L395.4 428.7L395.9 428.8L396.4 428.9L396.9 429.1L397.4 429.2L397.9 429.4L398.4 429.6L398.9 429.8L399.4 430.0L399.9 430.2L400.4 430.5L400.9 430.7L401.4 431.0L401.9 431.3L402.4 431.6L402.9 431.9L403.4 432.2L403.9 432.5L404.4 432.9L404.9 433.2L405.4 433.6L405.9 434.0L406.4 434.4L406.9 434.8L407.4 435.2L407.9 435.6L408.4 436.0L408.9 436.4L409.4 436.8L409.9 437.3L410.4 437.7L410.9 438.1L411.4 438.6L411.9 439.0L412.4 439.5L412.9 439.9L413.4 440.4L413.9 440.8L414.4 441.3L414.9 441.7L415.4 442.2L415.9 442.7L416.4 443.1L416.9 443.6L417.4 444.0L417.9 444.5L418.4 444.9L418.9 445.3L419.4 445.8L419.9 446.2L420.4 446.6L420.9 447.1L421.4 447.5L421.9 447.9L422.4 448.3L422.9 448.7L423.4 449.1L423.9 449.5L424.4 449.9L424.9 450.2L425.4 450.6L425.9 451.0L426.4 451.3L426.9 451.7L427.4 452.0L427.9 452.4L428.4 452.7L428.9 453.0L429.4 453.3L429.9 453.6L430.4 453.9L430.9 454.2L431.4 454.5L431.9 454.8L432.4 455.0L432.9 455.3L433.4 455.5L433.9 455.8L434.4 456.0L434.9 456.2L435.4 456.5L435.9 456.7L436.4 456.9L436.9 457.1L437.4 457.3L437.9 457.5L438.4 457.7L438.9 457.8L439.4 458.0L439.9 458.2L440.4 458.3L440.9 458.5L441.4 458.6L441.9 458.7L442.4 458.9L442.9 459.0L443.4 459.1L443.9 459.2L444.4 459.4L444.9 459.5L445.4 459.6L445.9 459.7L446.4 459.8L446.9 459.8L447.4 459.9L447.9 460.0L448.4 460.1L448.9 460.2L449.4 460.2L449.9 460.3L450.4 460.4L450.9 460.4L451.4 460.5L451.9 460.5L452.4 460.6L452.9 460.6L453.4 460.7L453.9 460.7L454.4 460.8L454.9 460.8L455.4 460.8L455.9 460.9L456.4 460.9L456.9 460.9L457.4 461.0L457.9 461.0L458.4 461.0L458.9 461.1L459.4 461.1L459.9 461.1L460.4 461.1L460.9 461.1L461.4 461.2L461.9 461.2L462.4 461.2L462.9 461.2L463.4 461.2L463.9 461.2L464.4 461.2L464.9 461.3L465.4 461.3L465.9 461.3L466.4 461.3L466.9 461.3L467.4 461.3L467.9 461.3L468.4 461.3L468.9 461.3L469.4 461.3L469.9 461.3L470.4 461.3L470.9 461.3L471.4 461.3L471.9 461.4L472.4 461.4L472.9 461.4L473.4 461.4L473.9 461.4L474.4 461.4L474.9 461.4L475.4 461.4L475.9 461.4L476.4 461.4L476.9 461.4L477.4 461.4L477.9 461.4L478.4 461.4L478.9 461.4L479.4 461.4L479.9 461.4L480.4 461.4L480.9 461.4L481.4 461.4L481.9 461.4L482.4 461.4L482.9 461.4L483.4 461.4L483.9 461.4L484.4 461.4L484.9 461.4L485.4 461.4L485.9 461.4L486.4 461.4L486.9 461.4L487.4 461.4L487.9 461.4L488.4 461.4L488.9 461.4L489.4 461.4L489.9 461.4L490.4 461.4L490.9 461.4L491.4 461.4L491.9 461.4L492.4 461.4L492.9 461.4L493.4 461.4L493.9 461.4L494.4 461.4L494.9 461.4L495.4 461.4L495.9 461.4L496.4 461.4L496.9 461.4L497.4 461.4L497.9 461.4L498.4 461.4L498.9 461.4L499.4 461.4L499.9 461.4L500.4 461.4L500.9 461.4L501.4 461.4L501.9 461.4L502.4 461.4L502.9 461.4L503.4 461.4L503.9 461.4L504.4 461.4L504.9 461.4L505.4 461.4L505.9 461.4L506.4 461.4L506.9 461.4L507.4 461.4L507.9 461.4L508.4 461.4L508.9 461.4L509.4 461.4L509.9 461.4L510.4 461.4L510.9 461.4L511.4 461.4" stroke="#ff1010" stroke-width="2.0" stroke-dasharray="5 3.6" stroke-linecap="round"/>
<path d="M291.9 461.4L292.4 461.4L292.9 461.4L293.4 461.4L293.9 461.4L294.4 461.4L294.9 461.4L295.4 461.4L295.9 461.4L296.4 461.4L296.9 461.4L297.4 461.4L297.9 461.4L298.4 461.4L298.9 461.4L299.4 461.4L299.9 461.4L300.4 461.4L300.9 461.4L301.4 461.4L301.9 461.4L302.4 461.4L302.9 461.4L303.4 461.4L303.9 461.4L304.4 461.4L304.9 461.4L305.4 461.4L305.9 461.4L306.4 461.4L306.9 461.4L307.4 461.4L307.9 461.4L308.4 461.4L308.9 461.4L309.4 461.4L309.9 461.4L310.4 461.4L310.9 461.4L311.4 461.4L311.9 461.4L312.4 461.4L312.9 461.4L313.4 461.4L313.9 461.4L314.4 461.4L314.9 461.4L315.4 461.4L315.9 461.4L316.4 461.4L316.9 461.4L317.4 461.4L317.9 461.4L318.4 461.4L318.9 461.4L319.4 461.4L319.9 461.4L320.4 461.4L320.9 461.4L321.4 461.4L321.9 461.4L322.4 461.4L322.9 461.4L323.4 461.4L323.9 461.4L324.4 461.4L324.9 461.4L325.4 461.4L325.9 461.4L326.4 461.4L326.9 461.4L327.4 461.4L327.9 461.4L328.4 461.4L328.9 461.4L329.4 461.4L329.9 461.4L330.4 461.4L330.9 461.4L331.4 461.4L331.9 461.4L332.4 461.4L332.9 461.4L333.4 461.4L333.9 461.4L334.4 461.4L334.9 461.4L335.4 461.4L335.9 461.4L336.4 461.4L336.9 461.4L337.4 461.4L337.9 461.4L338.4 461.4L338.9 461.4L339.4 461.4L339.9 461.4L340.4 461.4L340.9 461.4L341.4 461.4L341.9 461.4L342.4 461.4L342.9 461.4L343.4 461.4L343.9 461.4L344.4 461.4L344.9 461.4L345.4 461.4L345.9 461.4L346.4 461.4L346.9 461.4L347.4 461.4L347.9 461.4L348.4 461.4L348.9 461.4L349.4 461.4L349.9 461.4L350.4 461.4L350.9 461.4L351.4 461.4L351.9 461.4L352.4 461.4L352.9 461.4L353.4 461.4L353.9 461.4L354.4 461.4L354.9 461.4L355.4 461.4L355.9 461.4L356.4 461.4L356.9 461.4L357.4 461.4L357.9 461.4L358.4 461.4L358.9 461.4L359.4 461.4L359.9 461.4L360.4 461.4L360.9 461.4L361.4 461.4L361.9 461.4L362.4 461.4L362.9 461.4L363.4 461.4L363.9 461.4L364.4 461.4L364.9 461.4L365.4 461.4L365.9 461.4L366.4 461.4L366.9 461.4L367.4 461.4L367.9 461.4L368.4 461.4L368.9 461.4L369.4 461.4L369.9 461.4L370.4 461.4L370.9 461.4L371.4 461.4L371.9 461.4L372.4 461.4L372.9 461.4L373.4 461.4L373.9 461.4L374.4 461.4L374.9 461.4L375.4 461.4L375.9 461.4L376.4 461.4L376.9 461.4L377.4 461.4L377.9 461.4L378.4 461.4L378.9 461.4L379.4 461.4L379.9 461.4L380.4 461.4L380.9 461.4L381.4 461.4L381.9 461.4L382.4 461.4L382.9 461.4L383.4 461.4L383.9 461.4L384.4 461.4L384.9 461.4L385.4 461.4L385.9 461.4L386.4 461.4L386.9 461.4L387.4 461.4L387.9 461.4L388.4 461.4L388.9 461.4L389.4 461.4L389.9 461.3L390.4 461.3L390.9 461.2L391.4 461.2L391.9 461.0L392.4 460.9L392.9 460.7L393.4 460.4L393.9 460.0L394.4 459.4L394.9 458.7L395.4 457.8L395.9 456.6L396.4 455.2L396.9 453.5L397.4 451.3L397.9 448.8L398.4 445.9L398.9 442.5L399.4 438.7L399.9 434.6L400.4 430.1L400.9 425.3L401.4 420.3L401.9 415.3L402.4 410.4L402.9 405.7L403.4 401.4L403.9 397.7L404.4 394.6L404.9 392.3L405.4 390.9L405.9 390.4L406.4 390.8L406.9 392.1L407.4 394.2L407.9 397.1L408.4 400.6L408.9 404.5L409.4 408.9L409.9 413.6L410.4 418.3L410.9 423.1L411.4 427.8L411.9 432.2L412.4 436.4L412.9 440.2L413.4 443.7L413.9 446.8L414.4 449.5L414.9 451.8L415.4 453.8L415.9 455.4L416.4 456.7L416.9 457.8L417.4 458.7L417.9 459.4L418.4 459.9L418.9 460.3L419.4 460.6L419.9 460.8L420.4 461.0L420.9 461.1L421.4 461.2L421.9 461.3L422.4 461.3L422.9 461.3L423.4 461.4L423.9 461.4L424.4 461.4L424.9 461.4L425.4 461.4L425.9 461.4L426.4 461.4L426.9 461.4L427.4 461.4L427.9 461.4L428.4 461.4L428.9 461.4L429.4 461.4L429.9 461.4L430.4 461.4L430.9 461.4L431.4 461.4L431.9 461.4L432.4 461.4L432.9 461.4L433.4 461.4L433.9 461.4L434.4 461.4L434.9 461.4L435.4 461.4L435.9 461.4L436.4 461.4L436.9 461.4L437.4 461.4L437.9 461.4L438.4 461.4L438.9 461.4L439.4 461.4L439.9 461.4L440.4 461.4L440.9 461.4L441.4 461.4L441.9 461.4L442.4 461.4L442.9 461.4L443.4 461.4L443.9 461.4L444.4 461.4L444.9 461.4L445.4 461.4L445.9 461.4L446.4 461.4L446.9 461.4L447.4 461.4L447.9 461.4L448.4 461.4L448.9 461.4L449.4 461.4L449.9 461.4L450.4 461.4L450.9 461.4L451.4 461.4L451.9 461.4L452.4 461.4L452.9 461.4L453.4 461.4L453.9 461.4L454.4 461.4L454.9 461.4L455.4 461.4L455.9 461.4L456.4 461.4L456.9 461.4L457.4 461.4L457.9 461.4L458.4 461.4L458.9 461.4L459.4 461.4L459.9 461.4L460.4 461.4L460.9 461.4L461.4 461.4L461.9 461.4L462.4 461.4L462.9 461.4L463.4 461.4L463.9 461.4L464.4 461.4L464.9 461.4L465.4 461.4L465.9 461.4L466.4 461.4L466.9 461.4L467.4 461.4L467.9 461.4L468.4 461.4L468.9 461.4L469.4 461.4L469.9 461.4L470.4 461.4L470.9 461.4L471.4 461.4L471.9 461.4L472.4 461.4L472.9 461.4L473.4 461.4L473.9 461.4L474.4 461.4L474.9 461.4L475.4 461.4L475.9 461.4L476.4 461.4L476.9 461.4L477.4 461.4L477.9 461.4L478.4 461.4L478.9 461.4L479.4 461.4L479.9 461.4L480.4 461.4L480.9 461.4L481.4 461.4L481.9 461.4L482.4 461.4L482.9 461.4L483.4 461.4L483.9 461.4L484.4 461.4L484.9 461.4L485.4 461.4L485.9 461.4L486.4 461.4L486.9 461.4L487.4 461.4L487.9 461.4L488.4 461.4L488.9 461.4L489.4 461.4L489.9 461.4L490.4 461.4L490.9 461.4L491.4 461.4L491.9 461.4L492.4 461.4L492.9 461.4L493.4 461.4L493.9 461.4L494.4 461.4L494.9 461.4L495.4 461.4L495.9 461.4L496.4 461.4L496.9 461.4L497.4 461.4L497.9 461.4L498.4 461.4L498.9 461.4L499.4 461.4L499.9 461.4L500.4 461.4L500.9 461.4L501.4 461.4L501.9 461.4L502.4 461.4L502.9 461.4L503.4 461.4L503.9 461.4L504.4 461.4L504.9 461.4L505.4 461.4L505.9 461.4L506.4 461.4L506.9 461.4L507.4 461.4L507.9 461.4L508.4 461.4L508.9 461.4L509.4 461.4L509.9 461.4L510.4 461.4L510.9 461.4L511.4 461.4" stroke="#17365d" stroke-width="2.0" stroke-dasharray="5.6 3.8"/>
<path d="M403.7 314.5L403.4 316.6L402.9 320.5L402.4 324.7M401.3 334.9L400.9 338.7L400.4 343.2L400.2 345.2M398.8 355.4L398.4 358.1L397.9 360.9L397.4 363.2L396.9 365.2L396.8 365.5M390.7 373.1L390.4 373.2L389.9 373.4L389.4 373.6L388.9 373.8L388.4 374.0L387.9 374.2L387.4 374.5L386.9 374.7L386.4 375.0L385.9 375.3L385.4 375.6L384.9 376.0L384.4 376.3L383.9 376.7L383.4 377.1L382.9 377.4L382.4 377.9L381.9 378.3L381.9 378.3M374.8 385.8L374.4 386.2L373.9 386.9L373.4 387.5L372.9 388.1L372.4 388.8L371.9 389.4L371.4 390.1L370.9 390.7L370.4 391.4L369.9 392.1L369.4 392.8L368.9 393.5L368.6 393.9M362.6 402.3L362.4 402.6L361.9 403.3L361.4 404.0L360.9 404.7L360.4 405.4L359.9 406.1L359.4 406.8L358.9 407.5L358.4 408.2L357.9 408.9L357.4 409.6L356.9 410.3L356.6 410.7M350.2 418.8L349.9 419.2L349.4 419.7L348.9 420.3L348.4 420.9L347.9 421.5L347.4 422.1L346.9 422.6L346.4 423.2L345.9 423.7L345.4 424.3L344.9 424.8L344.4 425.3L343.9 425.8L343.4 426.4L343.3 426.4M335.8 433.4L335.4 433.7L334.9 434.2L334.4 434.6L333.9 435.0L333.4 435.4L332.9 435.8L332.4 436.1L331.9 436.5L331.4 436.9L330.9 437.3L330.4 437.6L329.9 438.0L329.4 438.3L328.9 438.7L328.4 439.0L327.9 439.4L327.5 439.6M318.7 444.9L318.4 445.1L317.9 445.3L317.4 445.6L316.9 445.8L316.4 446.1L315.9 446.3L315.4 446.6L314.9 446.8L314.4 447.1L313.9 447.3L313.4 447.5L312.9 447.8L312.4 448.0L311.9 448.2L311.4 448.4L310.9 448.7L310.4 448.9L309.9 449.1L309.4 449.3L309.4 449.3M299.7 452.9L299.4 453.0L298.9 453.1L298.4 453.3L297.9 453.4L297.4 453.6L296.9 453.7L296.4 453.9L295.9 454.0L295.4 454.2L294.9 454.3L294.4 454.5L293.9 454.6L293.4 454.7L292.9 454.9L292.4 455.0L291.9 455.1M407.0 311.0L407.4 313.0L407.9 316.3L408.4 320.3L408.5 321.2M409.6 331.4L409.9 335.0L410.4 340.3L410.5 341.7M411.5 351.9L411.9 355.9L412.4 360.7L412.6 362.2M413.8 372.4L413.9 373.0L414.4 376.3L414.9 379.2L415.4 381.8L415.6 382.5M418.6 392.4L418.9 393.0L419.4 394.0L419.9 394.9L420.4 395.7L420.9 396.5L421.4 397.3L421.9 398.0L422.4 398.7L422.9 399.4L423.4 400.1L423.9 400.8L424.1 401.1M430.3 409.3L430.4 409.5L430.9 410.1L431.4 410.8L431.9 411.4L432.4 412.0L432.9 412.6L433.4 413.3L433.9 413.9L434.4 414.5L434.9 415.1L435.4 415.7L435.9 416.3L436.4 416.9L436.7 417.3M443.6 425.0L443.9 425.3L444.4 425.8L444.9 426.3L445.4 426.9L445.9 427.4L446.4 427.9L446.9 428.4L447.4 428.9L447.9 429.4L448.4 429.8L448.9 430.3L449.4 430.8L449.9 431.3L450.4 431.8L450.9 432.2L450.9 432.2M458.7 439.0L458.9 439.1L459.4 439.5L459.9 439.9L460.4 440.3L460.9 440.7L461.4 441.1L461.9 441.4L462.4 441.8L462.9 442.2L463.4 442.5L463.9 442.9L464.4 443.3L464.9 443.6L465.4 444.0L465.9 444.3L466.4 444.6L466.9 445.0L467.0 445.0M475.9 450.3L475.9 450.3L476.4 450.5L476.9 450.8L477.4 451.0L477.9 451.3L478.4 451.5L478.9 451.7L479.4 452.0L479.9 452.2L480.4 452.4L480.9 452.6L481.4 452.9L481.9 453.1L482.4 453.3L482.9 453.5L483.4 453.7L483.9 453.9L484.4 454.1L484.9 454.3L485.3 454.4M495.2 457.4L495.4 457.4L495.9 457.6L496.4 457.7L496.9 457.8L497.4 457.9L497.9 458.0L498.4 458.1L498.9 458.2L499.4 458.3L499.9 458.4L500.4 458.5L500.9 458.6L501.4 458.7L501.9 458.8L502.4 458.8L502.9 458.9L503.4 459.0L503.9 459.1L504.4 459.2L504.9 459.2L505.3 459.3" stroke="#c81c1c" stroke-width="3"/>
<defs><path id="gp-d" d="M291.9 457.8L292.4 454.9L293.0 454.3L293.6 453.2L294.1 456.8L294.7 452.5L295.2 452.8L295.8 456.3L296.3 457.6L296.9 457.5L297.4 455.9L298.0 450.8L298.5 449.8L299.1 453.3L299.6 454.2L300.2 448.2L300.7 448.4L301.3 453.2L301.8 452.8L302.4 452.8L302.9 451.4L303.5 448.9L304.0 451.0L304.6 450.1L305.1 448.9L305.7 448.0L306.2 451.1L306.8 451.0L307.3 445.0L307.9 448.4L308.4 449.4L309.0 447.9L309.5 450.0L310.1 450.1L310.6 444.4L311.2 443.4L311.7 449.6L312.3 448.4L312.8 450.7L313.4 452.3L313.9 448.2L314.5 442.6L315.0 445.3L315.6 442.3L316.1 447.3L316.7 446.1L317.2 444.9L317.8 444.7L318.3 442.0L318.9 442.0L319.4 445.1L320.0 448.0L320.5 446.3L321.1 443.8L321.6 444.4L322.2 447.3L322.7 448.6L323.3 441.3L323.8 440.1L324.4 442.7L324.9 440.2L325.5 438.8L326.0 440.4L326.6 441.3L327.1 436.6L327.7 435.6L328.2 433.8L328.8 434.1L329.3 436.3L329.9 438.7L330.4 438.7L331.0 438.9L331.5 436.8L332.1 435.3L332.6 431.9L333.2 430.0L333.7 433.4L334.3 433.1L334.8 437.0L335.4 436.6L335.9 436.9L336.5 433.2L337.0 433.5L337.6 434.4L338.1 431.9L338.7 436.4L339.2 432.3L339.8 428.2L340.3 424.7L340.9 430.9L341.4 430.6L342.0 434.4L342.5 424.9L343.1 425.6L343.6 425.3L344.2 429.9L344.7 427.2L345.3 426.4L345.8 428.2L346.4 428.1L346.9 426.8L347.5 425.7L348.0 428.0L348.6 418.1L349.1 418.5L349.7 418.9L350.2 418.2L350.8 418.8L351.3 418.1L351.9 415.1L352.4 416.6L353.0 411.5L353.5 414.2L354.1 410.5L354.6 415.3L355.2 412.8L355.7 409.3L356.3 405.9L356.8 404.3L357.4 411.7L357.9 412.5L358.5 403.6L359.0 407.1L359.6 412.7L360.1 403.9L360.7 401.8L361.2 408.1L361.8 407.3L362.3 399.0L362.9 402.3L363.4 404.0L364.0 402.8L364.5 395.6L365.1 403.6L365.6 399.2L366.2 396.9L366.7 395.2L367.3 393.1L367.8 394.6L368.4 392.6L368.9 391.7L369.5 387.4L370.0 399.3L370.6 395.1L371.1 390.8L371.7 395.2L372.2 385.8L372.8 384.8L373.3 393.6L373.9 390.3L374.4 384.0L375.0 384.3L375.5 387.6L376.1 382.8L376.6 381.5L377.2 386.0L377.7 384.3L378.3 376.7L378.8 374.4L379.4 382.3L379.9 383.1L380.5 373.7L381.0 373.2L381.6 375.4L382.1 376.4L382.7 373.5L383.2 368.6L383.8 379.7L384.3 370.0L384.9 372.0L385.4 375.4L386.0 373.0L386.5 373.9L387.1 374.3L387.6 370.4L388.2 371.4L388.7 366.9L389.3 375.7L389.8 370.2L390.4 375.3L390.9 372.7L391.5 372.9L392.0 368.6L392.6 375.2L393.1 372.7L393.7 365.3L394.2 364.2L394.8 369.3L395.3 366.7L395.9 363.5L396.4 363.6L397.0 360.4L397.5 358.3L398.1 364.7L398.6 356.6L399.2 343.6L399.7 346.7L400.3 344.9L400.8 339.2L401.4 335.4L401.9 329.7L402.5 323.7L403.0 315.1L403.6 311.9L404.1 306.7L404.7 303.2L405.2 302.2L405.8 302.5L406.3 305.3L406.9 305.8L407.4 311.0L408.0 318.1L408.5 321.4L409.1 322.0L409.6 329.4L410.2 337.0L410.7 342.4L411.3 349.5L411.8 357.4L412.4 357.1L412.9 372.8L413.5 373.9L414.0 376.4L414.6 378.3L415.1 382.4L415.7 379.5L416.2 378.2L416.8 384.5L417.3 392.8L417.9 394.2L418.4 393.5L419.0 396.2L419.5 399.2L420.1 389.7L420.6 389.9L421.2 398.8L421.7 401.7L422.3 398.9L422.8 401.2L423.4 398.3L423.9 396.7L424.5 400.0L425.0 405.2L425.6 404.9L426.1 409.7L426.7 407.4L427.2 398.7L427.8 405.4L428.3 404.5L428.9 401.9L429.4 400.5L430.0 411.3L430.5 411.4L431.1 412.1L431.6 406.4L432.2 405.8L432.7 414.4L433.3 415.8L433.8 412.7L434.4 406.5L434.9 413.6L435.5 411.5L436.0 417.5L436.6 421.8L437.1 415.9L437.7 419.6L438.2 424.7L438.8 416.8L439.3 416.4L439.9 424.1L440.4 419.7L441.0 419.3L441.5 420.0L442.1 425.8L442.6 426.0L443.2 431.5L443.7 433.9L444.3 425.0L444.8 426.5L445.4 426.2L445.9 427.5L446.5 429.4L447.0 430.3L447.6 427.6L448.1 429.4L448.7 434.8L449.2 428.3L449.8 425.3L450.3 427.5L450.9 426.5L451.4 430.2L452.0 432.5L452.5 429.8L453.1 431.0L453.6 437.3L454.2 436.5L454.7 435.1L455.3 429.1L455.8 433.9L456.4 438.9L456.9 441.0L457.5 439.1L458.0 440.0L458.6 439.4L459.1 441.9L459.7 444.9L460.2 442.1L460.8 439.5L461.3 440.0L461.9 445.2L462.4 443.7L463.0 440.0L463.5 440.8L464.1 444.2L464.6 444.9L465.2 445.1L465.7 443.7L466.3 445.0L466.8 443.7L467.4 444.1L467.9 444.7L468.5 443.4L469.0 443.1L469.6 446.7L470.1 447.8L470.7 444.9L471.2 447.3L471.8 451.1L472.3 450.5L472.9 451.5L473.4 449.6L474.0 448.7L474.5 445.8L475.1 447.3L475.6 447.9L476.2 445.9L476.7 447.3L477.3 452.2L477.8 451.8L478.4 452.8L478.9 452.4L479.5 449.0L480.0 444.1L480.6 447.9L481.1 451.2L481.7 454.1L482.2 452.8L482.8 449.2L483.3 453.9L483.9 453.1L484.4 451.5L485.0 451.1L485.5 447.9L486.1 452.5L486.6 453.9L487.2 456.8L487.7 456.7L488.3 457.5L488.8 455.7L489.4 454.4L489.9 453.8L490.5 453.5L491.0 456.4L491.6 458.6L492.1 459.1L492.7 457.7L493.2 457.7L493.8 459.5L494.3 456.8L494.9 459.0L495.4 458.1L496.0 458.5L496.5 457.0L497.1 456.2L497.6 459.1L498.2 457.4L498.7 453.4L499.3 455.6L499.8 459.9L500.4 454.4L500.9 458.6L501.5 457.5L502.0 460.0L502.6 457.7L503.1 458.4L503.7 457.7L504.2 457.9L504.8 461.6L505.3 463.0L505.9 461.7L506.4 457.9L507.0 457.9L507.5 456.6L508.1 456.1L508.6 455.3L509.2 460.1L509.7 462.3L510.3 462.3L510.8 457.7L511.4 459.5"/></defs>
<use href="#gp-d" fill="none" stroke="#45c685" stroke-width="1.65"/>
<mask id="gm-d" maskUnits="userSpaceOnUse" x="291.9" y="257.3" width="219.7" height="208.5"><use href="#gp-d" fill="none" stroke="#fff" stroke-width="1.65" stroke-linejoin="round"/></mask>
<path d="M403.7 314.5L403.4 316.6L402.9 320.5L402.4 324.7M401.3 334.9L400.9 338.7L400.4 343.2L400.2 345.2M398.8 355.4L398.4 358.1L397.9 360.9L397.4 363.2L396.9 365.2L396.8 365.5M390.7 373.1L390.4 373.2L389.9 373.4L389.4 373.6L388.9 373.8L388.4 374.0L387.9 374.2L387.4 374.5L386.9 374.7L386.4 375.0L385.9 375.3L385.4 375.6L384.9 376.0L384.4 376.3L383.9 376.7L383.4 377.1L382.9 377.4L382.4 377.9L381.9 378.3L381.9 378.3M374.8 385.8L374.4 386.2L373.9 386.9L373.4 387.5L372.9 388.1L372.4 388.8L371.9 389.4L371.4 390.1L370.9 390.7L370.4 391.4L369.9 392.1L369.4 392.8L368.9 393.5L368.6 393.9M362.6 402.3L362.4 402.6L361.9 403.3L361.4 404.0L360.9 404.7L360.4 405.4L359.9 406.1L359.4 406.8L358.9 407.5L358.4 408.2L357.9 408.9L357.4 409.6L356.9 410.3L356.6 410.7M350.2 418.8L349.9 419.2L349.4 419.7L348.9 420.3L348.4 420.9L347.9 421.5L347.4 422.1L346.9 422.6L346.4 423.2L345.9 423.7L345.4 424.3L344.9 424.8L344.4 425.3L343.9 425.8L343.4 426.4L343.3 426.4M335.8 433.4L335.4 433.7L334.9 434.2L334.4 434.6L333.9 435.0L333.4 435.4L332.9 435.8L332.4 436.1L331.9 436.5L331.4 436.9L330.9 437.3L330.4 437.6L329.9 438.0L329.4 438.3L328.9 438.7L328.4 439.0L327.9 439.4L327.5 439.6M318.7 444.9L318.4 445.1L317.9 445.3L317.4 445.6L316.9 445.8L316.4 446.1L315.9 446.3L315.4 446.6L314.9 446.8L314.4 447.1L313.9 447.3L313.4 447.5L312.9 447.8L312.4 448.0L311.9 448.2L311.4 448.4L310.9 448.7L310.4 448.9L309.9 449.1L309.4 449.3L309.4 449.3M299.7 452.9L299.4 453.0L298.9 453.1L298.4 453.3L297.9 453.4L297.4 453.6L296.9 453.7L296.4 453.9L295.9 454.0L295.4 454.2L294.9 454.3L294.4 454.5L293.9 454.6L293.4 454.7L292.9 454.9L292.4 455.0L291.9 455.1M407.0 311.0L407.4 313.0L407.9 316.3L408.4 320.3L408.5 321.2M409.6 331.4L409.9 335.0L410.4 340.3L410.5 341.7M411.5 351.9L411.9 355.9L412.4 360.7L412.6 362.2M413.8 372.4L413.9 373.0L414.4 376.3L414.9 379.2L415.4 381.8L415.6 382.5M418.6 392.4L418.9 393.0L419.4 394.0L419.9 394.9L420.4 395.7L420.9 396.5L421.4 397.3L421.9 398.0L422.4 398.7L422.9 399.4L423.4 400.1L423.9 400.8L424.1 401.1M430.3 409.3L430.4 409.5L430.9 410.1L431.4 410.8L431.9 411.4L432.4 412.0L432.9 412.6L433.4 413.3L433.9 413.9L434.4 414.5L434.9 415.1L435.4 415.7L435.9 416.3L436.4 416.9L436.7 417.3M443.6 425.0L443.9 425.3L444.4 425.8L444.9 426.3L445.4 426.9L445.9 427.4L446.4 427.9L446.9 428.4L447.4 428.9L447.9 429.4L448.4 429.8L448.9 430.3L449.4 430.8L449.9 431.3L450.4 431.8L450.9 432.2L450.9 432.2M458.7 439.0L458.9 439.1L459.4 439.5L459.9 439.9L460.4 440.3L460.9 440.7L461.4 441.1L461.9 441.4L462.4 441.8L462.9 442.2L463.4 442.5L463.9 442.9L464.4 443.3L464.9 443.6L465.4 444.0L465.9 444.3L466.4 444.6L466.9 445.0L467.0 445.0M475.9 450.3L475.9 450.3L476.4 450.5L476.9 450.8L477.4 451.0L477.9 451.3L478.4 451.5L478.9 451.7L479.4 452.0L479.9 452.2L480.4 452.4L480.9 452.6L481.4 452.9L481.9 453.1L482.4 453.3L482.9 453.5L483.4 453.7L483.9 453.9L484.4 454.1L484.9 454.3L485.3 454.4M495.2 457.4L495.4 457.4L495.9 457.6L496.4 457.7L496.9 457.8L497.4 457.9L497.9 458.0L498.4 458.1L498.9 458.2L499.4 458.3L499.9 458.4L500.4 458.5L500.9 458.6L501.4 458.7L501.9 458.8L502.4 458.8L502.9 458.9L503.4 459.0L503.9 459.1L504.4 459.2L504.9 459.2L505.3 459.3" stroke="#55612b" stroke-width="2.1" mask="url(#gm-d)"/>
</g>
<path d="M291.9 257.3L511.6 257.3L511.6 468.2" fill="none" stroke="#151515" stroke-width="1.3"/>
<path d="M291.9 256.65000000000003L291.9 468.2" fill="none" stroke="#0a0a0a" stroke-width="1.8"/>
<path d="M291.09999999999997 464.8L512.2 464.8" fill="none" stroke="#1c1c1c" stroke-width="1.15"/>
<path d="M291.9 464.8L291.9 469.0M319.4 464.8L319.4 467.6M346.8 464.8L346.8 469.0M374.3 464.8L374.3 467.6M401.8 464.8L401.8 469.0M429.2 464.8L429.2 467.6M456.7 464.8L456.7 469.0M484.1 464.8L484.1 467.6M511.6 464.8L511.6 469.0" fill="none" stroke="#222" stroke-width="1.2"/>
<text transform="translate(292.3 484.4) scale(1 1.09)" font-size="11.85" text-anchor="middle" stroke-width="0.06">10</text>
<text transform="translate(347.0 484.4) scale(1 1.09)" font-size="11.85" text-anchor="middle" stroke-width="0.06">15</text>
<text transform="translate(401.9 484.4) scale(1 1.09)" font-size="11.85" text-anchor="middle" stroke-width="0.06">20</text>
<text transform="translate(456.9 484.4) scale(1 1.09)" font-size="11.85" text-anchor="middle" stroke-width="0.06">25</text>
<text transform="translate(511.6 484.4) scale(1 1.09)" font-size="11.85" text-anchor="middle" stroke-width="0.06">30</text>
<text x="297.4" y="276.2" font-size="18.4">(d)</text>
<path d="M406.5 390.4L441.4 345.4" stroke="#000" stroke-width="1.65" fill="none"/><path d="M446.1 339.3L443.8 348.6L437.7 343.8Z" fill="#000"/>
<path d="M393.4 427.8L353.3 365.5" stroke="#000" stroke-width="1.65" fill="none"/><path d="M349.1 359.1L357.1 364.3L350.5 368.5Z" fill="#000"/>
<path d="M350.7 435.8L336.9 415.2" stroke="#000" stroke-width="1.65" fill="none"/><path d="M332.6 408.8L340.7 413.8L334.2 418.2Z" fill="#000"/>
<path d="M419.4 416.5L445.0 396.6" stroke="#000" stroke-width="1.65" fill="none"/><path d="M451.1 391.9L446.6 400.3L441.8 394.2Z" fill="#000"/>
<text transform="translate(433.7 334) scale(1 1.06)" font-size="12.5" stroke-width="0.2">20.4°(110)</text>
<text transform="translate(334.6 355.2) scale(1 1.06)" font-size="12.2" stroke-width="0.2">19.0°</text>
<text transform="translate(308.1 406.4) scale(1 1.06)" font-size="12.2" stroke-width="0.2">16.6°</text>
<text transform="translate(440.7 387.1) scale(1 1.06)" font-size="12.2" stroke-width="0.2">21.1°</text>
</g>
<g id="panel-e">
<clipPath id="clip-e"><rect x="171.4" y="510.0" width="219.80" height="210.70"/></clipPath>
<g clip-path="url(#clip-e)" fill="none" stroke-linejoin="round">
<path d="M171.4 718.1L171.9 718.1L172.4 718.1L172.9 718.1L173.4 718.1L173.9 718.1L174.4 718.1L174.9 718.1L175.4 718.1L175.9 718.1L176.4 718.1L176.9 718.1L177.4 718.1L177.9 718.1L178.4 718.1L178.9 718.1L179.4 718.1L179.9 718.1L180.4 718.1L180.9 718.1L181.4 718.1L181.9 718.1L182.4 718.1L182.9 718.1L183.4 718.1L183.9 718.1L184.4 718.1L184.9 718.1L185.4 718.1L185.9 718.1L186.4 718.1L186.9 718.1L187.4 718.1L187.9 718.1L188.4 718.1L188.9 718.1L189.4 718.1L189.9 718.1L190.4 718.1L190.9 718.1L191.4 718.1L191.9 718.1L192.4 718.1L192.9 718.1L193.4 718.1L193.9 718.1L194.4 718.1L194.9 718.1L195.4 718.1L195.9 718.1L196.4 718.1L196.9 718.1L197.4 718.1L197.9 718.1L198.4 718.1L198.9 718.1L199.4 718.1L199.9 718.1L200.4 718.1L200.9 718.1L201.4 718.1L201.9 718.1L202.4 718.1L202.9 718.1L203.4 718.1L203.9 718.1L204.4 718.1L204.9 718.1L205.4 718.1L205.9 718.1L206.4 718.1L206.9 718.1L207.4 718.1L207.9 718.1L208.4 718.1L208.9 718.1L209.4 718.1L209.9 718.1L210.4 718.1L210.9 718.1L211.4 718.1L211.9 718.1L212.4 718.1L212.9 718.1L213.4 718.1L213.9 718.1L214.4 718.1L214.9 718.1L215.4 718.1L215.9 718.0L216.4 718.0L216.9 718.0L217.4 718.0L217.9 718.0L218.4 718.0L218.9 718.0L219.4 718.0L219.9 718.0L220.4 718.0L220.9 718.0L221.4 718.0L221.9 718.0L222.4 718.0L222.9 717.9L223.4 717.9L223.9 717.9L224.4 717.9L224.9 717.9L225.4 717.9L225.9 717.9L226.4 717.8L226.9 717.8L227.4 717.8L227.9 717.8L228.4 717.8L228.9 717.7L229.4 717.7L229.9 717.7L230.4 717.7L230.9 717.6L231.4 717.6L231.9 717.6L232.4 717.5L232.9 717.5L233.4 717.5L233.9 717.4L234.4 717.4L234.9 717.3L235.4 717.3L235.9 717.2L236.4 717.2L236.9 717.1L237.4 717.0L237.9 717.0L238.4 716.9L238.9 716.8L239.4 716.8L239.9 716.7L240.4 716.6L240.9 716.5L241.4 716.4L241.9 716.3L242.4 716.2L242.9 716.1L243.4 716.0L243.9 715.9L244.4 715.8L244.9 715.6L245.4 715.5L245.9 715.4L246.4 715.2L246.9 715.1L247.4 714.9L247.9 714.8L248.4 714.6L248.9 714.4L249.4 714.2L249.9 714.0L250.4 713.9L250.9 713.7L251.4 713.4L251.9 713.2L252.4 713.0L252.9 712.8L253.4 712.5L253.9 712.3L254.4 712.0L254.9 711.7L255.4 711.5L255.9 711.2L256.4 710.9L256.9 710.6L257.4 710.3L257.9 710.0L258.4 709.6L258.9 709.3L259.4 709.0L259.9 708.6L260.4 708.2L260.9 707.9L261.4 707.5L261.9 707.1L262.4 706.7L262.9 706.3L263.4 705.9L263.9 705.5L264.4 705.0L264.9 704.6L265.4 704.2L265.9 703.7L266.4 703.3L266.9 702.8L267.4 702.3L267.9 701.8L268.4 701.3L268.9 700.9L269.4 700.4L269.9 699.9L270.4 699.3L270.9 698.8L271.4 698.3L271.9 697.8L272.4 697.3L272.9 696.7L273.4 696.2L273.9 695.7L274.4 695.1L274.9 694.6L275.4 694.1L275.9 693.5L276.4 693.0L276.9 692.5L277.4 691.9L277.9 691.4L278.4 690.9L278.9 690.3L279.4 689.8L279.9 689.3L280.4 688.8L280.9 688.3L281.4 687.8L281.9 687.3L282.4 686.8L282.9 686.3L283.4 685.9L283.9 685.4L284.4 684.9L284.9 684.5L285.4 684.1L285.9 683.7L286.4 683.3L286.9 682.9L287.4 682.5L287.9 682.1L288.4 681.8L288.9 681.4L289.4 681.1L289.9 680.8L290.4 680.5L290.9 680.2L291.4 680.0L291.9 679.7L292.4 679.5L292.9 679.3L293.4 679.1L293.9 679.0L294.4 678.8L294.9 678.7L295.4 678.6L295.9 678.5L296.4 678.4L296.9 678.3L297.4 678.3L297.9 678.3L298.4 678.3L298.9 678.3L299.4 678.4L299.9 678.4L300.4 678.5L300.9 678.6L301.4 678.7L301.9 678.9L302.4 679.0L302.9 679.2L303.4 679.4L303.9 679.6L304.4 679.8L304.9 680.1L305.4 680.3L305.9 680.6L306.4 680.9L306.9 681.2L307.4 681.5L307.9 681.8L308.4 682.2L308.9 682.5L309.4 682.9L309.9 683.3L310.4 683.7L310.9 684.1L311.4 684.5L311.9 684.9L312.4 685.4L312.9 685.8L313.4 686.3L313.9 686.8L314.4 687.2L314.9 687.7L315.4 688.2L315.9 688.7L316.4 689.2L316.9 689.7L317.4 690.2L317.9 690.7L318.4 691.2L318.9 691.8L319.4 692.3L319.9 692.8L320.4 693.3L320.9 693.9L321.4 694.4L321.9 694.9L322.4 695.4L322.9 695.9L323.4 696.5L323.9 697.0L324.4 697.5L324.9 698.0L325.4 698.5L325.9 699.0L326.4 699.5L326.9 700.0L327.4 700.5L327.9 701.0L328.4 701.5L328.9 702.0L329.4 702.4L329.9 702.9L330.4 703.3L330.9 703.8L331.4 704.2L331.9 704.7L332.4 705.1L332.9 705.5L333.4 705.9L333.9 706.3L334.4 706.7L334.9 707.1L335.4 707.5L335.9 707.9L336.4 708.2L336.9 708.6L337.4 708.9L337.9 709.3L338.4 709.6L338.9 709.9L339.4 710.2L339.9 710.5L340.4 710.8L340.9 711.1L341.4 711.4L341.9 711.7L342.4 711.9L342.9 712.2L343.4 712.4L343.9 712.7L344.4 712.9L344.9 713.1L345.4 713.3L345.9 713.5L346.4 713.8L346.9 713.9L347.4 714.1L347.9 714.3L348.4 714.5L348.9 714.7L349.4 714.8L349.9 715.0L350.4 715.1L350.9 715.3L351.4 715.4L351.9 715.5L352.4 715.7L352.9 715.8L353.4 715.9L353.9 716.0L354.4 716.1L354.9 716.2L355.4 716.3L355.9 716.4L356.4 716.5L356.9 716.6L357.4 716.7L357.9 716.8L358.4 716.8L358.9 716.9L359.4 717.0L359.9 717.0L360.4 717.1L360.9 717.2L361.4 717.2L361.9 717.3L362.4 717.3L362.9 717.4L363.4 717.4L363.9 717.4L364.4 717.5L364.9 717.5L365.4 717.6L365.9 717.6L366.4 717.6L366.9 717.7L367.4 717.7L367.9 717.7L368.4 717.7L368.9 717.8L369.4 717.8L369.9 717.8L370.4 717.8L370.9 717.8L371.4 717.9L371.9 717.9L372.4 717.9L372.9 717.9L373.4 717.9L373.9 717.9L374.4 717.9L374.9 718.0L375.4 718.0L375.9 718.0L376.4 718.0L376.9 718.0L377.4 718.0L377.9 718.0L378.4 718.0L378.9 718.0L379.4 718.0L379.9 718.0L380.4 718.0L380.9 718.0L381.4 718.0L381.9 718.0L382.4 718.1L382.9 718.1L383.4 718.1L383.9 718.1L384.4 718.1L384.9 718.1L385.4 718.1L385.9 718.1L386.4 718.1L386.9 718.1L387.4 718.1L387.9 718.1L388.4 718.1L388.9 718.1L389.4 718.1L389.9 718.1L390.4 718.1L390.9 718.1" stroke="#0a0a0a" stroke-width="2.1" stroke-dasharray="10 8.5"/>
<path d="M171.4 718.1L171.9 718.0L172.4 718.0L172.9 718.0L173.4 718.0L173.9 718.0L174.4 718.0L174.9 718.0L175.4 718.0L175.9 718.0L176.4 718.0L176.9 718.0L177.4 718.0L177.9 718.0L178.4 718.0L178.9 717.9L179.4 717.9L179.9 717.9L180.4 717.9L180.9 717.9L181.4 717.9L181.9 717.9L182.4 717.8L182.9 717.8L183.4 717.8L183.9 717.8L184.4 717.7L184.9 717.7L185.4 717.7L185.9 717.7L186.4 717.6L186.9 717.6L187.4 717.6L187.9 717.5L188.4 717.5L188.9 717.5L189.4 717.4L189.9 717.4L190.4 717.3L190.9 717.3L191.4 717.2L191.9 717.2L192.4 717.1L192.9 717.0L193.4 717.0L193.9 716.9L194.4 716.8L194.9 716.7L195.4 716.7L195.9 716.6L196.4 716.5L196.9 716.4L197.4 716.3L197.9 716.2L198.4 716.1L198.9 716.0L199.4 715.8L199.9 715.7L200.4 715.6L200.9 715.4L201.4 715.3L201.9 715.1L202.4 715.0L202.9 714.8L203.4 714.7L203.9 714.5L204.4 714.3L204.9 714.1L205.4 713.9L205.9 713.7L206.4 713.5L206.9 713.3L207.4 713.0L207.9 712.8L208.4 712.6L208.9 712.3L209.4 712.0L209.9 711.8L210.4 711.5L210.9 711.2L211.4 710.9L211.9 710.6L212.4 710.3L212.9 710.0L213.4 709.6L213.9 709.3L214.4 708.9L214.9 708.6L215.4 708.2L215.9 707.8L216.4 707.4L216.9 707.0L217.4 706.6L217.9 706.2L218.4 705.8L218.9 705.4L219.4 704.9L219.9 704.5L220.4 704.0L220.9 703.6L221.4 703.1L221.9 702.6L222.4 702.1L222.9 701.6L223.4 701.1L223.9 700.6L224.4 700.1L224.9 699.6L225.4 699.1L225.9 698.6L226.4 698.0L226.9 697.5L227.4 697.0L227.9 696.4L228.4 695.9L228.9 695.3L229.4 694.8L229.9 694.3L230.4 693.7L230.9 693.2L231.4 692.6L231.9 692.1L232.4 691.5L232.9 691.0L233.4 690.5L233.9 689.9L234.4 689.4L234.9 688.9L235.4 688.4L235.9 687.9L236.4 687.4L236.9 686.9L237.4 686.4L237.9 685.9L238.4 685.5L238.9 685.0L239.4 684.6L239.9 684.1L240.4 683.7L240.9 683.3L241.4 682.9L241.9 682.6L242.4 682.2L242.9 681.8L243.4 681.5L243.9 681.2L244.4 680.9L244.9 680.6L245.4 680.3L245.9 680.1L246.4 679.9L246.9 679.6L247.4 679.5L247.9 679.3L248.4 679.1L248.9 679.0L249.4 678.9L249.9 678.8L250.4 678.7L250.9 678.6L251.4 678.6L251.9 678.6L252.4 678.6L252.9 678.6L253.4 678.7L253.9 678.8L254.4 678.9L254.9 679.1L255.4 679.2L255.9 679.4L256.4 679.6L256.9 679.9L257.4 680.2L257.9 680.5L258.4 680.8L258.9 681.1L259.4 681.5L259.9 681.9L260.4 682.3L260.9 682.7L261.4 683.2L261.9 683.6L262.4 684.1L262.9 684.6L263.4 685.1L263.9 685.6L264.4 686.2L264.9 686.7L265.4 687.3L265.9 687.9L266.4 688.5L266.9 689.1L267.4 689.7L267.9 690.3L268.4 690.9L268.9 691.5L269.4 692.1L269.9 692.8L270.4 693.4L270.9 694.0L271.4 694.6L271.9 695.3L272.4 695.9L272.9 696.5L273.4 697.2L273.9 697.8L274.4 698.4L274.9 699.0L275.4 699.6L275.9 700.2L276.4 700.8L276.9 701.4L277.4 701.9L277.9 702.5L278.4 703.1L278.9 703.6L279.4 704.1L279.9 704.7L280.4 705.2L280.9 705.7L281.4 706.2L281.9 706.6L282.4 707.1L282.9 707.6L283.4 708.0L283.9 708.5L284.4 708.9L284.9 709.3L285.4 709.7L285.9 710.1L286.4 710.4L286.9 710.8L287.4 711.1L287.9 711.5L288.4 711.8L288.9 712.1L289.4 712.4L289.9 712.7L290.4 713.0L290.9 713.2L291.4 713.5L291.9 713.7L292.4 714.0L292.9 714.2L293.4 714.4L293.9 714.6L294.4 714.8L294.9 715.0L295.4 715.2L295.9 715.4L296.4 715.5L296.9 715.7L297.4 715.8L297.9 716.0L298.4 716.1L298.9 716.2L299.4 716.3L299.9 716.5L300.4 716.6L300.9 716.7L301.4 716.8L301.9 716.8L302.4 716.9L302.9 717.0L303.4 717.1L303.9 717.2L304.4 717.2L304.9 717.3L305.4 717.3L305.9 717.4L306.4 717.4L306.9 717.5L307.4 717.5L307.9 717.6L308.4 717.6L308.9 717.7L309.4 717.7L309.9 717.7L310.4 717.7L310.9 717.8L311.4 717.8L311.9 717.8L312.4 717.8L312.9 717.9L313.4 717.9L313.9 717.9L314.4 717.9L314.9 717.9L315.4 717.9L315.9 718.0L316.4 718.0L316.9 718.0L317.4 718.0L317.9 718.0L318.4 718.0L318.9 718.0L319.4 718.0L319.9 718.0L320.4 718.0L320.9 718.0L321.4 718.0L321.9 718.1L322.4 718.1L322.9 718.1L323.4 718.1L323.9 718.1L324.4 718.1L324.9 718.1L325.4 718.1L325.9 718.1L326.4 718.1L326.9 718.1L327.4 718.1L327.9 718.1L328.4 718.1L328.9 718.1L329.4 718.1L329.9 718.1L330.4 718.1L330.9 718.1L331.4 718.1L331.9 718.1L332.4 718.1L332.9 718.1L333.4 718.1L333.9 718.1L334.4 718.1L334.9 718.1L335.4 718.1L335.9 718.1L336.4 718.1L336.9 718.1L337.4 718.1L337.9 718.1L338.4 718.1L338.9 718.1L339.4 718.1L339.9 718.1L340.4 718.1L340.9 718.1L341.4 718.1L341.9 718.1L342.4 718.1L342.9 718.1L343.4 718.1L343.9 718.1L344.4 718.1L344.9 718.1L345.4 718.1L345.9 718.1L346.4 718.1L346.9 718.1L347.4 718.1L347.9 718.1L348.4 718.1L348.9 718.1L349.4 718.1L349.9 718.1L350.4 718.1L350.9 718.1L351.4 718.1L351.9 718.1L352.4 718.1L352.9 718.1L353.4 718.1L353.9 718.1L354.4 718.1L354.9 718.1L355.4 718.1L355.9 718.1L356.4 718.1L356.9 718.1L357.4 718.1L357.9 718.1L358.4 718.1L358.9 718.1L359.4 718.1L359.9 718.1L360.4 718.1L360.9 718.1L361.4 718.1L361.9 718.1L362.4 718.1L362.9 718.1L363.4 718.1L363.9 718.1L364.4 718.1L364.9 718.1L365.4 718.1L365.9 718.1L366.4 718.1L366.9 718.1L367.4 718.1L367.9 718.1L368.4 718.1L368.9 718.1L369.4 718.1L369.9 718.1L370.4 718.1L370.9 718.1L371.4 718.1L371.9 718.1L372.4 718.1L372.9 718.1L373.4 718.1L373.9 718.1L374.4 718.1L374.9 718.1L375.4 718.1L375.9 718.1L376.4 718.1L376.9 718.1L377.4 718.1L377.9 718.1L378.4 718.1L378.9 718.1L379.4 718.1L379.9 718.1L380.4 718.1L380.9 718.1L381.4 718.1L381.9 718.1L382.4 718.1L382.9 718.1L383.4 718.1L383.9 718.1L384.4 718.1L384.9 718.1L385.4 718.1L385.9 718.1L386.4 718.1L386.9 718.1L387.4 718.1L387.9 718.1L388.4 718.1L388.9 718.1L389.4 718.1L389.9 718.1L390.4 718.1L390.9 718.1" stroke="#3d6c9c" stroke-width="2.0" stroke-dasharray="8.5 8.5"/>
<path d="M171.4 718.1L171.9 718.1L172.4 718.1L172.9 718.1L173.4 718.1L173.9 718.1L174.4 718.1L174.9 718.1L175.4 718.1L175.9 718.1L176.4 718.1L176.9 718.1L177.4 718.1L177.9 718.1L178.4 718.1L178.9 718.1L179.4 718.1L179.9 718.1L180.4 718.1L180.9 718.1L181.4 718.1L181.9 718.1L182.4 718.1L182.9 718.1L183.4 718.1L183.9 718.1L184.4 718.1L184.9 718.1L185.4 718.1L185.9 718.1L186.4 718.1L186.9 718.1L187.4 718.1L187.9 718.1L188.4 718.1L188.9 718.1L189.4 718.1L189.9 718.1L190.4 718.1L190.9 718.1L191.4 718.1L191.9 718.1L192.4 718.1L192.9 718.1L193.4 718.1L193.9 718.1L194.4 718.1L194.9 718.1L195.4 718.1L195.9 718.1L196.4 718.1L196.9 718.1L197.4 718.1L197.9 718.1L198.4 718.1L198.9 718.1L199.4 718.1L199.9 718.1L200.4 718.1L200.9 718.1L201.4 718.1L201.9 718.1L202.4 718.1L202.9 718.1L203.4 718.1L203.9 718.1L204.4 718.1L204.9 718.1L205.4 718.1L205.9 718.1L206.4 718.1L206.9 718.1L207.4 718.1L207.9 718.1L208.4 718.1L208.9 718.1L209.4 718.1L209.9 718.1L210.4 718.1L210.9 718.1L211.4 718.1L211.9 718.1L212.4 718.1L212.9 718.1L213.4 718.1L213.9 718.1L214.4 718.1L214.9 718.1L215.4 718.1L215.9 718.1L216.4 718.1L216.9 718.1L217.4 718.1L217.9 718.1L218.4 718.1L218.9 718.1L219.4 718.1L219.9 718.1L220.4 718.1L220.9 718.1L221.4 718.1L221.9 718.1L222.4 718.1L222.9 718.1L223.4 718.1L223.9 718.1L224.4 718.1L224.9 718.1L225.4 718.1L225.9 718.1L226.4 718.1L226.9 718.1L227.4 718.1L227.9 718.1L228.4 718.1L228.9 718.1L229.4 718.1L229.9 718.1L230.4 718.1L230.9 718.1L231.4 718.1L231.9 718.1L232.4 718.1L232.9 718.1L233.4 718.1L233.9 718.1L234.4 718.1L234.9 718.1L235.4 718.1L235.9 718.1L236.4 718.1L236.9 718.1L237.4 718.1L237.9 718.1L238.4 718.1L238.9 718.1L239.4 718.1L239.9 718.1L240.4 718.1L240.9 718.1L241.4 718.1L241.9 718.1L242.4 718.1L242.9 718.1L243.4 718.1L243.9 718.1L244.4 718.1L244.9 718.1L245.4 718.1L245.9 718.1L246.4 718.1L246.9 718.1L247.4 718.1L247.9 718.1L248.4 718.1L248.9 718.1L249.4 718.0L249.9 718.0L250.4 718.0L250.9 717.9L251.4 717.9L251.9 717.8L252.4 717.7L252.9 717.5L253.4 717.3L253.9 717.1L254.4 716.8L254.9 716.4L255.4 716.0L255.9 715.4L256.4 714.7L256.9 713.9L257.4 713.0L257.9 711.9L258.4 710.7L258.9 709.4L259.4 707.9L259.9 706.3L260.4 704.6L260.9 702.8L261.4 701.0L261.9 699.1L262.4 697.3L262.9 695.5L263.4 693.8L263.9 692.3L264.4 691.1L264.9 690.0L265.4 689.2L265.9 688.8L266.4 688.6L266.9 688.8L267.4 689.3L267.9 690.1L268.4 691.2L268.9 692.5L269.4 694.0L269.9 695.7L270.4 697.6L270.9 699.4L271.4 701.3L271.9 703.2L272.4 705.0L272.9 706.8L273.4 708.4L273.9 709.8L274.4 711.2L274.9 712.4L275.4 713.4L275.9 714.3L276.4 715.0L276.9 715.7L277.4 716.2L277.9 716.6L278.4 717.0L278.9 717.2L279.4 717.5L279.9 717.6L280.4 717.8L280.9 717.8L281.4 717.9L281.9 718.0L282.4 718.0L282.9 718.0L283.4 718.1L283.9 718.1L284.4 718.1L284.9 718.1L285.4 718.1L285.9 718.1L286.4 718.1L286.9 718.1L287.4 718.1L287.9 718.1L288.4 718.1L288.9 718.1L289.4 718.1L289.9 718.1L290.4 718.1L290.9 718.1L291.4 718.1L291.9 718.1L292.4 718.1L292.9 718.1L293.4 718.1L293.9 718.1L294.4 718.1L294.9 718.1L295.4 718.1L295.9 718.1L296.4 718.1L296.9 718.1L297.4 718.1L297.9 718.1L298.4 718.1L298.9 718.1L299.4 718.1L299.9 718.1L300.4 718.1L300.9 718.1L301.4 718.1L301.9 718.1L302.4 718.1L302.9 718.1L303.4 718.1L303.9 718.1L304.4 718.1L304.9 718.1L305.4 718.1L305.9 718.1L306.4 718.1L306.9 718.1L307.4 718.1L307.9 718.1L308.4 718.1L308.9 718.1L309.4 718.1L309.9 718.1L310.4 718.1L310.9 718.1L311.4 718.1L311.9 718.1L312.4 718.1L312.9 718.1L313.4 718.1L313.9 718.1L314.4 718.1L314.9 718.1L315.4 718.1L315.9 718.1L316.4 718.1L316.9 718.1L317.4 718.1L317.9 718.1L318.4 718.1L318.9 718.1L319.4 718.1L319.9 718.1L320.4 718.1L320.9 718.1L321.4 718.1L321.9 718.1L322.4 718.1L322.9 718.1L323.4 718.1L323.9 718.1L324.4 718.1L324.9 718.1L325.4 718.1L325.9 718.1L326.4 718.1L326.9 718.1L327.4 718.1L327.9 718.1L328.4 718.1L328.9 718.1L329.4 718.1L329.9 718.1L330.4 718.1L330.9 718.1L331.4 718.1L331.9 718.1L332.4 718.1L332.9 718.1L333.4 718.1L333.9 718.1L334.4 718.1L334.9 718.1L335.4 718.1L335.9 718.1L336.4 718.1L336.9 718.1L337.4 718.1L337.9 718.1L338.4 718.1L338.9 718.1L339.4 718.1L339.9 718.1L340.4 718.1L340.9 718.1L341.4 718.1L341.9 718.1L342.4 718.1L342.9 718.1L343.4 718.1L343.9 718.1L344.4 718.1L344.9 718.1L345.4 718.1L345.9 718.1L346.4 718.1L346.9 718.1L347.4 718.1L347.9 718.1L348.4 718.1L348.9 718.1L349.4 718.1L349.9 718.1L350.4 718.1L350.9 718.1L351.4 718.1L351.9 718.1L352.4 718.1L352.9 718.1L353.4 718.1L353.9 718.1L354.4 718.1L354.9 718.1L355.4 718.1L355.9 718.1L356.4 718.1L356.9 718.1L357.4 718.1L357.9 718.1L358.4 718.1L358.9 718.1L359.4 718.1L359.9 718.1L360.4 718.1L360.9 718.1L361.4 718.1L361.9 718.1L362.4 718.1L362.9 718.1L363.4 718.1L363.9 718.1L364.4 718.1L364.9 718.1L365.4 718.1L365.9 718.1L366.4 718.1L366.9 718.1L367.4 718.1L367.9 718.1L368.4 718.1L368.9 718.1L369.4 718.1L369.9 718.1L370.4 718.1L370.9 718.1L371.4 718.1L371.9 718.1L372.4 718.1L372.9 718.1L373.4 718.1L373.9 718.1L374.4 718.1L374.9 718.1L375.4 718.1L375.9 718.1L376.4 718.1L376.9 718.1L377.4 718.1L377.9 718.1L378.4 718.1L378.9 718.1L379.4 718.1L379.9 718.1L380.4 718.1L380.9 718.1L381.4 718.1L381.9 718.1L382.4 718.1L382.9 718.1L383.4 718.1L383.9 718.1L384.4 718.1L384.9 718.1L385.4 718.1L385.9 718.1L386.4 718.1L386.9 718.1L387.4 718.1L387.9 718.1L388.4 718.1L388.9 718.1L389.4 718.1L389.9 718.1L390.4 718.1L390.9 718.1" stroke="#ff1010" stroke-width="2.0" stroke-dasharray="5 3.6" stroke-linecap="round"/>
<path d="M171.4 718.1L171.9 718.1L172.4 718.1L172.9 718.1L173.4 718.1L173.9 718.1L174.4 718.1L174.9 718.1L175.4 718.1L175.9 718.1L176.4 718.1L176.9 718.1L177.4 718.1L177.9 718.1L178.4 718.1L178.9 718.1L179.4 718.1L179.9 718.1L180.4 718.1L180.9 718.1L181.4 718.1L181.9 718.1L182.4 718.1L182.9 718.1L183.4 718.1L183.9 718.1L184.4 718.1L184.9 718.1L185.4 718.1L185.9 718.1L186.4 718.1L186.9 718.1L187.4 718.1L187.9 718.1L188.4 718.1L188.9 718.1L189.4 718.1L189.9 718.1L190.4 718.1L190.9 718.1L191.4 718.1L191.9 718.1L192.4 718.1L192.9 718.1L193.4 718.1L193.9 718.1L194.4 718.1L194.9 718.1L195.4 718.1L195.9 718.1L196.4 718.1L196.9 718.1L197.4 718.1L197.9 718.1L198.4 718.1L198.9 718.1L199.4 718.1L199.9 718.1L200.4 718.1L200.9 718.1L201.4 718.1L201.9 718.1L202.4 718.1L202.9 718.1L203.4 718.1L203.9 718.1L204.4 718.1L204.9 718.1L205.4 718.1L205.9 718.1L206.4 718.1L206.9 718.1L207.4 718.1L207.9 718.1L208.4 718.1L208.9 718.1L209.4 718.1L209.9 718.1L210.4 718.1L210.9 718.1L211.4 718.1L211.9 718.1L212.4 718.1L212.9 718.1L213.4 718.1L213.9 718.1L214.4 718.1L214.9 718.1L215.4 718.1L215.9 718.1L216.4 718.1L216.9 718.1L217.4 718.1L217.9 718.1L218.4 718.1L218.9 718.1L219.4 718.1L219.9 718.1L220.4 718.1L220.9 718.1L221.4 718.1L221.9 718.1L222.4 718.1L222.9 718.1L223.4 718.1L223.9 718.1L224.4 718.1L224.9 718.1L225.4 718.1L225.9 718.1L226.4 718.1L226.9 718.1L227.4 718.1L227.9 718.1L228.4 718.1L228.9 718.1L229.4 718.1L229.9 718.1L230.4 718.1L230.9 718.1L231.4 718.1L231.9 718.1L232.4 718.1L232.9 718.1L233.4 718.1L233.9 718.1L234.4 718.1L234.9 718.1L235.4 718.1L235.9 718.1L236.4 718.1L236.9 718.1L237.4 718.1L237.9 718.1L238.4 718.1L238.9 718.1L239.4 718.1L239.9 718.1L240.4 718.1L240.9 718.1L241.4 718.1L241.9 718.1L242.4 718.1L242.9 718.1L243.4 718.1L243.9 718.1L244.4 718.1L244.9 718.1L245.4 718.1L245.9 718.1L246.4 718.1L246.9 718.1L247.4 718.1L247.9 718.1L248.4 718.1L248.9 718.1L249.4 718.1L249.9 718.1L250.4 718.1L250.9 718.1L251.4 718.1L251.9 718.1L252.4 718.1L252.9 718.1L253.4 718.1L253.9 718.1L254.4 718.1L254.9 718.1L255.4 718.1L255.9 718.1L256.4 718.1L256.9 718.1L257.4 718.1L257.9 718.1L258.4 718.1L258.9 718.1L259.4 718.1L259.9 718.1L260.4 718.1L260.9 718.1L261.4 718.1L261.9 718.1L262.4 718.1L262.9 718.1L263.4 718.1L263.9 718.1L264.4 718.0L264.9 718.0L265.4 718.0L265.9 717.9L266.4 717.8L266.9 717.7L267.4 717.6L267.9 717.4L268.4 717.2L268.9 716.9L269.4 716.5L269.9 716.0L270.4 715.3L270.9 714.5L271.4 713.6L271.9 712.4L272.4 711.0L272.9 709.2L273.4 707.2L273.9 704.8L274.4 702.1L274.9 698.9L275.4 695.3L275.9 691.2L276.4 686.7L276.9 681.7L277.4 676.3L277.9 670.6L278.4 664.5L278.9 658.1L279.4 651.5L279.9 644.9L280.4 638.3L280.9 631.8L281.4 625.6L281.9 619.8L282.4 614.5L282.9 609.9L283.4 606.0L283.9 603.0L284.4 600.9L284.9 599.8L285.4 599.7L285.9 600.6L286.4 602.5L286.9 605.3L287.4 609.0L287.9 613.5L288.4 618.7L288.9 624.4L289.4 630.5L289.9 637.0L290.4 643.6L290.9 650.2L291.4 656.8L291.9 663.2L292.4 669.4L292.9 675.2L293.4 680.7L293.9 685.7L294.4 690.3L294.9 694.5L295.4 698.2L295.9 701.5L296.4 704.3L296.9 706.8L297.4 708.9L297.9 710.6L298.4 712.1L298.9 713.4L299.4 714.4L299.9 715.2L300.4 715.8L300.9 716.4L301.4 716.8L301.9 717.1L302.4 717.4L302.9 717.5L303.4 717.7L303.9 717.8L304.4 717.9L304.9 717.9L305.4 718.0L305.9 718.0L306.4 718.0L306.9 718.1L307.4 718.1L307.9 718.1L308.4 718.1L308.9 718.1L309.4 718.1L309.9 718.1L310.4 718.1L310.9 718.1L311.4 718.1L311.9 718.1L312.4 718.1L312.9 718.1L313.4 718.1L313.9 718.1L314.4 718.1L314.9 718.1L315.4 718.1L315.9 718.1L316.4 718.1L316.9 718.1L317.4 718.1L317.9 718.1L318.4 718.1L318.9 718.1L319.4 718.1L319.9 718.1L320.4 718.1L320.9 718.1L321.4 718.1L321.9 718.1L322.4 718.1L322.9 718.1L323.4 718.1L323.9 718.1L324.4 718.1L324.9 718.1L325.4 718.1L325.9 718.1L326.4 718.1L326.9 718.1L327.4 718.1L327.9 718.1L328.4 718.1L328.9 718.1L329.4 718.1L329.9 718.1L330.4 718.1L330.9 718.1L331.4 718.1L331.9 718.1L332.4 718.1L332.9 718.1L333.4 718.1L333.9 718.1L334.4 718.1L334.9 718.1L335.4 718.1L335.9 718.1L336.4 718.1L336.9 718.1L337.4 718.1L337.9 718.1L338.4 718.1L338.9 718.1L339.4 718.1L339.9 718.1L340.4 718.1L340.9 718.1L341.4 718.1L341.9 718.1L342.4 718.1L342.9 718.1L343.4 718.1L343.9 718.1L344.4 718.1L344.9 718.1L345.4 718.1L345.9 718.1L346.4 718.1L346.9 718.1L347.4 718.1L347.9 718.1L348.4 718.1L348.9 718.1L349.4 718.1L349.9 718.1L350.4 718.1L350.9 718.1L351.4 718.1L351.9 718.1L352.4 718.1L352.9 718.1L353.4 718.1L353.9 718.1L354.4 718.1L354.9 718.1L355.4 718.1L355.9 718.1L356.4 718.1L356.9 718.1L357.4 718.1L357.9 718.1L358.4 718.1L358.9 718.1L359.4 718.1L359.9 718.1L360.4 718.1L360.9 718.1L361.4 718.1L361.9 718.1L362.4 718.1L362.9 718.1L363.4 718.1L363.9 718.1L364.4 718.1L364.9 718.1L365.4 718.1L365.9 718.1L366.4 718.1L366.9 718.1L367.4 718.1L367.9 718.1L368.4 718.1L368.9 718.1L369.4 718.1L369.9 718.1L370.4 718.1L370.9 718.1L371.4 718.1L371.9 718.1L372.4 718.1L372.9 718.1L373.4 718.1L373.9 718.1L374.4 718.1L374.9 718.1L375.4 718.1L375.9 718.1L376.4 718.1L376.9 718.1L377.4 718.1L377.9 718.1L378.4 718.1L378.9 718.1L379.4 718.1L379.9 718.1L380.4 718.1L380.9 718.1L381.4 718.1L381.9 718.1L382.4 718.1L382.9 718.1L383.4 718.1L383.9 718.1L384.4 718.1L384.9 718.1L385.4 718.1L385.9 718.1L386.4 718.1L386.9 718.1L387.4 718.1L387.9 718.1L388.4 718.1L388.9 718.1L389.4 718.1L389.9 718.1L390.4 718.1L390.9 718.1" stroke="#17365d" stroke-width="2.0" stroke-dasharray="5.6 3.8"/>
<path d="M283.8 561.4L283.4 563.6L282.9 567.5L282.5 571.6M281.5 581.8L281.4 583.2L280.9 589.3L280.7 592.1M279.9 602.4L279.4 608.7L279.1 612.6M278.2 622.9L277.9 626.8L277.4 632.1L277.3 633.2M276.1 643.4L275.9 644.9L275.4 648.0L274.9 650.5L274.4 652.5L274.0 653.5M269.1 647.8L268.9 647.4L268.4 646.2L267.9 645.3L267.4 644.5L266.9 644.0L266.4 643.8L265.9 643.9L265.4 644.4L264.9 645.0L264.4 646.0L263.9 647.2L263.6 648.1M260.7 658.0L260.4 658.9L259.9 660.6L259.4 662.2L258.9 663.6L258.4 665.0L257.9 666.2L257.4 667.3L257.2 667.7M249.9 674.7L249.4 675.0L248.9 675.3L248.4 675.6L247.9 675.9L247.4 676.3L246.9 676.6L246.4 677.0L245.9 677.4L245.4 677.7L244.9 678.1L244.4 678.6L243.9 679.0L243.4 679.4L242.9 679.9L242.4 680.3L241.9 680.8L241.7 680.9M234.7 688.4L234.4 688.7L233.9 689.3L233.4 689.8L232.9 690.4L232.4 691.0L231.9 691.5L231.4 692.1L230.9 692.7L230.4 693.3L229.9 693.8L229.4 694.4L228.9 695.0L228.4 695.5L227.9 696.1L227.9 696.1M220.8 703.6L220.4 703.9L219.9 704.4L219.4 704.8L218.9 705.3L218.4 705.7L217.9 706.1L217.4 706.6L216.9 707.0L216.4 707.4L215.9 707.8L215.4 708.2L214.9 708.5L214.4 708.9L213.9 709.2L213.4 709.6L212.9 709.9L212.7 710.0M203.5 714.6L203.4 714.7L202.9 714.8L202.4 715.0L201.9 715.1L201.4 715.3L200.9 715.4L200.4 715.6L199.9 715.7L199.4 715.8L198.9 716.0L198.4 716.1L197.9 716.2L197.4 716.3L196.9 716.4L196.4 716.5L195.9 716.6L195.4 716.7L194.9 716.7L194.4 716.8L193.9 716.9L193.5 716.9M183.3 717.8L182.9 717.8L182.4 717.8L181.9 717.9L181.4 717.9L180.9 717.9L180.4 717.9L179.9 717.9L179.4 717.9L178.9 717.9L178.4 718.0L177.9 718.0L177.4 718.0L176.9 718.0L176.4 718.0L175.9 718.0L175.4 718.0L174.9 718.0L174.4 718.0L173.9 718.0L173.4 718.0L173.0 718.0M286.7 561.7L286.9 562.8L287.4 566.5L287.9 570.9L288.0 571.9M288.9 582.2L289.4 587.8L289.8 592.4M290.5 602.7L290.9 607.5L291.3 613.0M292.1 623.2L292.4 626.7L292.9 632.5L293.0 633.5M294.0 643.8L294.4 647.8L294.9 652.0L295.2 654.0M296.8 664.2L296.9 664.6L297.4 666.8L297.9 668.7L298.4 670.3L298.9 671.7L299.4 672.9L299.9 673.9L299.9 673.9M307.4 680.9L307.4 680.9L307.9 681.3L308.4 681.7L308.9 682.1L309.4 682.5L309.9 682.9L310.4 683.3L310.9 683.8L311.4 684.2L311.9 684.7L312.4 685.1L312.9 685.6L313.4 686.1L313.9 686.6L314.4 687.1L314.9 687.6L315.1 687.7M322.2 695.2L322.4 695.4L322.9 695.9L323.4 696.4L323.9 697.0L324.4 697.5L324.9 698.0L325.4 698.5L325.9 699.0L326.4 699.5L326.9 700.0L327.4 700.5L327.9 701.0L328.4 701.5L328.9 701.9L329.4 702.4L329.5 702.5M337.5 709.0L337.9 709.3L338.4 709.6L338.9 709.9L339.4 710.2L339.9 710.5L340.4 710.8L340.9 711.1L341.4 711.4L341.9 711.7L342.4 711.9L342.9 712.2L343.4 712.4L343.9 712.7L344.4 712.9L344.9 713.1L345.4 713.3L345.9 713.5L346.4 713.8L346.5 713.8M356.4 716.5L356.9 716.6L357.4 716.7L357.9 716.8L358.4 716.8L358.9 716.9L359.4 717.0L359.9 717.0L360.4 717.1L360.9 717.2L361.4 717.2L361.9 717.3L362.4 717.3L362.9 717.4L363.4 717.4L363.9 717.4L364.4 717.5L364.9 717.5L365.4 717.6L365.9 717.6L366.4 717.6L366.7 717.6M377.0 718.0L377.4 718.0L377.9 718.0L378.4 718.0L378.9 718.0L379.4 718.0L379.9 718.0L380.4 718.0L380.9 718.0L381.4 718.0L381.9 718.0L382.4 718.1L382.9 718.1L383.4 718.1L383.9 718.1L384.4 718.1L384.9 718.1L385.4 718.1L385.9 718.1L386.4 718.1L386.9 718.1L387.3 718.1" stroke="#c81c1c" stroke-width="3"/>
<defs><path id="gp-e" d="M171.4 717.3L172.0 718.6L172.5 716.9L173.1 718.4L173.6 719.5L174.2 717.5L174.7 715.7L175.3 715.4L175.8 715.3L176.4 716.5L176.9 717.9L177.5 717.0L178.0 716.6L178.6 717.2L179.1 718.4L179.7 718.1L180.2 717.2L180.8 718.9L181.3 718.5L181.9 719.2L182.4 715.6L183.0 715.7L183.5 717.3L184.1 716.2L184.6 716.7L185.2 718.0L185.7 717.5L186.3 717.4L186.8 712.3L187.4 716.9L187.9 720.5L188.5 717.3L189.0 718.5L189.6 719.5L190.1 715.7L190.7 717.5L191.2 719.1L191.8 717.4L192.3 718.5L192.9 716.2L193.4 717.3L194.0 716.7L194.5 714.2L195.1 712.6L195.6 718.6L196.2 718.0L196.7 716.9L197.3 714.8L197.8 716.0L198.4 717.3L198.9 713.7L199.5 712.6L200.0 714.4L200.6 718.4L201.1 716.3L201.7 717.1L202.2 712.1L202.8 712.6L203.3 713.4L203.9 712.4L204.4 712.2L205.0 715.3L205.5 713.1L206.1 712.3L206.6 717.1L207.2 712.2L207.7 711.0L208.3 712.1L208.8 711.0L209.4 712.8L209.9 710.0L210.5 711.1L211.0 713.2L211.6 707.4L212.1 707.2L212.7 709.0L213.2 708.7L213.8 707.7L214.3 705.4L214.9 705.8L215.4 704.6L216.0 707.7L216.5 708.7L217.1 706.4L217.6 704.9L218.2 705.3L218.7 706.7L219.3 705.7L219.8 702.4L220.4 701.2L220.9 704.8L221.5 701.6L222.0 700.4L222.6 700.3L223.1 698.6L223.7 699.0L224.2 695.7L224.8 698.9L225.3 700.9L225.9 698.0L226.4 696.1L227.0 698.7L227.5 695.8L228.1 694.4L228.6 697.2L229.2 695.8L229.7 691.3L230.3 689.9L230.8 694.1L231.4 690.8L231.9 690.3L232.5 685.4L233.0 688.6L233.6 687.8L234.1 691.8L234.7 686.5L235.2 686.5L235.8 688.1L236.3 687.8L236.9 686.3L237.4 686.5L238.0 683.3L238.5 684.4L239.1 684.3L239.6 675.4L240.2 679.7L240.7 680.3L241.3 679.8L241.8 680.3L242.4 679.6L242.9 682.7L243.5 678.2L244.0 677.2L244.6 677.4L245.1 680.4L245.7 675.7L246.2 679.5L246.8 677.8L247.3 677.8L247.9 679.9L248.4 672.4L249.0 669.8L249.5 669.9L250.1 673.1L250.6 676.1L251.2 673.8L251.7 673.4L252.3 677.7L252.8 670.8L253.4 668.7L253.9 672.5L254.5 674.4L255.0 671.6L255.6 669.4L256.1 663.1L256.7 665.2L257.2 669.7L257.8 665.3L258.3 667.6L258.9 667.4L259.4 661.3L260.0 660.2L260.5 662.5L261.1 659.7L261.6 656.4L262.2 655.9L262.7 652.9L263.3 648.8L263.8 647.7L264.4 648.6L264.9 643.3L265.5 638.4L266.0 639.3L266.6 645.9L267.1 647.3L267.7 645.0L268.2 644.8L268.8 649.3L269.3 647.5L269.9 649.0L270.4 654.4L271.0 658.3L271.5 655.0L272.1 656.0L272.6 650.0L273.2 655.2L273.7 656.1L274.3 646.0L274.8 651.1L275.4 646.4L275.9 643.3L276.5 640.9L277.0 638.1L277.6 630.6L278.1 620.9L278.7 615.0L279.2 610.3L279.8 602.2L280.3 596.6L280.9 589.4L281.4 581.0L282.0 575.6L282.5 568.9L283.1 563.0L283.6 557.3L284.2 548.1L284.7 544.6L285.3 543.2L285.8 547.0L286.4 552.8L286.9 559.1L287.5 565.8L288.0 572.6L288.6 578.4L289.1 584.8L289.7 589.2L290.2 600.0L290.8 604.3L291.3 612.2L291.9 618.7L292.4 624.0L293.0 630.6L293.5 635.8L294.1 644.9L294.6 650.6L295.2 657.0L295.7 658.9L296.3 661.2L296.8 662.8L297.4 664.5L297.9 665.0L298.5 666.1L299.0 671.8L299.6 673.6L300.1 674.8L300.7 675.6L301.2 673.0L301.8 671.6L302.3 673.7L302.9 675.2L303.4 679.0L304.0 679.7L304.5 678.9L305.1 684.1L305.6 679.9L306.2 679.5L306.7 675.8L307.3 679.1L307.8 684.5L308.4 682.0L308.9 681.7L309.5 681.4L310.0 684.6L310.6 683.5L311.1 687.2L311.7 684.2L312.2 684.3L312.8 689.8L313.3 685.3L313.9 682.8L314.4 682.9L315.0 684.4L315.5 688.0L316.1 689.8L316.6 687.8L317.2 686.1L317.7 682.7L318.3 687.3L318.8 693.9L319.4 692.9L319.9 690.0L320.5 690.2L321.0 690.0L321.6 694.2L322.1 695.1L322.7 693.0L323.2 693.4L323.8 694.1L324.3 696.6L324.9 697.6L325.4 696.0L326.0 695.1L326.5 699.6L327.1 698.5L327.6 697.3L328.2 698.1L328.7 698.6L329.3 699.9L329.8 701.8L330.4 699.0L330.9 702.8L331.5 701.8L332.0 703.9L332.6 704.2L333.1 703.4L333.7 705.1L334.2 703.9L334.8 702.2L335.3 701.4L335.9 704.5L336.4 704.4L337.0 705.7L337.5 707.6L338.1 707.3L338.6 702.7L339.2 706.8L339.7 708.0L340.3 707.6L340.8 705.4L341.4 706.3L341.9 708.2L342.5 708.9L343.0 707.8L343.6 707.5L344.1 711.1L344.7 709.3L345.2 708.3L345.8 708.1L346.3 709.4L346.9 708.6L347.4 711.0L348.0 709.8L348.5 705.0L349.1 707.6L349.6 711.3L350.2 709.7L350.7 708.4L351.3 708.7L351.8 710.8L352.4 710.8L352.9 710.4L353.5 705.9L354.0 712.6L354.6 713.0L355.1 712.2L355.7 712.4L356.2 711.9L356.8 710.3L357.3 713.6L357.9 713.3L358.4 714.1L359.0 712.2L359.5 709.7L360.1 713.5L360.6 713.8L361.2 713.9L361.7 715.0L362.3 714.7L362.8 714.0L363.4 715.7L363.9 713.5L364.5 715.1L365.0 717.8L365.6 715.2L366.1 714.8L366.7 713.8L367.2 714.5L367.8 714.5L368.3 714.1L368.9 716.6L369.4 713.7L370.0 713.4L370.5 713.4L371.1 716.0L371.6 715.9L372.2 715.4L372.7 717.6L373.3 715.8L373.8 715.1L374.4 715.2L374.9 715.7L375.5 714.8L376.0 715.2L376.6 715.8L377.1 715.3L377.7 716.5L378.2 717.2L378.8 715.8L379.3 716.6L379.9 716.5L380.4 718.6L381.0 717.2L381.5 719.1L382.1 718.5L382.6 717.6L383.2 714.2L383.7 716.5L384.3 716.4L384.8 717.6L385.4 717.9L385.9 719.4L386.5 716.7L387.0 716.3L387.6 716.2L388.1 716.7L388.7 717.4L389.2 716.8L389.8 717.3L390.3 715.8L390.9 716.3"/></defs>
<use href="#gp-e" fill="none" stroke="#45c685" stroke-width="1.65"/>
<mask id="gm-e" maskUnits="userSpaceOnUse" x="171.4" y="510.0" width="219.8" height="210.9"><use href="#gp-e" fill="none" stroke="#fff" stroke-width="1.65" stroke-linejoin="round"/></mask>
<path d="M283.8 561.4L283.4 563.6L282.9 567.5L282.5 571.6M281.5 581.8L281.4 583.2L280.9 589.3L280.7 592.1M279.9 602.4L279.4 608.7L279.1 612.6M278.2 622.9L277.9 626.8L277.4 632.1L277.3 633.2M276.1 643.4L275.9 644.9L275.4 648.0L274.9 650.5L274.4 652.5L274.0 653.5M269.1 647.8L268.9 647.4L268.4 646.2L267.9 645.3L267.4 644.5L266.9 644.0L266.4 643.8L265.9 643.9L265.4 644.4L264.9 645.0L264.4 646.0L263.9 647.2L263.6 648.1M260.7 658.0L260.4 658.9L259.9 660.6L259.4 662.2L258.9 663.6L258.4 665.0L257.9 666.2L257.4 667.3L257.2 667.7M249.9 674.7L249.4 675.0L248.9 675.3L248.4 675.6L247.9 675.9L247.4 676.3L246.9 676.6L246.4 677.0L245.9 677.4L245.4 677.7L244.9 678.1L244.4 678.6L243.9 679.0L243.4 679.4L242.9 679.9L242.4 680.3L241.9 680.8L241.7 680.9M234.7 688.4L234.4 688.7L233.9 689.3L233.4 689.8L232.9 690.4L232.4 691.0L231.9 691.5L231.4 692.1L230.9 692.7L230.4 693.3L229.9 693.8L229.4 694.4L228.9 695.0L228.4 695.5L227.9 696.1L227.9 696.1M220.8 703.6L220.4 703.9L219.9 704.4L219.4 704.8L218.9 705.3L218.4 705.7L217.9 706.1L217.4 706.6L216.9 707.0L216.4 707.4L215.9 707.8L215.4 708.2L214.9 708.5L214.4 708.9L213.9 709.2L213.4 709.6L212.9 709.9L212.7 710.0M203.5 714.6L203.4 714.7L202.9 714.8L202.4 715.0L201.9 715.1L201.4 715.3L200.9 715.4L200.4 715.6L199.9 715.7L199.4 715.8L198.9 716.0L198.4 716.1L197.9 716.2L197.4 716.3L196.9 716.4L196.4 716.5L195.9 716.6L195.4 716.7L194.9 716.7L194.4 716.8L193.9 716.9L193.5 716.9M183.3 717.8L182.9 717.8L182.4 717.8L181.9 717.9L181.4 717.9L180.9 717.9L180.4 717.9L179.9 717.9L179.4 717.9L178.9 717.9L178.4 718.0L177.9 718.0L177.4 718.0L176.9 718.0L176.4 718.0L175.9 718.0L175.4 718.0L174.9 718.0L174.4 718.0L173.9 718.0L173.4 718.0L173.0 718.0M286.7 561.7L286.9 562.8L287.4 566.5L287.9 570.9L288.0 571.9M288.9 582.2L289.4 587.8L289.8 592.4M290.5 602.7L290.9 607.5L291.3 613.0M292.1 623.2L292.4 626.7L292.9 632.5L293.0 633.5M294.0 643.8L294.4 647.8L294.9 652.0L295.2 654.0M296.8 664.2L296.9 664.6L297.4 666.8L297.9 668.7L298.4 670.3L298.9 671.7L299.4 672.9L299.9 673.9L299.9 673.9M307.4 680.9L307.4 680.9L307.9 681.3L308.4 681.7L308.9 682.1L309.4 682.5L309.9 682.9L310.4 683.3L310.9 683.8L311.4 684.2L311.9 684.7L312.4 685.1L312.9 685.6L313.4 686.1L313.9 686.6L314.4 687.1L314.9 687.6L315.1 687.7M322.2 695.2L322.4 695.4L322.9 695.9L323.4 696.4L323.9 697.0L324.4 697.5L324.9 698.0L325.4 698.5L325.9 699.0L326.4 699.5L326.9 700.0L327.4 700.5L327.9 701.0L328.4 701.5L328.9 701.9L329.4 702.4L329.5 702.5M337.5 709.0L337.9 709.3L338.4 709.6L338.9 709.9L339.4 710.2L339.9 710.5L340.4 710.8L340.9 711.1L341.4 711.4L341.9 711.7L342.4 711.9L342.9 712.2L343.4 712.4L343.9 712.7L344.4 712.9L344.9 713.1L345.4 713.3L345.9 713.5L346.4 713.8L346.5 713.8M356.4 716.5L356.9 716.6L357.4 716.7L357.9 716.8L358.4 716.8L358.9 716.9L359.4 717.0L359.9 717.0L360.4 717.1L360.9 717.2L361.4 717.2L361.9 717.3L362.4 717.3L362.9 717.4L363.4 717.4L363.9 717.4L364.4 717.5L364.9 717.5L365.4 717.6L365.9 717.6L366.4 717.6L366.7 717.6M377.0 718.0L377.4 718.0L377.9 718.0L378.4 718.0L378.9 718.0L379.4 718.0L379.9 718.0L380.4 718.0L380.9 718.0L381.4 718.0L381.9 718.0L382.4 718.1L382.9 718.1L383.4 718.1L383.9 718.1L384.4 718.1L384.9 718.1L385.4 718.1L385.9 718.1L386.4 718.1L386.9 718.1L387.3 718.1" stroke="#55612b" stroke-width="2.1" mask="url(#gm-e)"/>
</g>
<path d="M171.4 510.0L391.2 510.0L391.2 723.3" fill="none" stroke="#151515" stroke-width="1.3"/>
<path d="M171.4 509.35L171.4 723.3" fill="none" stroke="#0a0a0a" stroke-width="2.4"/>
<path d="M170.6 719.9L391.8 719.9" fill="none" stroke="#1c1c1c" stroke-width="1.15"/>
<path d="M171.4 719.9L171.4 724.1M198.9 719.9L198.9 722.7M226.3 719.9L226.3 724.1M253.8 719.9L253.8 722.7M281.3 719.9L281.3 724.1M308.8 719.9L308.8 722.7M336.2 719.9L336.2 724.1M363.7 719.9L363.7 722.7M391.2 719.9L391.2 724.1" fill="none" stroke="#222" stroke-width="1.2"/>
<text transform="translate(171.4 737.7) scale(1 1.0)" font-size="11.2" text-anchor="middle" stroke-width="0.06">10</text>
<text transform="translate(226.5 737.7) scale(1 1.0)" font-size="11.2" text-anchor="middle" stroke-width="0.06">15</text>
<text transform="translate(281.4 737.7) scale(1 1.0)" font-size="11.2" text-anchor="middle" stroke-width="0.06">20</text>
<text transform="translate(336.0 737.7) scale(1 1.0)" font-size="11.2" text-anchor="middle" stroke-width="0.06">25</text>
<text transform="translate(391.2 737.7) scale(1 1.0)" font-size="11.2" text-anchor="middle" stroke-width="0.06">30</text>
<text x="178.9" y="531.5" font-size="18.4">(e)</text>
<path d="M285.8 596.5L320.7 551.5" stroke="#000" stroke-width="1.65" fill="none"/><path d="M325.4 545.4L323.1 554.7L317.0 549.9Z" fill="#000"/>
<path d="M267.4 682.8L253.9 606.8" stroke="#000" stroke-width="1.65" fill="none"/><path d="M252.5 599.2L257.9 607.1L250.2 608.5Z" fill="#000"/>
<path d="M251.6 676.5L228.9 649.0" stroke="#000" stroke-width="1.65" fill="none"/><path d="M224.0 643.1L232.5 647.3L226.5 652.2Z" fill="#000"/>
<path d="M300.0 677.3L322.2 651.4" stroke="#000" stroke-width="1.65" fill="none"/><path d="M327.2 645.6L324.5 654.7L318.6 649.6Z" fill="#000"/>
<text transform="translate(317.2 538) scale(1 1.06)" font-size="12.5" stroke-width="0.2">20.3°(110)</text>
<text transform="translate(234.1 593.9) scale(1 1.06)" font-size="12.2" stroke-width="0.2">18.6°</text>
<text transform="translate(205.9 637.1) scale(1 1.06)" font-size="12.2" stroke-width="0.2">17.3°</text>
<text transform="translate(317.2 638.9) scale(1 1.06)" font-size="12.2" stroke-width="0.2">21.5°</text>
</g>
<text transform="translate(11.2 398.2) rotate(-90)" font-size="15">Intensity (a.u.)</text>
<text x="248.1" y="756.6" font-size="15">2θ (degree)</text>
</svg>
</body>
</html>
